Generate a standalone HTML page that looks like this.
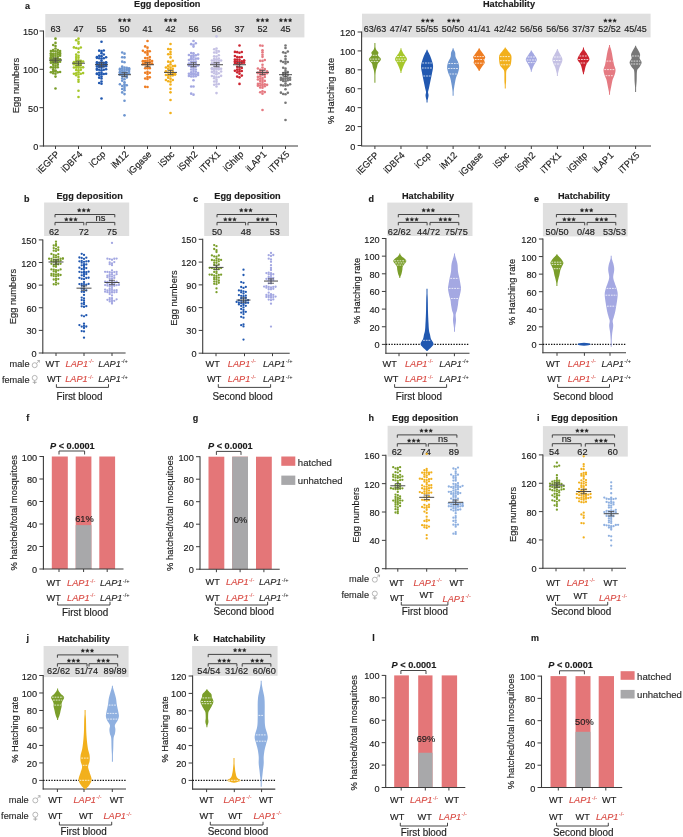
<!DOCTYPE html><html><head><meta charset="utf-8"><style>html,body{margin:0;padding:0;background:#fff;width:683px;height:837px;overflow:hidden}svg{display:block;font-family:"Liberation Sans", sans-serif;filter:blur(0.35px)}</style></head><body><svg width="683" height="837" viewBox="0 0 683 837"><rect x="0" y="0" width="683" height="837" fill="#ffffff"/>
<text x="0" y="0" font-size="9" text-anchor="start" fill="#1c1c1c" font-weight="bold" stroke="#1c1c1c" stroke-width="0.15" transform="translate(25.00 8.80) scale(1 1.03)">a</text>
<text x="0" y="0" font-size="9.2" text-anchor="middle" fill="#1c1c1c" font-weight="bold" stroke="#1c1c1c" stroke-width="0.15" transform="translate(167.30 7.30) scale(1 1.03)">Egg deposition</text>
<rect x="45.30" y="14.00" width="259.10" height="23.40" fill="#DFDFDF"/>
<line x1="43.50" y1="30.50" x2="43.50" y2="146.50" stroke="#3c3c3c" stroke-width="1.1" stroke-linecap="butt"/>
<line x1="39.50" y1="146.00" x2="43.50" y2="146.00" stroke="#3c3c3c" stroke-width="1.0" stroke-linecap="butt"/>
<text x="0" y="0" font-size="9.2" text-anchor="end" fill="#1c1c1c" stroke="#1c1c1c" stroke-width="0.15" transform="translate(38.30 150.00) scale(1 1.08)">0</text>
<line x1="39.50" y1="107.67" x2="43.50" y2="107.67" stroke="#3c3c3c" stroke-width="1.0" stroke-linecap="butt"/>
<text x="0" y="0" font-size="9.2" text-anchor="end" fill="#1c1c1c" stroke="#1c1c1c" stroke-width="0.15" transform="translate(38.30 111.67) scale(1 1.08)">50</text>
<line x1="39.50" y1="69.33" x2="43.50" y2="69.33" stroke="#3c3c3c" stroke-width="1.0" stroke-linecap="butt"/>
<text x="0" y="0" font-size="9.2" text-anchor="end" fill="#1c1c1c" stroke="#1c1c1c" stroke-width="0.15" transform="translate(38.30 73.33) scale(1 1.08)">100</text>
<line x1="39.50" y1="31.00" x2="43.50" y2="31.00" stroke="#3c3c3c" stroke-width="1.0" stroke-linecap="butt"/>
<text x="0" y="0" font-size="9.2" text-anchor="end" fill="#1c1c1c" stroke="#1c1c1c" stroke-width="0.15" transform="translate(38.30 35.00) scale(1 1.08)">150</text>
<line x1="43.00" y1="146.00" x2="298.00" y2="146.00" stroke="#3c3c3c" stroke-width="1.1" stroke-linecap="butt"/>
<line x1="55.50" y1="146.00" x2="55.50" y2="149.00" stroke="#3c3c3c" stroke-width="1.0" stroke-linecap="butt"/>
<line x1="78.50" y1="146.00" x2="78.50" y2="149.00" stroke="#3c3c3c" stroke-width="1.0" stroke-linecap="butt"/>
<line x1="101.50" y1="146.00" x2="101.50" y2="149.00" stroke="#3c3c3c" stroke-width="1.0" stroke-linecap="butt"/>
<line x1="124.50" y1="146.00" x2="124.50" y2="149.00" stroke="#3c3c3c" stroke-width="1.0" stroke-linecap="butt"/>
<line x1="147.50" y1="146.00" x2="147.50" y2="149.00" stroke="#3c3c3c" stroke-width="1.0" stroke-linecap="butt"/>
<line x1="170.50" y1="146.00" x2="170.50" y2="149.00" stroke="#3c3c3c" stroke-width="1.0" stroke-linecap="butt"/>
<line x1="193.50" y1="146.00" x2="193.50" y2="149.00" stroke="#3c3c3c" stroke-width="1.0" stroke-linecap="butt"/>
<line x1="216.50" y1="146.00" x2="216.50" y2="149.00" stroke="#3c3c3c" stroke-width="1.0" stroke-linecap="butt"/>
<line x1="239.50" y1="146.00" x2="239.50" y2="149.00" stroke="#3c3c3c" stroke-width="1.0" stroke-linecap="butt"/>
<line x1="262.50" y1="146.00" x2="262.50" y2="149.00" stroke="#3c3c3c" stroke-width="1.0" stroke-linecap="butt"/>
<line x1="285.50" y1="146.00" x2="285.50" y2="149.00" stroke="#3c3c3c" stroke-width="1.0" stroke-linecap="butt"/>
<text x="0" y="0" font-size="9.2" text-anchor="end" fill="#1c1c1c" stroke="#1c1c1c" stroke-width="0.15" transform="translate(60.00 155.00) rotate(-45) scale(1 1.03)">iEGFP</text>
<text x="0" y="0" font-size="9.2" text-anchor="end" fill="#1c1c1c" stroke="#1c1c1c" stroke-width="0.15" transform="translate(83.00 155.00) rotate(-45) scale(1 1.03)">iDBF4</text>
<text x="0" y="0" font-size="9.2" text-anchor="end" fill="#1c1c1c" stroke="#1c1c1c" stroke-width="0.15" transform="translate(106.00 155.00) rotate(-45) scale(1 1.03)">iCcp</text>
<text x="0" y="0" font-size="9.2" text-anchor="end" fill="#1c1c1c" stroke="#1c1c1c" stroke-width="0.15" transform="translate(129.00 155.00) rotate(-45) scale(1 1.03)">iM12</text>
<text x="0" y="0" font-size="9.2" text-anchor="end" fill="#1c1c1c" stroke="#1c1c1c" stroke-width="0.15" transform="translate(152.00 155.00) rotate(-45) scale(1 1.03)">iGgase</text>
<text x="0" y="0" font-size="9.2" text-anchor="end" fill="#1c1c1c" stroke="#1c1c1c" stroke-width="0.15" transform="translate(175.00 155.00) rotate(-45) scale(1 1.03)">iSbc</text>
<text x="0" y="0" font-size="9.2" text-anchor="end" fill="#1c1c1c" stroke="#1c1c1c" stroke-width="0.15" transform="translate(198.00 155.00) rotate(-45) scale(1 1.03)">iSph2</text>
<text x="0" y="0" font-size="9.2" text-anchor="end" fill="#1c1c1c" stroke="#1c1c1c" stroke-width="0.15" transform="translate(221.00 155.00) rotate(-45) scale(1 1.03)">iTPX1</text>
<text x="0" y="0" font-size="9.2" text-anchor="end" fill="#1c1c1c" stroke="#1c1c1c" stroke-width="0.15" transform="translate(244.00 155.00) rotate(-45) scale(1 1.03)">iGhitp</text>
<text x="0" y="0" font-size="9.2" text-anchor="end" fill="#1c1c1c" stroke="#1c1c1c" stroke-width="0.15" transform="translate(267.00 155.00) rotate(-45) scale(1 1.03)">iLAP1</text>
<text x="0" y="0" font-size="9.2" text-anchor="end" fill="#1c1c1c" stroke="#1c1c1c" stroke-width="0.15" transform="translate(290.00 155.00) rotate(-45) scale(1 1.03)">iTPX5</text>
<text x="0" y="0" font-size="9.3" text-anchor="middle" fill="#1c1c1c" stroke="#1c1c1c" stroke-width="0.15" transform="translate(19.20 85.60) rotate(-90) scale(1 1.03)">Egg numbers</text>
<text x="0" y="0" font-size="9.2" text-anchor="middle" fill="#1c1c1c" stroke="#1c1c1c" stroke-width="0.15" transform="translate(55.50 31.60) scale(1 1.03)">63</text>
<text x="0" y="0" font-size="9.2" text-anchor="middle" fill="#1c1c1c" stroke="#1c1c1c" stroke-width="0.15" transform="translate(78.50 31.60) scale(1 1.03)">47</text>
<text x="0" y="0" font-size="9.2" text-anchor="middle" fill="#1c1c1c" stroke="#1c1c1c" stroke-width="0.15" transform="translate(101.50 31.60) scale(1 1.03)">55</text>
<text x="0" y="0" font-size="9.2" text-anchor="middle" fill="#1c1c1c" stroke="#1c1c1c" stroke-width="0.15" transform="translate(124.50 31.60) scale(1 1.03)">50</text>
<polygon points="119.90,18.25 120.46,19.48 121.80,19.63 120.80,20.54 121.08,21.87 119.90,21.20 118.72,21.87 119.00,20.54 118.00,19.63 119.34,19.48" fill="#222" stroke="#222" stroke-width="0.35" stroke-linejoin="round"/>
<polygon points="124.50,18.25 125.06,19.48 126.40,19.63 125.40,20.54 125.68,21.87 124.50,21.20 123.32,21.87 123.60,20.54 122.60,19.63 123.94,19.48" fill="#222" stroke="#222" stroke-width="0.35" stroke-linejoin="round"/>
<polygon points="129.10,18.25 129.66,19.48 131.00,19.63 130.00,20.54 130.28,21.87 129.10,21.20 127.92,21.87 128.20,20.54 127.20,19.63 128.54,19.48" fill="#222" stroke="#222" stroke-width="0.35" stroke-linejoin="round"/>
<text x="0" y="0" font-size="9.2" text-anchor="middle" fill="#1c1c1c" stroke="#1c1c1c" stroke-width="0.15" transform="translate(147.50 31.60) scale(1 1.03)">41</text>
<text x="0" y="0" font-size="9.2" text-anchor="middle" fill="#1c1c1c" stroke="#1c1c1c" stroke-width="0.15" transform="translate(170.50 31.60) scale(1 1.03)">42</text>
<polygon points="165.90,18.25 166.46,19.48 167.80,19.63 166.80,20.54 167.08,21.87 165.90,21.20 164.72,21.87 165.00,20.54 164.00,19.63 165.34,19.48" fill="#222" stroke="#222" stroke-width="0.35" stroke-linejoin="round"/>
<polygon points="170.50,18.25 171.06,19.48 172.40,19.63 171.40,20.54 171.68,21.87 170.50,21.20 169.32,21.87 169.60,20.54 168.60,19.63 169.94,19.48" fill="#222" stroke="#222" stroke-width="0.35" stroke-linejoin="round"/>
<polygon points="175.10,18.25 175.66,19.48 177.00,19.63 176.00,20.54 176.28,21.87 175.10,21.20 173.92,21.87 174.20,20.54 173.20,19.63 174.54,19.48" fill="#222" stroke="#222" stroke-width="0.35" stroke-linejoin="round"/>
<text x="0" y="0" font-size="9.2" text-anchor="middle" fill="#1c1c1c" stroke="#1c1c1c" stroke-width="0.15" transform="translate(193.50 31.60) scale(1 1.03)">56</text>
<text x="0" y="0" font-size="9.2" text-anchor="middle" fill="#1c1c1c" stroke="#1c1c1c" stroke-width="0.15" transform="translate(216.50 31.60) scale(1 1.03)">56</text>
<text x="0" y="0" font-size="9.2" text-anchor="middle" fill="#1c1c1c" stroke="#1c1c1c" stroke-width="0.15" transform="translate(239.50 31.60) scale(1 1.03)">37</text>
<text x="0" y="0" font-size="9.2" text-anchor="middle" fill="#1c1c1c" stroke="#1c1c1c" stroke-width="0.15" transform="translate(262.50 31.60) scale(1 1.03)">52</text>
<polygon points="257.90,18.25 258.46,19.48 259.80,19.63 258.80,20.54 259.08,21.87 257.90,21.20 256.72,21.87 257.00,20.54 256.00,19.63 257.34,19.48" fill="#222" stroke="#222" stroke-width="0.35" stroke-linejoin="round"/>
<polygon points="262.50,18.25 263.06,19.48 264.40,19.63 263.40,20.54 263.68,21.87 262.50,21.20 261.32,21.87 261.60,20.54 260.60,19.63 261.94,19.48" fill="#222" stroke="#222" stroke-width="0.35" stroke-linejoin="round"/>
<polygon points="267.10,18.25 267.66,19.48 269.00,19.63 268.00,20.54 268.28,21.87 267.10,21.20 265.92,21.87 266.20,20.54 265.20,19.63 266.54,19.48" fill="#222" stroke="#222" stroke-width="0.35" stroke-linejoin="round"/>
<text x="0" y="0" font-size="9.2" text-anchor="middle" fill="#1c1c1c" stroke="#1c1c1c" stroke-width="0.15" transform="translate(285.50 31.60) scale(1 1.03)">45</text>
<polygon points="280.90,18.25 281.46,19.48 282.80,19.63 281.80,20.54 282.08,21.87 280.90,21.20 279.72,21.87 280.00,20.54 279.00,19.63 280.34,19.48" fill="#222" stroke="#222" stroke-width="0.35" stroke-linejoin="round"/>
<polygon points="285.50,18.25 286.06,19.48 287.40,19.63 286.40,20.54 286.68,21.87 285.50,21.20 284.32,21.87 284.60,20.54 283.60,19.63 284.94,19.48" fill="#222" stroke="#222" stroke-width="0.35" stroke-linejoin="round"/>
<polygon points="290.10,18.25 290.66,19.48 292.00,19.63 291.00,20.54 291.28,21.87 290.10,21.20 288.92,21.87 289.20,20.54 288.20,19.63 289.54,19.48" fill="#222" stroke="#222" stroke-width="0.35" stroke-linejoin="round"/>
<circle cx="55.50" cy="88.50" r="1.3" fill="#7A9E2A"/>
<circle cx="55.50" cy="76.60" r="1.3" fill="#7A9E2A"/>
<circle cx="55.50" cy="73.69" r="1.3" fill="#7A9E2A"/>
<circle cx="53.20" cy="73.19" r="1.3" fill="#7A9E2A"/>
<circle cx="57.80" cy="72.36" r="1.3" fill="#7A9E2A"/>
<circle cx="50.90" cy="72.31" r="1.3" fill="#7A9E2A"/>
<circle cx="60.10" cy="72.03" r="1.3" fill="#7A9E2A"/>
<circle cx="55.50" cy="71.39" r="1.3" fill="#7A9E2A"/>
<circle cx="53.20" cy="71.32" r="1.3" fill="#7A9E2A"/>
<circle cx="55.50" cy="70.61" r="1.3" fill="#7A9E2A"/>
<circle cx="53.20" cy="69.39" r="1.3" fill="#7A9E2A"/>
<circle cx="55.50" cy="67.60" r="1.3" fill="#7A9E2A"/>
<circle cx="53.20" cy="67.35" r="1.3" fill="#7A9E2A"/>
<circle cx="57.80" cy="67.31" r="1.3" fill="#7A9E2A"/>
<circle cx="50.90" cy="67.30" r="1.3" fill="#7A9E2A"/>
<circle cx="55.50" cy="65.67" r="1.3" fill="#7A9E2A"/>
<circle cx="53.20" cy="64.85" r="1.3" fill="#7A9E2A"/>
<circle cx="57.80" cy="64.78" r="1.3" fill="#7A9E2A"/>
<circle cx="55.50" cy="63.31" r="1.3" fill="#7A9E2A"/>
<circle cx="53.20" cy="62.79" r="1.3" fill="#7A9E2A"/>
<circle cx="57.80" cy="62.78" r="1.3" fill="#7A9E2A"/>
<circle cx="50.90" cy="62.66" r="1.3" fill="#7A9E2A"/>
<circle cx="60.10" cy="61.71" r="1.3" fill="#7A9E2A"/>
<circle cx="55.50" cy="61.27" r="1.3" fill="#7A9E2A"/>
<circle cx="53.20" cy="61.07" r="1.3" fill="#7A9E2A"/>
<circle cx="53.20" cy="60.99" r="1.3" fill="#7A9E2A"/>
<circle cx="57.80" cy="60.74" r="1.3" fill="#7A9E2A"/>
<circle cx="50.90" cy="60.71" r="1.3" fill="#7A9E2A"/>
<circle cx="55.50" cy="60.58" r="1.3" fill="#7A9E2A"/>
<circle cx="55.50" cy="60.11" r="1.3" fill="#7A9E2A"/>
<circle cx="55.50" cy="60.11" r="1.3" fill="#7A9E2A"/>
<circle cx="60.10" cy="59.26" r="1.3" fill="#7A9E2A"/>
<circle cx="53.20" cy="59.18" r="1.3" fill="#7A9E2A"/>
<circle cx="57.80" cy="58.83" r="1.3" fill="#7A9E2A"/>
<circle cx="50.90" cy="58.80" r="1.3" fill="#7A9E2A"/>
<circle cx="55.50" cy="58.20" r="1.3" fill="#7A9E2A"/>
<circle cx="50.90" cy="58.17" r="1.3" fill="#7A9E2A"/>
<circle cx="50.90" cy="57.62" r="1.3" fill="#7A9E2A"/>
<circle cx="53.20" cy="56.73" r="1.3" fill="#7A9E2A"/>
<circle cx="57.80" cy="56.66" r="1.3" fill="#7A9E2A"/>
<circle cx="55.50" cy="55.83" r="1.3" fill="#7A9E2A"/>
<circle cx="50.90" cy="55.77" r="1.3" fill="#7A9E2A"/>
<circle cx="60.10" cy="55.74" r="1.3" fill="#7A9E2A"/>
<circle cx="53.20" cy="54.95" r="1.3" fill="#7A9E2A"/>
<circle cx="57.80" cy="54.39" r="1.3" fill="#7A9E2A"/>
<circle cx="60.10" cy="54.04" r="1.3" fill="#7A9E2A"/>
<circle cx="55.50" cy="53.82" r="1.3" fill="#7A9E2A"/>
<circle cx="50.90" cy="53.76" r="1.3" fill="#7A9E2A"/>
<circle cx="53.20" cy="53.68" r="1.3" fill="#7A9E2A"/>
<circle cx="50.90" cy="53.64" r="1.3" fill="#7A9E2A"/>
<circle cx="60.10" cy="53.07" r="1.3" fill="#7A9E2A"/>
<circle cx="57.80" cy="52.38" r="1.3" fill="#7A9E2A"/>
<circle cx="55.50" cy="51.37" r="1.3" fill="#7A9E2A"/>
<circle cx="53.20" cy="51.09" r="1.3" fill="#7A9E2A"/>
<circle cx="50.90" cy="50.98" r="1.3" fill="#7A9E2A"/>
<circle cx="60.10" cy="50.94" r="1.3" fill="#7A9E2A"/>
<circle cx="57.80" cy="50.04" r="1.3" fill="#7A9E2A"/>
<circle cx="53.20" cy="50.03" r="1.3" fill="#7A9E2A"/>
<circle cx="55.50" cy="48.51" r="1.3" fill="#7A9E2A"/>
<circle cx="55.50" cy="46.02" r="1.3" fill="#7A9E2A"/>
<circle cx="53.20" cy="45.03" r="1.3" fill="#7A9E2A"/>
<circle cx="55.50" cy="42.91" r="1.3" fill="#7A9E2A"/>
<circle cx="55.50" cy="38.67" r="1.3" fill="#7A9E2A"/>
<line x1="49.00" y1="60.13" x2="62.00" y2="60.13" stroke="#4a4a4a" stroke-width="1.0" stroke-linecap="butt"/>
<line x1="52.50" y1="58.13" x2="58.50" y2="58.13" stroke="#4a4a4a" stroke-width="0.8" stroke-linecap="butt"/>
<line x1="52.50" y1="62.13" x2="58.50" y2="62.13" stroke="#4a4a4a" stroke-width="0.8" stroke-linecap="butt"/>
<line x1="55.50" y1="58.13" x2="55.50" y2="62.13" stroke="#4a4a4a" stroke-width="0.8" stroke-linecap="butt"/>
<circle cx="78.50" cy="96.93" r="1.3" fill="#A6C72A"/>
<circle cx="78.50" cy="90.77" r="1.3" fill="#A6C72A"/>
<circle cx="78.50" cy="81.75" r="1.3" fill="#A6C72A"/>
<circle cx="78.50" cy="79.86" r="1.3" fill="#A6C72A"/>
<circle cx="78.50" cy="77.04" r="1.3" fill="#A6C72A"/>
<circle cx="76.20" cy="75.29" r="1.3" fill="#A6C72A"/>
<circle cx="78.50" cy="74.53" r="1.3" fill="#A6C72A"/>
<circle cx="80.80" cy="73.79" r="1.3" fill="#A6C72A"/>
<circle cx="73.90" cy="73.72" r="1.3" fill="#A6C72A"/>
<circle cx="76.20" cy="73.27" r="1.3" fill="#A6C72A"/>
<circle cx="83.10" cy="73.09" r="1.3" fill="#A6C72A"/>
<circle cx="78.50" cy="72.22" r="1.3" fill="#A6C72A"/>
<circle cx="78.50" cy="70.31" r="1.3" fill="#A6C72A"/>
<circle cx="76.20" cy="70.12" r="1.3" fill="#A6C72A"/>
<circle cx="80.80" cy="69.87" r="1.3" fill="#A6C72A"/>
<circle cx="78.50" cy="67.82" r="1.3" fill="#A6C72A"/>
<circle cx="76.20" cy="67.60" r="1.3" fill="#A6C72A"/>
<circle cx="80.80" cy="67.54" r="1.3" fill="#A6C72A"/>
<circle cx="73.90" cy="67.52" r="1.3" fill="#A6C72A"/>
<circle cx="83.10" cy="67.37" r="1.3" fill="#A6C72A"/>
<circle cx="78.50" cy="66.61" r="1.3" fill="#A6C72A"/>
<circle cx="76.20" cy="65.63" r="1.3" fill="#A6C72A"/>
<circle cx="80.80" cy="65.02" r="1.3" fill="#A6C72A"/>
<circle cx="78.50" cy="64.69" r="1.3" fill="#A6C72A"/>
<circle cx="73.90" cy="64.24" r="1.3" fill="#A6C72A"/>
<circle cx="76.20" cy="63.23" r="1.3" fill="#A6C72A"/>
<circle cx="80.80" cy="63.13" r="1.3" fill="#A6C72A"/>
<circle cx="78.50" cy="62.63" r="1.3" fill="#A6C72A"/>
<circle cx="73.90" cy="62.13" r="1.3" fill="#A6C72A"/>
<circle cx="83.10" cy="61.51" r="1.3" fill="#A6C72A"/>
<circle cx="76.20" cy="61.06" r="1.3" fill="#A6C72A"/>
<circle cx="80.80" cy="60.91" r="1.3" fill="#A6C72A"/>
<circle cx="78.50" cy="60.24" r="1.3" fill="#A6C72A"/>
<circle cx="76.20" cy="59.00" r="1.3" fill="#A6C72A"/>
<circle cx="78.50" cy="57.70" r="1.3" fill="#A6C72A"/>
<circle cx="76.20" cy="56.96" r="1.3" fill="#A6C72A"/>
<circle cx="78.50" cy="55.73" r="1.3" fill="#A6C72A"/>
<circle cx="76.20" cy="54.64" r="1.3" fill="#A6C72A"/>
<circle cx="78.50" cy="52.22" r="1.3" fill="#A6C72A"/>
<circle cx="78.50" cy="48.59" r="1.3" fill="#A6C72A"/>
<circle cx="76.20" cy="47.98" r="1.3" fill="#A6C72A"/>
<circle cx="80.80" cy="47.55" r="1.3" fill="#A6C72A"/>
<circle cx="73.90" cy="47.38" r="1.3" fill="#A6C72A"/>
<circle cx="78.50" cy="43.58" r="1.3" fill="#A6C72A"/>
<circle cx="78.50" cy="41.77" r="1.3" fill="#A6C72A"/>
<circle cx="76.20" cy="40.21" r="1.3" fill="#A6C72A"/>
<circle cx="78.50" cy="38.67" r="1.3" fill="#A6C72A"/>
<line x1="72.00" y1="63.20" x2="85.00" y2="63.20" stroke="#4a4a4a" stroke-width="1.0" stroke-linecap="butt"/>
<line x1="75.50" y1="61.20" x2="81.50" y2="61.20" stroke="#4a4a4a" stroke-width="0.8" stroke-linecap="butt"/>
<line x1="75.50" y1="65.20" x2="81.50" y2="65.20" stroke="#4a4a4a" stroke-width="0.8" stroke-linecap="butt"/>
<line x1="78.50" y1="61.20" x2="78.50" y2="65.20" stroke="#4a4a4a" stroke-width="0.8" stroke-linecap="butt"/>
<circle cx="101.50" cy="98.47" r="1.3" fill="#2158B0"/>
<circle cx="101.50" cy="83.79" r="1.3" fill="#2158B0"/>
<circle cx="99.20" cy="82.99" r="1.3" fill="#2158B0"/>
<circle cx="101.50" cy="81.55" r="1.3" fill="#2158B0"/>
<circle cx="101.50" cy="78.45" r="1.3" fill="#2158B0"/>
<circle cx="99.20" cy="77.67" r="1.3" fill="#2158B0"/>
<circle cx="101.50" cy="76.59" r="1.3" fill="#2158B0"/>
<circle cx="99.20" cy="75.03" r="1.3" fill="#2158B0"/>
<circle cx="101.50" cy="74.23" r="1.3" fill="#2158B0"/>
<circle cx="103.80" cy="74.07" r="1.3" fill="#2158B0"/>
<circle cx="96.90" cy="74.03" r="1.3" fill="#2158B0"/>
<circle cx="106.10" cy="73.82" r="1.3" fill="#2158B0"/>
<circle cx="96.90" cy="73.65" r="1.3" fill="#2158B0"/>
<circle cx="99.20" cy="72.81" r="1.3" fill="#2158B0"/>
<circle cx="101.50" cy="72.67" r="1.3" fill="#2158B0"/>
<circle cx="101.50" cy="70.20" r="1.3" fill="#2158B0"/>
<circle cx="99.20" cy="69.82" r="1.3" fill="#2158B0"/>
<circle cx="103.80" cy="69.82" r="1.3" fill="#2158B0"/>
<circle cx="96.90" cy="69.74" r="1.3" fill="#2158B0"/>
<circle cx="106.10" cy="69.26" r="1.3" fill="#2158B0"/>
<circle cx="96.90" cy="68.72" r="1.3" fill="#2158B0"/>
<circle cx="101.50" cy="67.72" r="1.3" fill="#2158B0"/>
<circle cx="99.20" cy="67.06" r="1.3" fill="#2158B0"/>
<circle cx="103.80" cy="66.57" r="1.3" fill="#2158B0"/>
<circle cx="96.90" cy="66.53" r="1.3" fill="#2158B0"/>
<circle cx="106.10" cy="66.14" r="1.3" fill="#2158B0"/>
<circle cx="101.50" cy="65.88" r="1.3" fill="#2158B0"/>
<circle cx="101.50" cy="65.48" r="1.3" fill="#2158B0"/>
<circle cx="99.20" cy="65.25" r="1.3" fill="#2158B0"/>
<circle cx="103.80" cy="64.75" r="1.3" fill="#2158B0"/>
<circle cx="96.90" cy="64.29" r="1.3" fill="#2158B0"/>
<circle cx="106.10" cy="64.26" r="1.3" fill="#2158B0"/>
<circle cx="96.90" cy="64.17" r="1.3" fill="#2158B0"/>
<circle cx="101.50" cy="62.90" r="1.3" fill="#2158B0"/>
<circle cx="99.20" cy="62.87" r="1.3" fill="#2158B0"/>
<circle cx="103.80" cy="62.85" r="1.3" fill="#2158B0"/>
<circle cx="106.10" cy="62.74" r="1.3" fill="#2158B0"/>
<circle cx="101.50" cy="62.57" r="1.3" fill="#2158B0"/>
<circle cx="96.90" cy="62.34" r="1.3" fill="#2158B0"/>
<circle cx="106.10" cy="62.26" r="1.3" fill="#2158B0"/>
<circle cx="101.50" cy="60.49" r="1.3" fill="#2158B0"/>
<circle cx="101.50" cy="58.53" r="1.3" fill="#2158B0"/>
<circle cx="99.20" cy="58.31" r="1.3" fill="#2158B0"/>
<circle cx="103.80" cy="58.27" r="1.3" fill="#2158B0"/>
<circle cx="96.90" cy="57.84" r="1.3" fill="#2158B0"/>
<circle cx="106.10" cy="57.24" r="1.3" fill="#2158B0"/>
<circle cx="96.90" cy="57.03" r="1.3" fill="#2158B0"/>
<circle cx="101.50" cy="56.13" r="1.3" fill="#2158B0"/>
<circle cx="99.20" cy="55.85" r="1.3" fill="#2158B0"/>
<circle cx="103.80" cy="54.46" r="1.3" fill="#2158B0"/>
<circle cx="101.50" cy="53.16" r="1.3" fill="#2158B0"/>
<circle cx="101.50" cy="51.12" r="1.3" fill="#2158B0"/>
<circle cx="99.20" cy="50.64" r="1.3" fill="#2158B0"/>
<circle cx="103.80" cy="50.53" r="1.3" fill="#2158B0"/>
<circle cx="101.50" cy="41.73" r="1.3" fill="#2158B0"/>
<line x1="95.00" y1="64.73" x2="108.00" y2="64.73" stroke="#4a4a4a" stroke-width="1.0" stroke-linecap="butt"/>
<line x1="98.50" y1="62.73" x2="104.50" y2="62.73" stroke="#4a4a4a" stroke-width="0.8" stroke-linecap="butt"/>
<line x1="98.50" y1="66.73" x2="104.50" y2="66.73" stroke="#4a4a4a" stroke-width="0.8" stroke-linecap="butt"/>
<line x1="101.50" y1="62.73" x2="101.50" y2="66.73" stroke="#4a4a4a" stroke-width="0.8" stroke-linecap="butt"/>
<circle cx="124.50" cy="115.33" r="1.3" fill="#6E96D0"/>
<circle cx="124.50" cy="100.73" r="1.3" fill="#6E96D0"/>
<circle cx="124.50" cy="94.10" r="1.3" fill="#6E96D0"/>
<circle cx="122.20" cy="92.40" r="1.3" fill="#6E96D0"/>
<circle cx="124.50" cy="90.13" r="1.3" fill="#6E96D0"/>
<circle cx="122.20" cy="89.04" r="1.3" fill="#6E96D0"/>
<circle cx="124.50" cy="87.89" r="1.3" fill="#6E96D0"/>
<circle cx="124.50" cy="86.02" r="1.3" fill="#6E96D0"/>
<circle cx="122.20" cy="85.93" r="1.3" fill="#6E96D0"/>
<circle cx="126.80" cy="85.23" r="1.3" fill="#6E96D0"/>
<circle cx="119.90" cy="84.28" r="1.3" fill="#6E96D0"/>
<circle cx="124.50" cy="84.20" r="1.3" fill="#6E96D0"/>
<circle cx="124.50" cy="82.28" r="1.3" fill="#6E96D0"/>
<circle cx="122.20" cy="80.81" r="1.3" fill="#6E96D0"/>
<circle cx="124.50" cy="79.30" r="1.3" fill="#6E96D0"/>
<circle cx="122.20" cy="78.50" r="1.3" fill="#6E96D0"/>
<circle cx="126.80" cy="77.50" r="1.3" fill="#6E96D0"/>
<circle cx="124.50" cy="76.29" r="1.3" fill="#6E96D0"/>
<circle cx="122.20" cy="76.11" r="1.3" fill="#6E96D0"/>
<circle cx="126.80" cy="75.66" r="1.3" fill="#6E96D0"/>
<circle cx="119.90" cy="74.77" r="1.3" fill="#6E96D0"/>
<circle cx="124.50" cy="74.43" r="1.3" fill="#6E96D0"/>
<circle cx="122.20" cy="74.03" r="1.3" fill="#6E96D0"/>
<circle cx="126.80" cy="73.57" r="1.3" fill="#6E96D0"/>
<circle cx="129.10" cy="73.36" r="1.3" fill="#6E96D0"/>
<circle cx="124.50" cy="73.34" r="1.3" fill="#6E96D0"/>
<circle cx="119.90" cy="73.06" r="1.3" fill="#6E96D0"/>
<circle cx="119.90" cy="72.48" r="1.3" fill="#6E96D0"/>
<circle cx="126.80" cy="72.45" r="1.3" fill="#6E96D0"/>
<circle cx="122.20" cy="72.35" r="1.3" fill="#6E96D0"/>
<circle cx="119.90" cy="72.08" r="1.3" fill="#6E96D0"/>
<circle cx="124.50" cy="71.33" r="1.3" fill="#6E96D0"/>
<circle cx="129.10" cy="71.11" r="1.3" fill="#6E96D0"/>
<circle cx="122.20" cy="70.38" r="1.3" fill="#6E96D0"/>
<circle cx="126.80" cy="69.89" r="1.3" fill="#6E96D0"/>
<circle cx="119.90" cy="69.67" r="1.3" fill="#6E96D0"/>
<circle cx="124.50" cy="69.45" r="1.3" fill="#6E96D0"/>
<circle cx="129.10" cy="69.18" r="1.3" fill="#6E96D0"/>
<circle cx="119.90" cy="68.91" r="1.3" fill="#6E96D0"/>
<circle cx="122.20" cy="68.42" r="1.3" fill="#6E96D0"/>
<circle cx="129.10" cy="68.31" r="1.3" fill="#6E96D0"/>
<circle cx="126.80" cy="67.89" r="1.3" fill="#6E96D0"/>
<circle cx="124.50" cy="67.63" r="1.3" fill="#6E96D0"/>
<circle cx="122.20" cy="66.60" r="1.3" fill="#6E96D0"/>
<circle cx="124.50" cy="62.22" r="1.3" fill="#6E96D0"/>
<circle cx="122.20" cy="61.65" r="1.3" fill="#6E96D0"/>
<circle cx="124.50" cy="57.41" r="1.3" fill="#6E96D0"/>
<circle cx="122.20" cy="57.30" r="1.3" fill="#6E96D0"/>
<circle cx="124.50" cy="53.67" r="1.3" fill="#6E96D0"/>
<circle cx="122.20" cy="52.47" r="1.3" fill="#6E96D0"/>
<line x1="118.00" y1="74.70" x2="131.00" y2="74.70" stroke="#4a4a4a" stroke-width="1.0" stroke-linecap="butt"/>
<line x1="121.50" y1="72.70" x2="127.50" y2="72.70" stroke="#4a4a4a" stroke-width="0.8" stroke-linecap="butt"/>
<line x1="121.50" y1="76.70" x2="127.50" y2="76.70" stroke="#4a4a4a" stroke-width="0.8" stroke-linecap="butt"/>
<line x1="124.50" y1="72.70" x2="124.50" y2="76.70" stroke="#4a4a4a" stroke-width="0.8" stroke-linecap="butt"/>
<circle cx="147.50" cy="86.97" r="1.3" fill="#EE7D22"/>
<circle cx="145.20" cy="86.83" r="1.3" fill="#EE7D22"/>
<circle cx="147.50" cy="79.07" r="1.3" fill="#EE7D22"/>
<circle cx="145.20" cy="78.55" r="1.3" fill="#EE7D22"/>
<circle cx="149.80" cy="77.33" r="1.3" fill="#EE7D22"/>
<circle cx="147.50" cy="76.98" r="1.3" fill="#EE7D22"/>
<circle cx="147.50" cy="74.12" r="1.3" fill="#EE7D22"/>
<circle cx="145.20" cy="72.78" r="1.3" fill="#EE7D22"/>
<circle cx="149.80" cy="72.74" r="1.3" fill="#EE7D22"/>
<circle cx="147.50" cy="71.88" r="1.3" fill="#EE7D22"/>
<circle cx="147.50" cy="68.34" r="1.3" fill="#EE7D22"/>
<circle cx="145.20" cy="68.20" r="1.3" fill="#EE7D22"/>
<circle cx="149.80" cy="68.13" r="1.3" fill="#EE7D22"/>
<circle cx="147.50" cy="66.48" r="1.3" fill="#EE7D22"/>
<circle cx="147.50" cy="64.43" r="1.3" fill="#EE7D22"/>
<circle cx="145.20" cy="64.33" r="1.3" fill="#EE7D22"/>
<circle cx="149.80" cy="64.27" r="1.3" fill="#EE7D22"/>
<circle cx="142.90" cy="64.15" r="1.3" fill="#EE7D22"/>
<circle cx="152.10" cy="63.67" r="1.3" fill="#EE7D22"/>
<circle cx="145.20" cy="63.51" r="1.3" fill="#EE7D22"/>
<circle cx="147.50" cy="62.20" r="1.3" fill="#EE7D22"/>
<circle cx="149.80" cy="62.05" r="1.3" fill="#EE7D22"/>
<circle cx="145.20" cy="61.57" r="1.3" fill="#EE7D22"/>
<circle cx="142.90" cy="61.46" r="1.3" fill="#EE7D22"/>
<circle cx="152.10" cy="61.06" r="1.3" fill="#EE7D22"/>
<circle cx="142.90" cy="61.01" r="1.3" fill="#EE7D22"/>
<circle cx="145.20" cy="60.97" r="1.3" fill="#EE7D22"/>
<circle cx="147.50" cy="60.45" r="1.3" fill="#EE7D22"/>
<circle cx="149.80" cy="59.68" r="1.3" fill="#EE7D22"/>
<circle cx="147.50" cy="58.11" r="1.3" fill="#EE7D22"/>
<circle cx="145.20" cy="58.07" r="1.3" fill="#EE7D22"/>
<circle cx="149.80" cy="57.09" r="1.3" fill="#EE7D22"/>
<circle cx="147.50" cy="54.81" r="1.3" fill="#EE7D22"/>
<circle cx="147.50" cy="53.01" r="1.3" fill="#EE7D22"/>
<circle cx="145.20" cy="52.33" r="1.3" fill="#EE7D22"/>
<circle cx="149.80" cy="51.23" r="1.3" fill="#EE7D22"/>
<circle cx="147.50" cy="50.88" r="1.3" fill="#EE7D22"/>
<circle cx="142.90" cy="50.77" r="1.3" fill="#EE7D22"/>
<circle cx="147.50" cy="47.63" r="1.3" fill="#EE7D22"/>
<circle cx="145.20" cy="46.41" r="1.3" fill="#EE7D22"/>
<circle cx="147.50" cy="40.97" r="1.3" fill="#EE7D22"/>
<line x1="141.00" y1="64.73" x2="154.00" y2="64.73" stroke="#4a4a4a" stroke-width="1.0" stroke-linecap="butt"/>
<line x1="144.50" y1="62.73" x2="150.50" y2="62.73" stroke="#4a4a4a" stroke-width="0.8" stroke-linecap="butt"/>
<line x1="144.50" y1="66.73" x2="150.50" y2="66.73" stroke="#4a4a4a" stroke-width="0.8" stroke-linecap="butt"/>
<line x1="147.50" y1="62.73" x2="147.50" y2="66.73" stroke="#4a4a4a" stroke-width="0.8" stroke-linecap="butt"/>
<circle cx="170.50" cy="113.03" r="1.3" fill="#F2B01C"/>
<circle cx="170.50" cy="100.00" r="1.3" fill="#F2B01C"/>
<circle cx="170.50" cy="92.34" r="1.3" fill="#F2B01C"/>
<circle cx="170.50" cy="88.84" r="1.3" fill="#F2B01C"/>
<circle cx="170.50" cy="84.48" r="1.3" fill="#F2B01C"/>
<circle cx="170.50" cy="81.67" r="1.3" fill="#F2B01C"/>
<circle cx="168.20" cy="81.30" r="1.3" fill="#F2B01C"/>
<circle cx="172.80" cy="80.07" r="1.3" fill="#F2B01C"/>
<circle cx="165.90" cy="80.04" r="1.3" fill="#F2B01C"/>
<circle cx="170.50" cy="78.64" r="1.3" fill="#F2B01C"/>
<circle cx="168.20" cy="77.66" r="1.3" fill="#F2B01C"/>
<circle cx="170.50" cy="75.67" r="1.3" fill="#F2B01C"/>
<circle cx="168.20" cy="75.44" r="1.3" fill="#F2B01C"/>
<circle cx="172.80" cy="75.36" r="1.3" fill="#F2B01C"/>
<circle cx="165.90" cy="74.93" r="1.3" fill="#F2B01C"/>
<circle cx="175.10" cy="74.62" r="1.3" fill="#F2B01C"/>
<circle cx="175.10" cy="74.03" r="1.3" fill="#F2B01C"/>
<circle cx="172.80" cy="74.00" r="1.3" fill="#F2B01C"/>
<circle cx="170.50" cy="72.72" r="1.3" fill="#F2B01C"/>
<circle cx="168.20" cy="72.48" r="1.3" fill="#F2B01C"/>
<circle cx="172.80" cy="71.91" r="1.3" fill="#F2B01C"/>
<circle cx="165.90" cy="71.34" r="1.3" fill="#F2B01C"/>
<circle cx="170.50" cy="69.89" r="1.3" fill="#F2B01C"/>
<circle cx="168.20" cy="68.84" r="1.3" fill="#F2B01C"/>
<circle cx="172.80" cy="68.74" r="1.3" fill="#F2B01C"/>
<circle cx="170.50" cy="67.60" r="1.3" fill="#F2B01C"/>
<circle cx="165.90" cy="67.51" r="1.3" fill="#F2B01C"/>
<circle cx="168.20" cy="66.15" r="1.3" fill="#F2B01C"/>
<circle cx="172.80" cy="66.10" r="1.3" fill="#F2B01C"/>
<circle cx="175.10" cy="65.88" r="1.3" fill="#F2B01C"/>
<circle cx="168.20" cy="65.87" r="1.3" fill="#F2B01C"/>
<circle cx="170.50" cy="64.34" r="1.3" fill="#F2B01C"/>
<circle cx="170.50" cy="62.04" r="1.3" fill="#F2B01C"/>
<circle cx="168.20" cy="61.65" r="1.3" fill="#F2B01C"/>
<circle cx="172.80" cy="60.78" r="1.3" fill="#F2B01C"/>
<circle cx="170.50" cy="57.40" r="1.3" fill="#F2B01C"/>
<circle cx="170.50" cy="54.27" r="1.3" fill="#F2B01C"/>
<circle cx="168.20" cy="54.24" r="1.3" fill="#F2B01C"/>
<circle cx="170.50" cy="51.99" r="1.3" fill="#F2B01C"/>
<circle cx="170.50" cy="49.22" r="1.3" fill="#F2B01C"/>
<circle cx="168.20" cy="48.93" r="1.3" fill="#F2B01C"/>
<circle cx="170.50" cy="44.03" r="1.3" fill="#F2B01C"/>
<line x1="164.00" y1="72.40" x2="177.00" y2="72.40" stroke="#4a4a4a" stroke-width="1.0" stroke-linecap="butt"/>
<line x1="167.50" y1="70.40" x2="173.50" y2="70.40" stroke="#4a4a4a" stroke-width="0.8" stroke-linecap="butt"/>
<line x1="167.50" y1="74.40" x2="173.50" y2="74.40" stroke="#4a4a4a" stroke-width="0.8" stroke-linecap="butt"/>
<line x1="170.50" y1="70.40" x2="170.50" y2="74.40" stroke="#4a4a4a" stroke-width="0.8" stroke-linecap="butt"/>
<circle cx="193.50" cy="94.63" r="1.3" fill="#A4A8E2"/>
<circle cx="191.20" cy="93.65" r="1.3" fill="#A4A8E2"/>
<circle cx="193.50" cy="86.56" r="1.3" fill="#A4A8E2"/>
<circle cx="191.20" cy="86.43" r="1.3" fill="#A4A8E2"/>
<circle cx="193.50" cy="80.30" r="1.3" fill="#A4A8E2"/>
<circle cx="193.50" cy="76.57" r="1.3" fill="#A4A8E2"/>
<circle cx="191.20" cy="76.50" r="1.3" fill="#A4A8E2"/>
<circle cx="195.80" cy="76.18" r="1.3" fill="#A4A8E2"/>
<circle cx="188.90" cy="75.90" r="1.3" fill="#A4A8E2"/>
<circle cx="198.10" cy="74.99" r="1.3" fill="#A4A8E2"/>
<circle cx="193.50" cy="74.69" r="1.3" fill="#A4A8E2"/>
<circle cx="191.20" cy="74.39" r="1.3" fill="#A4A8E2"/>
<circle cx="195.80" cy="74.37" r="1.3" fill="#A4A8E2"/>
<circle cx="188.90" cy="73.71" r="1.3" fill="#A4A8E2"/>
<circle cx="193.50" cy="73.61" r="1.3" fill="#A4A8E2"/>
<circle cx="193.50" cy="73.54" r="1.3" fill="#A4A8E2"/>
<circle cx="198.10" cy="72.94" r="1.3" fill="#A4A8E2"/>
<circle cx="191.20" cy="72.38" r="1.3" fill="#A4A8E2"/>
<circle cx="195.80" cy="71.78" r="1.3" fill="#A4A8E2"/>
<circle cx="193.50" cy="71.00" r="1.3" fill="#A4A8E2"/>
<circle cx="191.20" cy="69.45" r="1.3" fill="#A4A8E2"/>
<circle cx="195.80" cy="69.43" r="1.3" fill="#A4A8E2"/>
<circle cx="193.50" cy="68.96" r="1.3" fill="#A4A8E2"/>
<circle cx="193.50" cy="66.94" r="1.3" fill="#A4A8E2"/>
<circle cx="191.20" cy="66.86" r="1.3" fill="#A4A8E2"/>
<circle cx="195.80" cy="66.58" r="1.3" fill="#A4A8E2"/>
<circle cx="188.90" cy="65.73" r="1.3" fill="#A4A8E2"/>
<circle cx="198.10" cy="65.48" r="1.3" fill="#A4A8E2"/>
<circle cx="193.50" cy="64.58" r="1.3" fill="#A4A8E2"/>
<circle cx="191.20" cy="64.46" r="1.3" fill="#A4A8E2"/>
<circle cx="195.80" cy="64.08" r="1.3" fill="#A4A8E2"/>
<circle cx="191.20" cy="63.99" r="1.3" fill="#A4A8E2"/>
<circle cx="188.90" cy="63.55" r="1.3" fill="#A4A8E2"/>
<circle cx="193.50" cy="61.68" r="1.3" fill="#A4A8E2"/>
<circle cx="191.20" cy="61.58" r="1.3" fill="#A4A8E2"/>
<circle cx="195.80" cy="61.56" r="1.3" fill="#A4A8E2"/>
<circle cx="188.90" cy="60.00" r="1.3" fill="#A4A8E2"/>
<circle cx="193.50" cy="59.55" r="1.3" fill="#A4A8E2"/>
<circle cx="191.20" cy="59.01" r="1.3" fill="#A4A8E2"/>
<circle cx="195.80" cy="58.66" r="1.3" fill="#A4A8E2"/>
<circle cx="198.10" cy="58.59" r="1.3" fill="#A4A8E2"/>
<circle cx="191.20" cy="58.49" r="1.3" fill="#A4A8E2"/>
<circle cx="191.20" cy="58.33" r="1.3" fill="#A4A8E2"/>
<circle cx="193.50" cy="57.11" r="1.3" fill="#A4A8E2"/>
<circle cx="191.20" cy="56.08" r="1.3" fill="#A4A8E2"/>
<circle cx="195.80" cy="55.37" r="1.3" fill="#A4A8E2"/>
<circle cx="193.50" cy="55.18" r="1.3" fill="#A4A8E2"/>
<circle cx="188.90" cy="54.96" r="1.3" fill="#A4A8E2"/>
<circle cx="198.10" cy="54.45" r="1.3" fill="#A4A8E2"/>
<circle cx="193.50" cy="53.23" r="1.3" fill="#A4A8E2"/>
<circle cx="191.20" cy="53.12" r="1.3" fill="#A4A8E2"/>
<circle cx="193.50" cy="46.62" r="1.3" fill="#A4A8E2"/>
<circle cx="193.50" cy="44.78" r="1.3" fill="#A4A8E2"/>
<circle cx="191.20" cy="44.14" r="1.3" fill="#A4A8E2"/>
<circle cx="195.80" cy="43.32" r="1.3" fill="#A4A8E2"/>
<circle cx="193.50" cy="40.97" r="1.3" fill="#A4A8E2"/>
<line x1="187.00" y1="64.73" x2="200.00" y2="64.73" stroke="#4a4a4a" stroke-width="1.0" stroke-linecap="butt"/>
<line x1="190.50" y1="62.73" x2="196.50" y2="62.73" stroke="#4a4a4a" stroke-width="0.8" stroke-linecap="butt"/>
<line x1="190.50" y1="66.73" x2="196.50" y2="66.73" stroke="#4a4a4a" stroke-width="0.8" stroke-linecap="butt"/>
<line x1="193.50" y1="62.73" x2="193.50" y2="66.73" stroke="#4a4a4a" stroke-width="0.8" stroke-linecap="butt"/>
<circle cx="216.50" cy="93.10" r="1.3" fill="#C5C1E4"/>
<circle cx="216.50" cy="86.50" r="1.3" fill="#C5C1E4"/>
<circle cx="214.20" cy="84.74" r="1.3" fill="#C5C1E4"/>
<circle cx="216.50" cy="84.26" r="1.3" fill="#C5C1E4"/>
<circle cx="218.80" cy="84.07" r="1.3" fill="#C5C1E4"/>
<circle cx="216.50" cy="81.67" r="1.3" fill="#C5C1E4"/>
<circle cx="214.20" cy="81.45" r="1.3" fill="#C5C1E4"/>
<circle cx="216.50" cy="79.73" r="1.3" fill="#C5C1E4"/>
<circle cx="214.20" cy="78.31" r="1.3" fill="#C5C1E4"/>
<circle cx="216.50" cy="77.39" r="1.3" fill="#C5C1E4"/>
<circle cx="218.80" cy="77.01" r="1.3" fill="#C5C1E4"/>
<circle cx="214.20" cy="76.46" r="1.3" fill="#C5C1E4"/>
<circle cx="211.90" cy="76.05" r="1.3" fill="#C5C1E4"/>
<circle cx="221.10" cy="75.84" r="1.3" fill="#C5C1E4"/>
<circle cx="216.50" cy="74.36" r="1.3" fill="#C5C1E4"/>
<circle cx="214.20" cy="73.25" r="1.3" fill="#C5C1E4"/>
<circle cx="218.80" cy="73.22" r="1.3" fill="#C5C1E4"/>
<circle cx="216.50" cy="72.09" r="1.3" fill="#C5C1E4"/>
<circle cx="211.90" cy="71.88" r="1.3" fill="#C5C1E4"/>
<circle cx="221.10" cy="71.57" r="1.3" fill="#C5C1E4"/>
<circle cx="214.20" cy="70.89" r="1.3" fill="#C5C1E4"/>
<circle cx="216.50" cy="69.46" r="1.3" fill="#C5C1E4"/>
<circle cx="218.80" cy="69.35" r="1.3" fill="#C5C1E4"/>
<circle cx="214.20" cy="69.00" r="1.3" fill="#C5C1E4"/>
<circle cx="211.90" cy="68.92" r="1.3" fill="#C5C1E4"/>
<circle cx="221.10" cy="68.72" r="1.3" fill="#C5C1E4"/>
<circle cx="214.20" cy="68.70" r="1.3" fill="#C5C1E4"/>
<circle cx="216.50" cy="68.36" r="1.3" fill="#C5C1E4"/>
<circle cx="211.90" cy="68.15" r="1.3" fill="#C5C1E4"/>
<circle cx="218.80" cy="67.53" r="1.3" fill="#C5C1E4"/>
<circle cx="216.50" cy="66.22" r="1.3" fill="#C5C1E4"/>
<circle cx="214.20" cy="65.97" r="1.3" fill="#C5C1E4"/>
<circle cx="218.80" cy="64.65" r="1.3" fill="#C5C1E4"/>
<circle cx="216.50" cy="64.13" r="1.3" fill="#C5C1E4"/>
<circle cx="214.20" cy="63.38" r="1.3" fill="#C5C1E4"/>
<circle cx="211.90" cy="63.20" r="1.3" fill="#C5C1E4"/>
<circle cx="218.80" cy="62.68" r="1.3" fill="#C5C1E4"/>
<circle cx="216.50" cy="62.10" r="1.3" fill="#C5C1E4"/>
<circle cx="214.20" cy="60.66" r="1.3" fill="#C5C1E4"/>
<circle cx="218.80" cy="60.66" r="1.3" fill="#C5C1E4"/>
<circle cx="211.90" cy="60.50" r="1.3" fill="#C5C1E4"/>
<circle cx="221.10" cy="60.46" r="1.3" fill="#C5C1E4"/>
<circle cx="216.50" cy="59.58" r="1.3" fill="#C5C1E4"/>
<circle cx="216.50" cy="59.54" r="1.3" fill="#C5C1E4"/>
<circle cx="214.20" cy="58.84" r="1.3" fill="#C5C1E4"/>
<circle cx="218.80" cy="58.46" r="1.3" fill="#C5C1E4"/>
<circle cx="216.50" cy="56.61" r="1.3" fill="#C5C1E4"/>
<circle cx="214.20" cy="56.33" r="1.3" fill="#C5C1E4"/>
<circle cx="218.80" cy="55.28" r="1.3" fill="#C5C1E4"/>
<circle cx="216.50" cy="52.68" r="1.3" fill="#C5C1E4"/>
<circle cx="214.20" cy="52.54" r="1.3" fill="#C5C1E4"/>
<circle cx="218.80" cy="51.39" r="1.3" fill="#C5C1E4"/>
<circle cx="216.50" cy="50.77" r="1.3" fill="#C5C1E4"/>
<circle cx="214.20" cy="49.25" r="1.3" fill="#C5C1E4"/>
<circle cx="216.50" cy="48.47" r="1.3" fill="#C5C1E4"/>
<circle cx="216.50" cy="36.37" r="1.3" fill="#C5C1E4"/>
<line x1="210.00" y1="64.73" x2="223.00" y2="64.73" stroke="#4a4a4a" stroke-width="1.0" stroke-linecap="butt"/>
<line x1="213.50" y1="62.73" x2="219.50" y2="62.73" stroke="#4a4a4a" stroke-width="0.8" stroke-linecap="butt"/>
<line x1="213.50" y1="66.73" x2="219.50" y2="66.73" stroke="#4a4a4a" stroke-width="0.8" stroke-linecap="butt"/>
<line x1="216.50" y1="62.73" x2="216.50" y2="66.73" stroke="#4a4a4a" stroke-width="0.8" stroke-linecap="butt"/>
<circle cx="239.50" cy="83.90" r="1.3" fill="#CC2430"/>
<circle cx="239.50" cy="77.33" r="1.3" fill="#CC2430"/>
<circle cx="237.20" cy="76.60" r="1.3" fill="#CC2430"/>
<circle cx="241.80" cy="75.61" r="1.3" fill="#CC2430"/>
<circle cx="239.50" cy="73.67" r="1.3" fill="#CC2430"/>
<circle cx="237.20" cy="72.33" r="1.3" fill="#CC2430"/>
<circle cx="239.50" cy="71.28" r="1.3" fill="#CC2430"/>
<circle cx="241.80" cy="70.99" r="1.3" fill="#CC2430"/>
<circle cx="234.90" cy="70.79" r="1.3" fill="#CC2430"/>
<circle cx="237.20" cy="69.67" r="1.3" fill="#CC2430"/>
<circle cx="239.50" cy="69.43" r="1.3" fill="#CC2430"/>
<circle cx="241.80" cy="67.95" r="1.3" fill="#CC2430"/>
<circle cx="239.50" cy="67.44" r="1.3" fill="#CC2430"/>
<circle cx="237.20" cy="66.83" r="1.3" fill="#CC2430"/>
<circle cx="239.50" cy="64.15" r="1.3" fill="#CC2430"/>
<circle cx="237.20" cy="63.43" r="1.3" fill="#CC2430"/>
<circle cx="241.80" cy="63.11" r="1.3" fill="#CC2430"/>
<circle cx="234.90" cy="62.95" r="1.3" fill="#CC2430"/>
<circle cx="244.10" cy="62.76" r="1.3" fill="#CC2430"/>
<circle cx="239.50" cy="61.68" r="1.3" fill="#CC2430"/>
<circle cx="237.20" cy="61.61" r="1.3" fill="#CC2430"/>
<circle cx="234.90" cy="61.32" r="1.3" fill="#CC2430"/>
<circle cx="241.80" cy="61.19" r="1.3" fill="#CC2430"/>
<circle cx="244.10" cy="60.78" r="1.3" fill="#CC2430"/>
<circle cx="244.10" cy="60.56" r="1.3" fill="#CC2430"/>
<circle cx="239.50" cy="59.78" r="1.3" fill="#CC2430"/>
<circle cx="237.20" cy="59.62" r="1.3" fill="#CC2430"/>
<circle cx="234.90" cy="59.49" r="1.3" fill="#CC2430"/>
<circle cx="239.50" cy="57.25" r="1.3" fill="#CC2430"/>
<circle cx="237.20" cy="57.04" r="1.3" fill="#CC2430"/>
<circle cx="241.80" cy="56.96" r="1.3" fill="#CC2430"/>
<circle cx="234.90" cy="56.07" r="1.3" fill="#CC2430"/>
<circle cx="239.50" cy="52.82" r="1.3" fill="#CC2430"/>
<circle cx="237.20" cy="52.13" r="1.3" fill="#CC2430"/>
<circle cx="241.80" cy="52.05" r="1.3" fill="#CC2430"/>
<circle cx="234.90" cy="51.89" r="1.3" fill="#CC2430"/>
<circle cx="239.50" cy="45.57" r="1.3" fill="#CC2430"/>
<line x1="233.00" y1="64.73" x2="246.00" y2="64.73" stroke="#4a4a4a" stroke-width="1.0" stroke-linecap="butt"/>
<line x1="236.50" y1="62.73" x2="242.50" y2="62.73" stroke="#4a4a4a" stroke-width="0.8" stroke-linecap="butt"/>
<line x1="236.50" y1="66.73" x2="242.50" y2="66.73" stroke="#4a4a4a" stroke-width="0.8" stroke-linecap="butt"/>
<line x1="239.50" y1="62.73" x2="239.50" y2="66.73" stroke="#4a4a4a" stroke-width="0.8" stroke-linecap="butt"/>
<circle cx="262.50" cy="109.97" r="1.3" fill="#E57A82"/>
<circle cx="262.50" cy="93.67" r="1.3" fill="#E57A82"/>
<circle cx="260.20" cy="92.21" r="1.3" fill="#E57A82"/>
<circle cx="264.80" cy="92.10" r="1.3" fill="#E57A82"/>
<circle cx="262.50" cy="91.30" r="1.3" fill="#E57A82"/>
<circle cx="262.50" cy="87.68" r="1.3" fill="#E57A82"/>
<circle cx="260.20" cy="87.44" r="1.3" fill="#E57A82"/>
<circle cx="264.80" cy="86.29" r="1.3" fill="#E57A82"/>
<circle cx="262.50" cy="85.84" r="1.3" fill="#E57A82"/>
<circle cx="257.90" cy="85.73" r="1.3" fill="#E57A82"/>
<circle cx="260.20" cy="85.53" r="1.3" fill="#E57A82"/>
<circle cx="267.10" cy="84.86" r="1.3" fill="#E57A82"/>
<circle cx="264.80" cy="84.33" r="1.3" fill="#E57A82"/>
<circle cx="262.50" cy="84.18" r="1.3" fill="#E57A82"/>
<circle cx="257.90" cy="83.89" r="1.3" fill="#E57A82"/>
<circle cx="260.20" cy="83.44" r="1.3" fill="#E57A82"/>
<circle cx="262.50" cy="82.03" r="1.3" fill="#E57A82"/>
<circle cx="260.20" cy="80.95" r="1.3" fill="#E57A82"/>
<circle cx="264.80" cy="80.91" r="1.3" fill="#E57A82"/>
<circle cx="262.50" cy="79.92" r="1.3" fill="#E57A82"/>
<circle cx="257.90" cy="79.52" r="1.3" fill="#E57A82"/>
<circle cx="260.20" cy="78.66" r="1.3" fill="#E57A82"/>
<circle cx="262.50" cy="78.00" r="1.3" fill="#E57A82"/>
<circle cx="264.80" cy="77.02" r="1.3" fill="#E57A82"/>
<circle cx="257.90" cy="76.92" r="1.3" fill="#E57A82"/>
<circle cx="260.20" cy="76.37" r="1.3" fill="#E57A82"/>
<circle cx="262.50" cy="74.92" r="1.3" fill="#E57A82"/>
<circle cx="264.80" cy="74.81" r="1.3" fill="#E57A82"/>
<circle cx="260.20" cy="73.80" r="1.3" fill="#E57A82"/>
<circle cx="257.90" cy="73.20" r="1.3" fill="#E57A82"/>
<circle cx="267.10" cy="73.14" r="1.3" fill="#E57A82"/>
<circle cx="262.50" cy="72.92" r="1.3" fill="#E57A82"/>
<circle cx="264.80" cy="72.73" r="1.3" fill="#E57A82"/>
<circle cx="257.90" cy="72.55" r="1.3" fill="#E57A82"/>
<circle cx="262.50" cy="72.41" r="1.3" fill="#E57A82"/>
<circle cx="260.20" cy="71.63" r="1.3" fill="#E57A82"/>
<circle cx="267.10" cy="71.20" r="1.3" fill="#E57A82"/>
<circle cx="262.50" cy="69.88" r="1.3" fill="#E57A82"/>
<circle cx="260.20" cy="69.78" r="1.3" fill="#E57A82"/>
<circle cx="264.80" cy="69.09" r="1.3" fill="#E57A82"/>
<circle cx="257.90" cy="68.47" r="1.3" fill="#E57A82"/>
<circle cx="262.50" cy="67.46" r="1.3" fill="#E57A82"/>
<circle cx="262.50" cy="64.71" r="1.3" fill="#E57A82"/>
<circle cx="262.50" cy="60.92" r="1.3" fill="#E57A82"/>
<circle cx="260.20" cy="60.83" r="1.3" fill="#E57A82"/>
<circle cx="264.80" cy="59.98" r="1.3" fill="#E57A82"/>
<circle cx="262.50" cy="56.85" r="1.3" fill="#E57A82"/>
<circle cx="262.50" cy="54.81" r="1.3" fill="#E57A82"/>
<circle cx="262.50" cy="52.30" r="1.3" fill="#E57A82"/>
<circle cx="262.50" cy="50.36" r="1.3" fill="#E57A82"/>
<circle cx="262.50" cy="45.75" r="1.3" fill="#E57A82"/>
<circle cx="260.20" cy="45.57" r="1.3" fill="#E57A82"/>
<line x1="256.00" y1="72.40" x2="269.00" y2="72.40" stroke="#4a4a4a" stroke-width="1.0" stroke-linecap="butt"/>
<line x1="259.50" y1="70.40" x2="265.50" y2="70.40" stroke="#4a4a4a" stroke-width="0.8" stroke-linecap="butt"/>
<line x1="259.50" y1="74.40" x2="265.50" y2="74.40" stroke="#4a4a4a" stroke-width="0.8" stroke-linecap="butt"/>
<line x1="262.50" y1="70.40" x2="262.50" y2="74.40" stroke="#4a4a4a" stroke-width="0.8" stroke-linecap="butt"/>
<circle cx="285.50" cy="119.93" r="1.3" fill="#777777"/>
<circle cx="285.50" cy="102.81" r="1.3" fill="#777777"/>
<circle cx="285.50" cy="94.22" r="1.3" fill="#777777"/>
<circle cx="283.20" cy="93.96" r="1.3" fill="#777777"/>
<circle cx="287.80" cy="92.84" r="1.3" fill="#777777"/>
<circle cx="280.90" cy="92.65" r="1.3" fill="#777777"/>
<circle cx="285.50" cy="89.27" r="1.3" fill="#777777"/>
<circle cx="285.50" cy="85.58" r="1.3" fill="#777777"/>
<circle cx="283.20" cy="85.57" r="1.3" fill="#777777"/>
<circle cx="287.80" cy="85.19" r="1.3" fill="#777777"/>
<circle cx="280.90" cy="85.10" r="1.3" fill="#777777"/>
<circle cx="290.10" cy="84.19" r="1.3" fill="#777777"/>
<circle cx="285.50" cy="83.43" r="1.3" fill="#777777"/>
<circle cx="285.50" cy="81.18" r="1.3" fill="#777777"/>
<circle cx="283.20" cy="80.96" r="1.3" fill="#777777"/>
<circle cx="287.80" cy="80.23" r="1.3" fill="#777777"/>
<circle cx="280.90" cy="79.83" r="1.3" fill="#777777"/>
<circle cx="290.10" cy="79.78" r="1.3" fill="#777777"/>
<circle cx="283.20" cy="79.54" r="1.3" fill="#777777"/>
<circle cx="285.50" cy="78.86" r="1.3" fill="#777777"/>
<circle cx="283.20" cy="78.48" r="1.3" fill="#777777"/>
<circle cx="287.80" cy="78.37" r="1.3" fill="#777777"/>
<circle cx="280.90" cy="77.92" r="1.3" fill="#777777"/>
<circle cx="290.10" cy="77.69" r="1.3" fill="#777777"/>
<circle cx="285.50" cy="76.52" r="1.3" fill="#777777"/>
<circle cx="283.20" cy="74.83" r="1.3" fill="#777777"/>
<circle cx="287.80" cy="74.75" r="1.3" fill="#777777"/>
<circle cx="285.50" cy="73.55" r="1.3" fill="#777777"/>
<circle cx="283.20" cy="72.93" r="1.3" fill="#777777"/>
<circle cx="287.80" cy="72.12" r="1.3" fill="#777777"/>
<circle cx="285.50" cy="71.08" r="1.3" fill="#777777"/>
<circle cx="285.50" cy="68.67" r="1.3" fill="#777777"/>
<circle cx="283.20" cy="67.80" r="1.3" fill="#777777"/>
<circle cx="285.50" cy="63.54" r="1.3" fill="#777777"/>
<circle cx="283.20" cy="62.07" r="1.3" fill="#777777"/>
<circle cx="287.80" cy="61.95" r="1.3" fill="#777777"/>
<circle cx="285.50" cy="61.59" r="1.3" fill="#777777"/>
<circle cx="280.90" cy="61.11" r="1.3" fill="#777777"/>
<circle cx="285.50" cy="59.02" r="1.3" fill="#777777"/>
<circle cx="285.50" cy="56.30" r="1.3" fill="#777777"/>
<circle cx="285.50" cy="53.01" r="1.3" fill="#777777"/>
<circle cx="283.20" cy="52.33" r="1.3" fill="#777777"/>
<circle cx="287.80" cy="51.54" r="1.3" fill="#777777"/>
<circle cx="285.50" cy="48.03" r="1.3" fill="#777777"/>
<circle cx="285.50" cy="45.57" r="1.3" fill="#777777"/>
<line x1="279.00" y1="74.70" x2="292.00" y2="74.70" stroke="#4a4a4a" stroke-width="1.0" stroke-linecap="butt"/>
<line x1="282.50" y1="72.70" x2="288.50" y2="72.70" stroke="#4a4a4a" stroke-width="0.8" stroke-linecap="butt"/>
<line x1="282.50" y1="76.70" x2="288.50" y2="76.70" stroke="#4a4a4a" stroke-width="0.8" stroke-linecap="butt"/>
<line x1="285.50" y1="72.70" x2="285.50" y2="76.70" stroke="#4a4a4a" stroke-width="0.8" stroke-linecap="butt"/>
<text x="0" y="0" font-size="9.2" text-anchor="middle" fill="#1c1c1c" font-weight="bold" stroke="#1c1c1c" stroke-width="0.15" transform="translate(509.00 7.30) scale(1 1.03)">Hatchability</text>
<rect x="362.00" y="13.70" width="288.60" height="23.70" fill="#DFDFDF"/>
<line x1="361.60" y1="31.50" x2="361.60" y2="146.00" stroke="#3c3c3c" stroke-width="1.1" stroke-linecap="butt"/>
<line x1="357.60" y1="145.50" x2="361.60" y2="145.50" stroke="#3c3c3c" stroke-width="1.0" stroke-linecap="butt"/>
<text x="0" y="0" font-size="9.2" text-anchor="end" fill="#1c1c1c" stroke="#1c1c1c" stroke-width="0.15" transform="translate(355.40 149.50) scale(1 1.08)">0</text>
<line x1="357.60" y1="126.58" x2="361.60" y2="126.58" stroke="#3c3c3c" stroke-width="1.0" stroke-linecap="butt"/>
<text x="0" y="0" font-size="9.2" text-anchor="end" fill="#1c1c1c" stroke="#1c1c1c" stroke-width="0.15" transform="translate(355.40 130.58) scale(1 1.08)">20</text>
<line x1="357.60" y1="107.67" x2="361.60" y2="107.67" stroke="#3c3c3c" stroke-width="1.0" stroke-linecap="butt"/>
<text x="0" y="0" font-size="9.2" text-anchor="end" fill="#1c1c1c" stroke="#1c1c1c" stroke-width="0.15" transform="translate(355.40 111.67) scale(1 1.08)">40</text>
<line x1="357.60" y1="88.75" x2="361.60" y2="88.75" stroke="#3c3c3c" stroke-width="1.0" stroke-linecap="butt"/>
<text x="0" y="0" font-size="9.2" text-anchor="end" fill="#1c1c1c" stroke="#1c1c1c" stroke-width="0.15" transform="translate(355.40 92.75) scale(1 1.08)">60</text>
<line x1="357.60" y1="69.84" x2="361.60" y2="69.84" stroke="#3c3c3c" stroke-width="1.0" stroke-linecap="butt"/>
<text x="0" y="0" font-size="9.2" text-anchor="end" fill="#1c1c1c" stroke="#1c1c1c" stroke-width="0.15" transform="translate(355.40 73.84) scale(1 1.08)">80</text>
<line x1="357.60" y1="50.92" x2="361.60" y2="50.92" stroke="#3c3c3c" stroke-width="1.0" stroke-linecap="butt"/>
<text x="0" y="0" font-size="9.2" text-anchor="end" fill="#1c1c1c" stroke="#1c1c1c" stroke-width="0.15" transform="translate(355.40 54.92) scale(1 1.08)">100</text>
<line x1="357.60" y1="32.00" x2="361.60" y2="32.00" stroke="#3c3c3c" stroke-width="1.0" stroke-linecap="butt"/>
<text x="0" y="0" font-size="9.2" text-anchor="end" fill="#1c1c1c" stroke="#1c1c1c" stroke-width="0.15" transform="translate(355.40 36.00) scale(1 1.08)">120</text>
<line x1="361.10" y1="146.00" x2="651.00" y2="146.00" stroke="#3c3c3c" stroke-width="1.1" stroke-linecap="butt"/>
<line x1="374.90" y1="146.00" x2="374.90" y2="149.00" stroke="#3c3c3c" stroke-width="1.0" stroke-linecap="butt"/>
<line x1="400.97" y1="146.00" x2="400.97" y2="149.00" stroke="#3c3c3c" stroke-width="1.0" stroke-linecap="butt"/>
<line x1="427.04" y1="146.00" x2="427.04" y2="149.00" stroke="#3c3c3c" stroke-width="1.0" stroke-linecap="butt"/>
<line x1="453.11" y1="146.00" x2="453.11" y2="149.00" stroke="#3c3c3c" stroke-width="1.0" stroke-linecap="butt"/>
<line x1="479.18" y1="146.00" x2="479.18" y2="149.00" stroke="#3c3c3c" stroke-width="1.0" stroke-linecap="butt"/>
<line x1="505.25" y1="146.00" x2="505.25" y2="149.00" stroke="#3c3c3c" stroke-width="1.0" stroke-linecap="butt"/>
<line x1="531.32" y1="146.00" x2="531.32" y2="149.00" stroke="#3c3c3c" stroke-width="1.0" stroke-linecap="butt"/>
<line x1="557.39" y1="146.00" x2="557.39" y2="149.00" stroke="#3c3c3c" stroke-width="1.0" stroke-linecap="butt"/>
<line x1="583.46" y1="146.00" x2="583.46" y2="149.00" stroke="#3c3c3c" stroke-width="1.0" stroke-linecap="butt"/>
<line x1="609.53" y1="146.00" x2="609.53" y2="149.00" stroke="#3c3c3c" stroke-width="1.0" stroke-linecap="butt"/>
<line x1="635.60" y1="146.00" x2="635.60" y2="149.00" stroke="#3c3c3c" stroke-width="1.0" stroke-linecap="butt"/>
<text x="0" y="0" font-size="9.2" text-anchor="end" fill="#1c1c1c" stroke="#1c1c1c" stroke-width="0.15" transform="translate(379.40 156.00) rotate(-45) scale(1 1.03)">iEGFP</text>
<text x="0" y="0" font-size="9.2" text-anchor="end" fill="#1c1c1c" stroke="#1c1c1c" stroke-width="0.15" transform="translate(405.47 156.00) rotate(-45) scale(1 1.03)">iDBF4</text>
<text x="0" y="0" font-size="9.2" text-anchor="end" fill="#1c1c1c" stroke="#1c1c1c" stroke-width="0.15" transform="translate(431.54 156.00) rotate(-45) scale(1 1.03)">iCcp</text>
<text x="0" y="0" font-size="9.2" text-anchor="end" fill="#1c1c1c" stroke="#1c1c1c" stroke-width="0.15" transform="translate(457.61 156.00) rotate(-45) scale(1 1.03)">iM12</text>
<text x="0" y="0" font-size="9.2" text-anchor="end" fill="#1c1c1c" stroke="#1c1c1c" stroke-width="0.15" transform="translate(483.68 156.00) rotate(-45) scale(1 1.03)">iGgase</text>
<text x="0" y="0" font-size="9.2" text-anchor="end" fill="#1c1c1c" stroke="#1c1c1c" stroke-width="0.15" transform="translate(509.75 156.00) rotate(-45) scale(1 1.03)">iSbc</text>
<text x="0" y="0" font-size="9.2" text-anchor="end" fill="#1c1c1c" stroke="#1c1c1c" stroke-width="0.15" transform="translate(535.82 156.00) rotate(-45) scale(1 1.03)">iSph2</text>
<text x="0" y="0" font-size="9.2" text-anchor="end" fill="#1c1c1c" stroke="#1c1c1c" stroke-width="0.15" transform="translate(561.89 156.00) rotate(-45) scale(1 1.03)">iTPX1</text>
<text x="0" y="0" font-size="9.2" text-anchor="end" fill="#1c1c1c" stroke="#1c1c1c" stroke-width="0.15" transform="translate(587.96 156.00) rotate(-45) scale(1 1.03)">iGhitp</text>
<text x="0" y="0" font-size="9.2" text-anchor="end" fill="#1c1c1c" stroke="#1c1c1c" stroke-width="0.15" transform="translate(614.03 156.00) rotate(-45) scale(1 1.03)">iLAP1</text>
<text x="0" y="0" font-size="9.2" text-anchor="end" fill="#1c1c1c" stroke="#1c1c1c" stroke-width="0.15" transform="translate(640.10 156.00) rotate(-45) scale(1 1.03)">iTPX5</text>
<text x="0" y="0" font-size="9.3" text-anchor="middle" fill="#1c1c1c" stroke="#1c1c1c" stroke-width="0.15" transform="translate(334.30 91.00) rotate(-90) scale(1 1.03)">% Hatching rate</text>
<text x="0" y="0" font-size="9.0" text-anchor="middle" fill="#1c1c1c" stroke="#1c1c1c" stroke-width="0.15" transform="translate(374.90 31.60) scale(1 1.03)">63/63</text>
<text x="0" y="0" font-size="9.0" text-anchor="middle" fill="#1c1c1c" stroke="#1c1c1c" stroke-width="0.15" transform="translate(400.97 31.60) scale(1 1.03)">47/47</text>
<text x="0" y="0" font-size="9.0" text-anchor="middle" fill="#1c1c1c" stroke="#1c1c1c" stroke-width="0.15" transform="translate(427.04 31.60) scale(1 1.03)">55/55</text>
<polygon points="422.94,18.65 423.50,19.88 424.84,20.03 423.84,20.94 424.12,22.27 422.94,21.60 421.76,22.27 422.04,20.94 421.04,20.03 422.38,19.88" fill="#222" stroke="#222" stroke-width="0.35" stroke-linejoin="round"/>
<polygon points="427.54,18.65 428.10,19.88 429.44,20.03 428.44,20.94 428.72,22.27 427.54,21.60 426.36,22.27 426.64,20.94 425.64,20.03 426.98,19.88" fill="#222" stroke="#222" stroke-width="0.35" stroke-linejoin="round"/>
<polygon points="432.14,18.65 432.70,19.88 434.04,20.03 433.04,20.94 433.32,22.27 432.14,21.60 430.96,22.27 431.24,20.94 430.24,20.03 431.58,19.88" fill="#222" stroke="#222" stroke-width="0.35" stroke-linejoin="round"/>
<text x="0" y="0" font-size="9.0" text-anchor="middle" fill="#1c1c1c" stroke="#1c1c1c" stroke-width="0.15" transform="translate(453.11 31.60) scale(1 1.03)">50/50</text>
<polygon points="449.01,18.65 449.57,19.88 450.91,20.03 449.91,20.94 450.19,22.27 449.01,21.60 447.83,22.27 448.11,20.94 447.11,20.03 448.45,19.88" fill="#222" stroke="#222" stroke-width="0.35" stroke-linejoin="round"/>
<polygon points="453.61,18.65 454.17,19.88 455.51,20.03 454.51,20.94 454.79,22.27 453.61,21.60 452.43,22.27 452.71,20.94 451.71,20.03 453.05,19.88" fill="#222" stroke="#222" stroke-width="0.35" stroke-linejoin="round"/>
<polygon points="458.21,18.65 458.77,19.88 460.11,20.03 459.11,20.94 459.39,22.27 458.21,21.60 457.03,22.27 457.31,20.94 456.31,20.03 457.65,19.88" fill="#222" stroke="#222" stroke-width="0.35" stroke-linejoin="round"/>
<text x="0" y="0" font-size="9.0" text-anchor="middle" fill="#1c1c1c" stroke="#1c1c1c" stroke-width="0.15" transform="translate(479.18 31.60) scale(1 1.03)">41/41</text>
<text x="0" y="0" font-size="9.0" text-anchor="middle" fill="#1c1c1c" stroke="#1c1c1c" stroke-width="0.15" transform="translate(505.25 31.60) scale(1 1.03)">42/42</text>
<text x="0" y="0" font-size="9.0" text-anchor="middle" fill="#1c1c1c" stroke="#1c1c1c" stroke-width="0.15" transform="translate(531.32 31.60) scale(1 1.03)">56/56</text>
<text x="0" y="0" font-size="9.0" text-anchor="middle" fill="#1c1c1c" stroke="#1c1c1c" stroke-width="0.15" transform="translate(557.39 31.60) scale(1 1.03)">56/56</text>
<text x="0" y="0" font-size="9.0" text-anchor="middle" fill="#1c1c1c" stroke="#1c1c1c" stroke-width="0.15" transform="translate(583.46 31.60) scale(1 1.03)">37/37</text>
<text x="0" y="0" font-size="9.0" text-anchor="middle" fill="#1c1c1c" stroke="#1c1c1c" stroke-width="0.15" transform="translate(609.53 31.60) scale(1 1.03)">52/52</text>
<polygon points="605.43,18.65 605.99,19.88 607.33,20.03 606.33,20.94 606.61,22.27 605.43,21.60 604.25,22.27 604.53,20.94 603.53,20.03 604.87,19.88" fill="#222" stroke="#222" stroke-width="0.35" stroke-linejoin="round"/>
<polygon points="610.03,18.65 610.59,19.88 611.93,20.03 610.93,20.94 611.21,22.27 610.03,21.60 608.85,22.27 609.13,20.94 608.13,20.03 609.47,19.88" fill="#222" stroke="#222" stroke-width="0.35" stroke-linejoin="round"/>
<polygon points="614.63,18.65 615.19,19.88 616.53,20.03 615.53,20.94 615.81,22.27 614.63,21.60 613.45,22.27 613.73,20.94 612.73,20.03 614.07,19.88" fill="#222" stroke="#222" stroke-width="0.35" stroke-linejoin="round"/>
<text x="0" y="0" font-size="9.0" text-anchor="middle" fill="#1c1c1c" stroke="#1c1c1c" stroke-width="0.15" transform="translate(635.60 31.60) scale(1 1.03)">45/45</text>
<polygon points="374.40,43.10 374.40,43.77 374.40,44.71 374.40,45.83 374.38,46.99 374.17,48.08 373.90,49.00 373.54,49.74 373.07,50.40 372.56,51.00 372.07,51.55 371.66,52.08 371.40,52.60 371.35,53.09 371.47,53.52 371.68,53.93 371.88,54.34 371.98,54.79 371.90,55.30 371.53,55.87 370.94,56.49 370.24,57.14 369.59,57.82 369.09,58.51 368.90,59.20 369.08,59.91 369.53,60.66 370.15,61.41 370.83,62.17 371.45,62.90 371.90,63.60 372.18,64.25 372.37,64.86 372.51,65.45 372.63,66.04 372.74,66.65 372.90,67.30 373.09,67.92 373.30,68.47 373.51,69.04 373.72,69.72 373.92,70.58 374.10,71.70 374.27,73.28 374.40,75.29 374.40,77.48 374.40,79.60 374.40,81.43 374.40,82.70 375.40,82.70 375.40,81.43 375.40,79.60 375.40,77.48 375.40,75.29 375.53,73.28 375.70,71.70 375.88,70.58 376.08,69.72 376.29,69.04 376.50,68.47 376.71,67.92 376.90,67.30 377.06,66.65 377.17,66.04 377.29,65.45 377.43,64.86 377.62,64.25 377.90,63.60 378.35,62.90 378.97,62.17 379.65,61.41 380.27,60.66 380.72,59.91 380.90,59.20 380.71,58.51 380.21,57.82 379.56,57.14 378.86,56.49 378.27,55.87 377.90,55.30 377.82,54.79 377.92,54.34 378.12,53.93 378.33,53.52 378.45,53.09 378.40,52.60 378.14,52.08 377.73,51.55 377.24,51.00 376.73,50.40 376.26,49.74 375.90,49.00 375.63,48.08 375.42,46.99 375.40,45.83 375.40,44.71 375.40,43.77 375.40,43.10" fill="#7A9E2A"/>
<line x1="372.70" y1="55.30" x2="377.10" y2="55.30" stroke="#ffffff" stroke-width="0.75" stroke-linecap="butt" stroke-dasharray="1.8,0.9"/>
<line x1="369.73" y1="59.10" x2="380.07" y2="59.10" stroke="#ffffff" stroke-width="0.75" stroke-linecap="butt" stroke-dasharray="1.8,0.9"/>
<line x1="370.94" y1="61.40" x2="378.86" y2="61.40" stroke="#ffffff" stroke-width="0.75" stroke-linecap="butt" stroke-dasharray="1.8,0.9"/>
<polygon points="400.47,48.20 400.47,48.69 400.45,49.39 400.09,50.21 399.71,51.07 399.33,51.90 398.97,52.60 398.64,53.17 398.30,53.68 397.97,54.15 397.64,54.61 397.30,55.08 396.97,55.60 396.59,56.16 396.16,56.75 395.72,57.36 395.34,57.97 395.07,58.59 394.97,59.20 395.07,59.80 395.34,60.40 395.72,61.00 396.16,61.61 396.59,62.24 396.97,62.90 397.30,63.58 397.64,64.26 397.97,64.97 398.30,65.70 398.64,66.48 398.97,67.30 399.33,68.25 399.71,69.34 400.09,70.47 400.45,71.54 400.47,72.45 400.47,73.10 401.47,73.10 401.47,72.45 401.49,71.54 401.84,70.47 402.23,69.34 402.61,68.25 402.97,67.30 403.30,66.48 403.64,65.70 403.97,64.97 404.30,64.26 404.64,63.58 404.97,62.90 405.35,62.24 405.78,61.61 406.22,61.00 406.60,60.40 406.87,59.80 406.97,59.20 406.87,58.59 406.60,57.97 406.22,57.36 405.78,56.75 405.35,56.16 404.97,55.60 404.64,55.08 404.30,54.61 403.97,54.15 403.64,53.68 403.30,53.17 402.97,52.60 402.61,51.90 402.23,51.07 401.84,50.21 401.49,49.39 401.47,48.69 401.47,48.20" fill="#A6C72A"/>
<line x1="397.14" y1="56.50" x2="404.80" y2="56.50" stroke="#ffffff" stroke-width="0.75" stroke-linecap="butt" stroke-dasharray="1.8,0.9"/>
<line x1="395.79" y1="59.10" x2="406.15" y2="59.10" stroke="#ffffff" stroke-width="0.75" stroke-linecap="butt" stroke-dasharray="1.8,0.9"/>
<line x1="396.73" y1="61.30" x2="405.21" y2="61.30" stroke="#ffffff" stroke-width="0.75" stroke-linecap="butt" stroke-dasharray="1.8,0.9"/>
<polygon points="426.54,49.70 426.54,50.33 426.24,51.18 425.70,52.19 425.11,53.31 424.55,54.47 424.04,55.60 423.57,56.77 423.10,58.04 422.63,59.34 422.21,60.63 421.84,61.83 421.54,62.90 421.32,63.78 421.17,64.53 421.07,65.19 421.02,65.84 421.01,66.52 421.04,67.30 421.11,68.17 421.24,69.07 421.41,70.01 421.61,71.00 421.83,72.02 422.04,73.10 422.26,74.24 422.50,75.45 422.76,76.71 423.02,77.98 423.28,79.25 423.54,80.50 423.80,81.76 424.06,83.05 424.32,84.34 424.58,85.59 424.82,86.75 425.04,87.80 425.25,88.71 425.47,89.51 425.66,90.23 425.84,90.90 425.97,91.55 426.04,92.20 426.02,92.81 425.91,93.35 425.76,93.86 425.61,94.41 425.52,95.04 425.54,95.80 425.69,96.80 425.95,98.02 426.26,99.32 426.54,100.58 426.54,101.65 426.54,102.40 427.54,102.40 427.54,101.65 427.54,100.58 427.82,99.32 428.13,98.02 428.39,96.80 428.54,95.80 428.56,95.04 428.47,94.41 428.32,93.86 428.17,93.35 428.06,92.81 428.04,92.20 428.11,91.55 428.24,90.90 428.41,90.23 428.61,89.51 428.83,88.71 429.04,87.80 429.26,86.75 429.50,85.59 429.76,84.34 430.02,83.05 430.28,81.76 430.54,80.50 430.80,79.25 431.06,77.98 431.32,76.71 431.58,75.45 431.82,74.24 432.04,73.10 432.25,72.02 432.47,71.00 432.66,70.01 432.84,69.07 432.97,68.17 433.04,67.30 433.07,66.52 433.06,65.84 433.01,65.19 432.91,64.53 432.76,63.78 432.54,62.90 432.24,61.83 431.87,60.63 431.45,59.34 430.98,58.04 430.51,56.77 430.04,55.60 429.53,54.47 428.97,53.31 428.38,52.19 427.84,51.18 427.54,50.33 427.54,49.70" fill="#2158B0"/>
<line x1="422.32" y1="63.00" x2="431.76" y2="63.00" stroke="#ffffff" stroke-width="0.75" stroke-linecap="butt" stroke-dasharray="1.8,0.9"/>
<line x1="421.90" y1="68.00" x2="432.18" y2="68.00" stroke="#ffffff" stroke-width="0.75" stroke-linecap="butt" stroke-dasharray="1.8,0.9"/>
<line x1="423.41" y1="76.00" x2="430.67" y2="76.00" stroke="#ffffff" stroke-width="0.75" stroke-linecap="butt" stroke-dasharray="1.8,0.9"/>
<polygon points="452.61,48.20 452.61,48.68 452.54,49.34 452.14,50.13 451.74,50.97 451.38,51.82 451.11,52.60 450.96,53.32 450.91,54.04 450.89,54.75 450.87,55.47 450.79,56.22 450.61,57.00 450.29,57.82 449.87,58.68 449.39,59.56 448.91,60.44 448.46,61.33 448.11,62.20 447.83,63.06 447.59,63.91 447.39,64.76 447.24,65.60 447.14,66.45 447.11,67.30 447.15,68.15 447.26,69.00 447.42,69.85 447.63,70.70 447.86,71.55 448.11,72.40 448.40,73.26 448.74,74.13 449.11,74.99 449.48,75.85 449.82,76.69 450.11,77.50 450.33,78.26 450.52,78.96 450.67,79.65 450.81,80.35 450.95,81.09 451.11,81.90 451.28,82.77 451.44,83.68 451.61,84.63 451.78,85.62 451.94,86.68 452.11,87.80 452.29,89.10 452.48,90.61 452.61,92.17 452.61,93.65 452.61,94.91 452.61,95.80 453.61,95.80 453.61,94.91 453.61,93.65 453.61,92.17 453.74,90.61 453.93,89.10 454.11,87.80 454.28,86.68 454.44,85.62 454.61,84.63 454.78,83.68 454.94,82.77 455.11,81.90 455.27,81.09 455.41,80.35 455.55,79.65 455.70,78.96 455.89,78.26 456.11,77.50 456.40,76.69 456.74,75.85 457.11,74.99 457.48,74.13 457.82,73.26 458.11,72.40 458.36,71.55 458.59,70.70 458.80,69.85 458.96,69.00 459.07,68.15 459.11,67.30 459.08,66.45 458.98,65.60 458.83,64.76 458.63,63.91 458.39,63.06 458.11,62.20 457.76,61.33 457.31,60.44 456.83,59.56 456.35,58.68 455.93,57.82 455.61,57.00 455.43,56.22 455.35,55.47 455.33,54.75 455.31,54.04 455.26,53.32 455.11,52.60 454.84,51.82 454.48,50.97 454.08,50.13 453.68,49.34 453.61,48.68 453.61,48.20" fill="#6E96D0"/>
<line x1="448.51" y1="63.50" x2="457.71" y2="63.50" stroke="#ffffff" stroke-width="0.75" stroke-linecap="butt" stroke-dasharray="1.8,0.9"/>
<line x1="447.99" y1="68.50" x2="458.23" y2="68.50" stroke="#ffffff" stroke-width="0.75" stroke-linecap="butt" stroke-dasharray="1.8,0.9"/>
<line x1="449.49" y1="74.00" x2="456.73" y2="74.00" stroke="#ffffff" stroke-width="0.75" stroke-linecap="butt" stroke-dasharray="1.8,0.9"/>
<polygon points="478.68,48.20 478.68,48.68 478.40,49.34 477.87,50.13 477.29,50.97 476.71,51.82 476.18,52.60 475.63,53.35 475.03,54.12 474.43,54.89 473.88,55.64 473.45,56.35 473.18,57.00 473.13,57.58 473.27,58.11 473.52,58.59 473.81,59.06 474.05,59.52 474.18,60.00 474.15,60.48 474.01,60.95 473.84,61.41 473.68,61.89 473.61,62.38 473.68,62.90 473.92,63.45 474.27,64.01 474.71,64.60 475.20,65.21 475.70,65.84 476.18,66.50 476.69,67.25 477.25,68.10 477.84,68.97 478.38,69.80 478.68,70.50 478.68,71.00 479.68,71.00 479.68,70.50 479.98,69.80 480.52,68.97 481.11,68.10 481.67,67.25 482.18,66.50 482.66,65.84 483.16,65.21 483.65,64.60 484.09,64.01 484.44,63.45 484.68,62.90 484.75,62.38 484.68,61.89 484.52,61.41 484.35,60.95 484.21,60.48 484.18,60.00 484.31,59.52 484.55,59.06 484.84,58.59 485.09,58.11 485.23,57.58 485.18,57.00 484.91,56.35 484.48,55.64 483.93,54.89 483.33,54.12 482.73,53.35 482.18,52.60 481.65,51.82 481.07,50.97 480.49,50.13 479.96,49.34 479.68,48.68 479.68,48.20" fill="#EE7D22"/>
<line x1="474.14" y1="56.60" x2="484.22" y2="56.60" stroke="#ffffff" stroke-width="0.75" stroke-linecap="butt" stroke-dasharray="1.8,0.9"/>
<line x1="474.84" y1="59.50" x2="483.52" y2="59.50" stroke="#ffffff" stroke-width="0.75" stroke-linecap="butt" stroke-dasharray="1.8,0.9"/>
<line x1="474.61" y1="63.20" x2="483.75" y2="63.20" stroke="#ffffff" stroke-width="0.75" stroke-linecap="butt" stroke-dasharray="1.8,0.9"/>
<polygon points="504.75,47.50 504.75,47.89 504.47,48.43 503.94,49.07 503.36,49.78 502.78,50.50 502.25,51.20 501.72,51.88 501.14,52.56 500.56,53.27 500.03,54.00 499.58,54.78 499.25,55.60 499.06,56.50 498.99,57.48 499.00,58.50 499.06,59.52 499.16,60.50 499.25,61.40 499.34,62.23 499.45,63.03 499.59,63.78 499.77,64.50 499.98,65.17 500.25,65.80 500.59,66.37 501.01,66.87 501.47,67.34 501.94,67.78 502.37,68.23 502.75,68.70 503.07,69.11 503.37,69.43 503.64,69.74 503.88,70.16 504.09,70.78 504.25,71.70 504.35,73.02 504.39,74.70 504.39,76.58 504.39,78.50 504.40,80.33 504.45,81.90 504.56,83.28 504.70,84.61 504.75,85.84 504.75,86.92 504.75,87.82 504.75,88.50 505.75,88.50 505.75,87.82 505.75,86.92 505.75,85.84 505.80,84.61 505.94,83.28 506.05,81.90 506.10,80.33 506.11,78.50 506.11,76.58 506.11,74.70 506.15,73.02 506.25,71.70 506.41,70.78 506.62,70.16 506.86,69.74 507.13,69.43 507.43,69.11 507.75,68.70 508.13,68.23 508.56,67.78 509.03,67.34 509.49,66.87 509.91,66.37 510.25,65.80 510.52,65.17 510.73,64.50 510.91,63.78 511.05,63.03 511.16,62.23 511.25,61.40 511.34,60.50 511.44,59.52 511.50,58.50 511.51,57.48 511.44,56.50 511.25,55.60 510.92,54.78 510.47,54.00 509.94,53.27 509.36,52.56 508.78,51.88 508.25,51.20 507.72,50.50 507.14,49.78 506.56,49.07 506.03,48.43 505.75,47.89 505.75,47.50" fill="#F2B01C"/>
<line x1="499.86" y1="56.60" x2="510.64" y2="56.60" stroke="#ffffff" stroke-width="0.75" stroke-linecap="butt" stroke-dasharray="1.8,0.9"/>
<line x1="499.98" y1="60.70" x2="510.52" y2="60.70" stroke="#ffffff" stroke-width="0.75" stroke-linecap="butt" stroke-dasharray="1.8,0.9"/>
<line x1="500.67" y1="64.80" x2="509.83" y2="64.80" stroke="#ffffff" stroke-width="0.75" stroke-linecap="butt" stroke-dasharray="1.8,0.9"/>
<polygon points="530.82,50.40 530.82,50.79 530.69,51.31 530.26,51.93 529.78,52.63 529.29,53.36 528.82,54.10 528.30,54.89 527.69,55.75 527.07,56.65 526.51,57.55 526.07,58.41 525.82,59.20 525.80,59.90 525.97,60.54 526.26,61.14 526.62,61.73 526.99,62.31 527.32,62.90 527.62,63.49 527.95,64.05 528.29,64.61 528.63,65.19 528.98,65.81 529.32,66.50 529.68,67.33 530.06,68.31 530.44,69.33 530.80,70.29 530.82,71.12 530.82,71.70 531.82,71.70 531.82,71.12 531.84,70.29 532.19,69.33 532.58,68.31 532.96,67.33 533.32,66.50 533.66,65.81 534.01,65.19 534.35,64.61 534.69,64.05 535.02,63.49 535.32,62.90 535.65,62.31 536.02,61.73 536.38,61.14 536.67,60.54 536.84,59.90 536.82,59.20 536.57,58.41 536.13,57.55 535.57,56.65 534.95,55.75 534.34,54.89 533.82,54.10 533.35,53.36 532.86,52.63 532.38,51.93 531.95,51.31 531.82,50.79 531.82,50.40" fill="#A4A8E2"/>
<line x1="527.65" y1="57.00" x2="534.99" y2="57.00" stroke="#ffffff" stroke-width="0.75" stroke-linecap="butt" stroke-dasharray="1.8,0.9"/>
<line x1="526.63" y1="60.00" x2="536.01" y2="60.00" stroke="#ffffff" stroke-width="0.75" stroke-linecap="butt" stroke-dasharray="1.8,0.9"/>
<line x1="527.95" y1="62.60" x2="534.69" y2="62.60" stroke="#ffffff" stroke-width="0.75" stroke-linecap="butt" stroke-dasharray="1.8,0.9"/>
<polygon points="556.89,49.00 556.89,49.65 556.58,50.56 556.01,51.63 555.43,52.76 554.87,53.85 554.39,54.80 553.96,55.61 553.54,56.37 553.14,57.09 552.80,57.79 552.54,58.48 552.39,59.20 552.37,59.93 552.46,60.67 552.64,61.40 552.87,62.13 553.13,62.87 553.39,63.60 553.67,64.29 553.98,64.93 554.33,65.57 554.69,66.27 555.05,67.06 555.39,68.00 555.75,69.22 556.13,70.70 556.51,72.28 556.87,73.79 556.89,75.09 556.89,76.00 557.89,76.00 557.89,75.09 557.91,73.79 558.26,72.28 558.65,70.70 559.03,69.22 559.39,68.00 559.73,67.06 560.09,66.27 560.45,65.57 560.80,64.93 561.11,64.29 561.39,63.60 561.65,62.87 561.91,62.13 562.14,61.40 562.32,60.67 562.41,59.93 562.39,59.20 562.24,58.48 561.98,57.79 561.64,57.09 561.24,56.37 560.82,55.61 560.39,54.80 559.91,53.85 559.35,52.76 558.76,51.63 558.20,50.56 557.89,49.65 557.89,49.00" fill="#C5C1E4"/>
<line x1="553.99" y1="57.00" x2="560.79" y2="57.00" stroke="#ffffff" stroke-width="0.75" stroke-linecap="butt" stroke-dasharray="1.8,0.9"/>
<line x1="553.24" y1="60.50" x2="561.54" y2="60.50" stroke="#ffffff" stroke-width="0.75" stroke-linecap="butt" stroke-dasharray="1.8,0.9"/>
<line x1="554.35" y1="64.00" x2="560.43" y2="64.00" stroke="#ffffff" stroke-width="0.75" stroke-linecap="butt" stroke-dasharray="1.8,0.9"/>
<polygon points="582.96,47.60 582.96,47.86 582.96,48.20 582.96,48.62 582.94,49.09 582.73,49.58 582.46,50.10 582.13,50.63 581.74,51.18 581.30,51.76 580.85,52.39 580.39,53.07 579.96,53.80 579.49,54.63 578.94,55.56 578.40,56.53 577.92,57.51 577.59,58.45 577.46,59.30 577.60,60.06 577.96,60.76 578.46,61.41 579.02,62.04 579.54,62.67 579.96,63.30 580.27,63.93 580.55,64.53 580.80,65.12 581.03,65.73 581.25,66.35 581.46,67.00 581.66,67.71 581.83,68.47 581.99,69.25 582.15,70.02 582.30,70.75 582.46,71.40 582.64,72.00 582.83,72.59 582.96,73.13 582.96,73.60 582.96,74.00 582.96,74.30 583.96,74.30 583.96,74.00 583.96,73.60 583.96,73.13 584.09,72.59 584.28,72.00 584.46,71.40 584.62,70.75 584.77,70.02 584.93,69.25 585.09,68.47 585.26,67.71 585.46,67.00 585.67,66.35 585.89,65.73 586.12,65.12 586.37,64.53 586.65,63.93 586.96,63.30 587.38,62.67 587.90,62.04 588.46,61.41 588.96,60.76 589.32,60.06 589.46,59.30 589.33,58.45 589.00,57.51 588.52,56.53 587.98,55.56 587.43,54.63 586.96,53.80 586.53,53.07 586.07,52.39 585.62,51.76 585.18,51.18 584.79,50.63 584.46,50.10 584.19,49.58 583.98,49.09 583.96,48.62 583.96,48.20 583.96,47.86 583.96,47.60" fill="#CC2430"/>
<line x1="579.49" y1="56.00" x2="587.43" y2="56.00" stroke="#ffffff" stroke-width="0.75" stroke-linecap="butt" stroke-dasharray="1.8,0.9"/>
<line x1="578.30" y1="59.50" x2="588.62" y2="59.50" stroke="#ffffff" stroke-width="0.75" stroke-linecap="butt" stroke-dasharray="1.8,0.9"/>
<line x1="580.56" y1="63.00" x2="586.36" y2="63.00" stroke="#ffffff" stroke-width="0.75" stroke-linecap="butt" stroke-dasharray="1.8,0.9"/>
<polygon points="609.03,45.00 609.03,45.48 609.03,46.14 608.84,46.93 608.55,47.77 608.27,48.62 608.03,49.40 607.83,50.12 607.66,50.81 607.50,51.51 607.34,52.23 607.19,52.99 607.03,53.80 606.86,54.69 606.70,55.65 606.53,56.65 606.36,57.66 606.20,58.65 606.03,59.60 605.87,60.50 605.72,61.38 605.56,62.24 605.40,63.10 605.23,63.95 605.03,64.80 604.78,65.66 604.47,66.51 604.15,67.36 603.86,68.20 603.64,69.05 603.53,69.90 603.54,70.75 603.64,71.60 603.81,72.45 604.03,73.30 604.28,74.15 604.53,75.00 604.81,75.82 605.14,76.61 605.50,77.41 605.86,78.23 606.21,79.12 606.53,80.10 606.81,81.20 607.07,82.40 607.31,83.66 607.55,84.96 607.79,86.25 608.03,87.50 608.30,88.81 608.59,90.21 608.87,91.61 609.03,92.91 609.03,94.01 609.03,94.80 610.03,94.80 610.03,94.01 610.03,92.91 610.19,91.61 610.47,90.21 610.76,88.81 611.03,87.50 611.27,86.25 611.51,84.96 611.75,83.66 611.99,82.40 612.25,81.20 612.53,80.10 612.85,79.12 613.20,78.23 613.56,77.41 613.92,76.61 614.25,75.82 614.53,75.00 614.78,74.15 615.03,73.30 615.25,72.45 615.42,71.60 615.52,70.75 615.53,69.90 615.42,69.05 615.20,68.20 614.90,67.36 614.59,66.51 614.28,65.66 614.03,64.80 613.83,63.95 613.66,63.10 613.50,62.24 613.34,61.38 613.19,60.50 613.03,59.60 612.86,58.65 612.70,57.66 612.53,56.65 612.36,55.65 612.20,54.69 612.03,53.80 611.87,52.99 611.72,52.23 611.56,51.51 611.40,50.81 611.23,50.12 611.03,49.40 610.79,48.62 610.51,47.77 610.22,46.93 610.03,46.14 610.03,45.48 610.03,45.00" fill="#E57A82"/>
<line x1="606.56" y1="61.10" x2="612.50" y2="61.10" stroke="#ffffff" stroke-width="0.75" stroke-linecap="butt" stroke-dasharray="1.8,0.9"/>
<line x1="604.37" y1="69.60" x2="614.69" y2="69.60" stroke="#ffffff" stroke-width="0.75" stroke-linecap="butt" stroke-dasharray="1.8,0.9"/>
<line x1="605.57" y1="75.70" x2="613.49" y2="75.70" stroke="#ffffff" stroke-width="0.75" stroke-linecap="butt" stroke-dasharray="1.8,0.9"/>
<polygon points="635.10,45.70 635.10,46.18 634.93,46.84 634.47,47.63 633.99,48.47 633.52,49.32 633.10,50.10 632.71,50.84 632.30,51.59 631.91,52.34 631.56,53.09 631.28,53.81 631.10,54.50 631.07,55.15 631.17,55.76 631.35,56.35 631.53,56.94 631.63,57.55 631.60,58.20 631.37,58.89 630.97,59.61 630.51,60.36 630.06,61.11 629.73,61.86 629.60,62.60 629.70,63.34 629.95,64.10 630.32,64.85 630.75,65.59 631.19,66.31 631.60,67.00 632.01,67.56 632.47,67.99 632.94,68.39 633.40,68.88 633.79,69.58 634.10,70.60 634.29,72.01 634.40,73.74 634.44,75.68 634.47,77.71 634.51,79.72 634.60,81.60 634.75,83.48 634.93,85.47 635.10,87.44 635.10,89.26 635.10,90.79 635.10,91.90 636.10,91.90 636.10,90.79 636.10,89.26 636.10,87.44 636.27,85.47 636.45,83.48 636.60,81.60 636.69,79.72 636.73,77.71 636.76,75.68 636.80,73.74 636.91,72.01 637.10,70.60 637.41,69.58 637.80,68.88 638.26,68.39 638.73,67.99 639.19,67.56 639.60,67.00 640.01,66.31 640.45,65.59 640.88,64.85 641.25,64.10 641.50,63.34 641.60,62.60 641.47,61.86 641.14,61.11 640.69,60.36 640.23,59.61 639.83,58.89 639.60,58.20 639.57,57.55 639.67,56.94 639.85,56.35 640.03,55.76 640.13,55.15 640.10,54.50 639.92,53.81 639.64,53.09 639.29,52.34 638.90,51.59 638.49,50.84 638.10,50.10 637.68,49.32 637.21,48.47 636.72,47.63 636.27,46.84 636.10,46.18 636.10,45.70" fill="#777777"/>
<line x1="632.05" y1="56.00" x2="639.15" y2="56.00" stroke="#ffffff" stroke-width="0.75" stroke-linecap="butt" stroke-dasharray="1.8,0.9"/>
<line x1="630.87" y1="61.10" x2="640.33" y2="61.10" stroke="#ffffff" stroke-width="0.75" stroke-linecap="butt" stroke-dasharray="1.8,0.9"/>
<line x1="630.72" y1="64.00" x2="640.48" y2="64.00" stroke="#ffffff" stroke-width="0.75" stroke-linecap="butt" stroke-dasharray="1.8,0.9"/>
<text x="0" y="0" font-size="9" text-anchor="start" fill="#1c1c1c" font-weight="bold" stroke="#1c1c1c" stroke-width="0.15" transform="translate(24.10 202.00) scale(1 1.03)">b</text>
<text x="0" y="0" font-size="9.2" text-anchor="middle" fill="#1c1c1c" font-weight="bold" stroke="#1c1c1c" stroke-width="0.15" transform="translate(89.60 198.70) scale(1 1.03)">Egg deposition</text>
<rect x="44.10" y="202.50" width="85.10" height="33.50" fill="#DFDFDF"/>
<path d="M55.00 217.30 V214.50 H114.80 V217.30" fill="none" stroke="#3c3c3c" stroke-width="0.95"/>
<polygon points="79.20,208.35 79.76,209.58 81.10,209.73 80.10,210.64 80.38,211.97 79.20,211.30 78.02,211.97 78.30,210.64 77.30,209.73 78.64,209.58" fill="#222" stroke="#222" stroke-width="0.35" stroke-linejoin="round"/>
<polygon points="83.80,208.35 84.36,209.58 85.70,209.73 84.70,210.64 84.98,211.97 83.80,211.30 82.62,211.97 82.90,210.64 81.90,209.73 83.24,209.58" fill="#222" stroke="#222" stroke-width="0.35" stroke-linejoin="round"/>
<polygon points="88.40,208.35 88.96,209.58 90.30,209.73 89.30,210.64 89.58,211.97 88.40,211.30 87.22,211.97 87.50,210.64 86.50,209.73 87.84,209.58" fill="#222" stroke="#222" stroke-width="0.35" stroke-linejoin="round"/>
<path d="M55.00 225.30 V222.40 H83.80 V225.30" fill="none" stroke="#3c3c3c" stroke-width="0.95"/>
<path d="M86.20 225.30 V222.40 H114.80 V225.30" fill="none" stroke="#3c3c3c" stroke-width="0.95"/>
<polygon points="66.30,217.45 66.86,218.68 68.20,218.83 67.20,219.74 67.48,221.07 66.30,220.40 65.12,221.07 65.40,219.74 64.40,218.83 65.74,218.68" fill="#222" stroke="#222" stroke-width="0.35" stroke-linejoin="round"/>
<polygon points="70.90,217.45 71.46,218.68 72.80,218.83 71.80,219.74 72.08,221.07 70.90,220.40 69.72,221.07 70.00,219.74 69.00,218.83 70.34,218.68" fill="#222" stroke="#222" stroke-width="0.35" stroke-linejoin="round"/>
<polygon points="75.50,217.45 76.06,218.68 77.40,218.83 76.40,219.74 76.68,221.07 75.50,220.40 74.32,221.07 74.60,219.74 73.60,218.83 74.94,218.68" fill="#222" stroke="#222" stroke-width="0.35" stroke-linejoin="round"/>
<text x="0" y="0" font-size="9.4" text-anchor="middle" fill="#1c1c1c" stroke="#1c1c1c" stroke-width="0.15" transform="translate(100.50 220.70) scale(1 1.03)">ns</text>
<text x="0" y="0" font-size="9.2" text-anchor="middle" fill="#1c1c1c" stroke="#1c1c1c" stroke-width="0.15" transform="translate(54.00 234.70) scale(1 1.03)">62</text>
<text x="0" y="0" font-size="9.2" text-anchor="middle" fill="#1c1c1c" stroke="#1c1c1c" stroke-width="0.15" transform="translate(83.80 234.70) scale(1 1.03)">72</text>
<text x="0" y="0" font-size="9.2" text-anchor="middle" fill="#1c1c1c" stroke="#1c1c1c" stroke-width="0.15" transform="translate(111.90 234.70) scale(1 1.03)">75</text>
<line x1="42.80" y1="239.40" x2="42.80" y2="353.50" stroke="#3c3c3c" stroke-width="1.1" stroke-linecap="butt"/>
<line x1="38.80" y1="353.00" x2="42.80" y2="353.00" stroke="#3c3c3c" stroke-width="1.0" stroke-linecap="butt"/>
<text x="0" y="0" font-size="9.2" text-anchor="end" fill="#1c1c1c" stroke="#1c1c1c" stroke-width="0.15" transform="translate(36.60 357.00) scale(1 1.08)">0</text>
<line x1="38.80" y1="330.38" x2="42.80" y2="330.38" stroke="#3c3c3c" stroke-width="1.0" stroke-linecap="butt"/>
<text x="0" y="0" font-size="9.2" text-anchor="end" fill="#1c1c1c" stroke="#1c1c1c" stroke-width="0.15" transform="translate(36.60 334.38) scale(1 1.08)">30</text>
<line x1="38.80" y1="307.76" x2="42.80" y2="307.76" stroke="#3c3c3c" stroke-width="1.0" stroke-linecap="butt"/>
<text x="0" y="0" font-size="9.2" text-anchor="end" fill="#1c1c1c" stroke="#1c1c1c" stroke-width="0.15" transform="translate(36.60 311.76) scale(1 1.08)">60</text>
<line x1="38.80" y1="285.14" x2="42.80" y2="285.14" stroke="#3c3c3c" stroke-width="1.0" stroke-linecap="butt"/>
<text x="0" y="0" font-size="9.2" text-anchor="end" fill="#1c1c1c" stroke="#1c1c1c" stroke-width="0.15" transform="translate(36.60 289.14) scale(1 1.08)">90</text>
<line x1="38.80" y1="262.52" x2="42.80" y2="262.52" stroke="#3c3c3c" stroke-width="1.0" stroke-linecap="butt"/>
<text x="0" y="0" font-size="9.2" text-anchor="end" fill="#1c1c1c" stroke="#1c1c1c" stroke-width="0.15" transform="translate(36.60 266.52) scale(1 1.08)">120</text>
<line x1="38.80" y1="239.90" x2="42.80" y2="239.90" stroke="#3c3c3c" stroke-width="1.0" stroke-linecap="butt"/>
<text x="0" y="0" font-size="9.2" text-anchor="end" fill="#1c1c1c" stroke="#1c1c1c" stroke-width="0.15" transform="translate(36.60 243.90) scale(1 1.08)">150</text>
<line x1="42.30" y1="353.00" x2="125.60" y2="353.00" stroke="#3c3c3c" stroke-width="1.1" stroke-linecap="butt"/>
<line x1="56.00" y1="353.00" x2="56.00" y2="356.00" stroke="#3c3c3c" stroke-width="1.0" stroke-linecap="butt"/>
<line x1="84.00" y1="353.00" x2="84.00" y2="356.00" stroke="#3c3c3c" stroke-width="1.0" stroke-linecap="butt"/>
<line x1="112.00" y1="353.00" x2="112.00" y2="356.00" stroke="#3c3c3c" stroke-width="1.0" stroke-linecap="butt"/>
<text x="0" y="0" font-size="9.3" text-anchor="middle" fill="#1c1c1c" stroke="#1c1c1c" stroke-width="0.15" transform="translate(15.50 296.60) rotate(-90) scale(1 1.03)">Egg numbers</text>
<circle cx="56.00" cy="284.58" r="1.15" fill="#7A9E2A"/>
<circle cx="53.70" cy="284.24" r="1.15" fill="#7A9E2A"/>
<circle cx="58.30" cy="283.55" r="1.15" fill="#7A9E2A"/>
<circle cx="56.00" cy="282.55" r="1.15" fill="#7A9E2A"/>
<circle cx="56.00" cy="280.44" r="1.15" fill="#7A9E2A"/>
<circle cx="53.70" cy="279.52" r="1.15" fill="#7A9E2A"/>
<circle cx="58.30" cy="279.04" r="1.15" fill="#7A9E2A"/>
<circle cx="56.00" cy="278.82" r="1.15" fill="#7A9E2A"/>
<circle cx="56.00" cy="276.41" r="1.15" fill="#7A9E2A"/>
<circle cx="53.70" cy="276.03" r="1.15" fill="#7A9E2A"/>
<circle cx="58.30" cy="275.77" r="1.15" fill="#7A9E2A"/>
<circle cx="51.40" cy="275.41" r="1.15" fill="#7A9E2A"/>
<circle cx="60.60" cy="274.99" r="1.15" fill="#7A9E2A"/>
<circle cx="56.00" cy="274.51" r="1.15" fill="#7A9E2A"/>
<circle cx="53.70" cy="274.17" r="1.15" fill="#7A9E2A"/>
<circle cx="58.30" cy="274.13" r="1.15" fill="#7A9E2A"/>
<circle cx="51.40" cy="273.85" r="1.15" fill="#7A9E2A"/>
<circle cx="56.00" cy="271.88" r="1.15" fill="#7A9E2A"/>
<circle cx="53.70" cy="271.46" r="1.15" fill="#7A9E2A"/>
<circle cx="58.30" cy="270.41" r="1.15" fill="#7A9E2A"/>
<circle cx="56.00" cy="270.09" r="1.15" fill="#7A9E2A"/>
<circle cx="53.70" cy="269.69" r="1.15" fill="#7A9E2A"/>
<circle cx="51.40" cy="269.43" r="1.15" fill="#7A9E2A"/>
<circle cx="60.60" cy="269.41" r="1.15" fill="#7A9E2A"/>
<circle cx="56.00" cy="266.77" r="1.15" fill="#7A9E2A"/>
<circle cx="53.70" cy="266.34" r="1.15" fill="#7A9E2A"/>
<circle cx="56.00" cy="264.95" r="1.15" fill="#7A9E2A"/>
<circle cx="53.70" cy="264.78" r="1.15" fill="#7A9E2A"/>
<circle cx="58.30" cy="264.24" r="1.15" fill="#7A9E2A"/>
<circle cx="51.40" cy="263.86" r="1.15" fill="#7A9E2A"/>
<circle cx="60.60" cy="263.86" r="1.15" fill="#7A9E2A"/>
<circle cx="56.00" cy="263.17" r="1.15" fill="#7A9E2A"/>
<circle cx="53.70" cy="261.67" r="1.15" fill="#7A9E2A"/>
<circle cx="56.00" cy="261.59" r="1.15" fill="#7A9E2A"/>
<circle cx="58.30" cy="261.26" r="1.15" fill="#7A9E2A"/>
<circle cx="51.40" cy="260.99" r="1.15" fill="#7A9E2A"/>
<circle cx="60.60" cy="260.56" r="1.15" fill="#7A9E2A"/>
<circle cx="56.00" cy="260.04" r="1.15" fill="#7A9E2A"/>
<circle cx="53.70" cy="259.76" r="1.15" fill="#7A9E2A"/>
<circle cx="58.30" cy="259.39" r="1.15" fill="#7A9E2A"/>
<circle cx="51.40" cy="258.80" r="1.15" fill="#7A9E2A"/>
<circle cx="60.60" cy="258.77" r="1.15" fill="#7A9E2A"/>
<circle cx="49.10" cy="258.75" r="1.15" fill="#7A9E2A"/>
<circle cx="62.90" cy="258.57" r="1.15" fill="#7A9E2A"/>
<circle cx="62.90" cy="258.51" r="1.15" fill="#7A9E2A"/>
<circle cx="56.00" cy="257.46" r="1.15" fill="#7A9E2A"/>
<circle cx="53.70" cy="257.20" r="1.15" fill="#7A9E2A"/>
<circle cx="58.30" cy="256.94" r="1.15" fill="#7A9E2A"/>
<circle cx="56.00" cy="255.45" r="1.15" fill="#7A9E2A"/>
<circle cx="53.70" cy="254.88" r="1.15" fill="#7A9E2A"/>
<circle cx="58.30" cy="254.14" r="1.15" fill="#7A9E2A"/>
<circle cx="51.40" cy="253.95" r="1.15" fill="#7A9E2A"/>
<circle cx="56.00" cy="251.10" r="1.15" fill="#7A9E2A"/>
<circle cx="53.70" cy="250.68" r="1.15" fill="#7A9E2A"/>
<circle cx="58.30" cy="249.98" r="1.15" fill="#7A9E2A"/>
<circle cx="56.00" cy="248.87" r="1.15" fill="#7A9E2A"/>
<circle cx="53.70" cy="248.05" r="1.15" fill="#7A9E2A"/>
<circle cx="58.30" cy="247.51" r="1.15" fill="#7A9E2A"/>
<circle cx="56.00" cy="245.83" r="1.15" fill="#7A9E2A"/>
<circle cx="53.70" cy="245.49" r="1.15" fill="#7A9E2A"/>
<circle cx="56.00" cy="244.24" r="1.15" fill="#7A9E2A"/>
<circle cx="56.00" cy="241.64" r="1.15" fill="#7A9E2A"/>
<line x1="48.50" y1="261.99" x2="63.50" y2="261.99" stroke="#4a4a4a" stroke-width="1.0" stroke-linecap="butt"/>
<line x1="53.00" y1="259.79" x2="59.00" y2="259.79" stroke="#4a4a4a" stroke-width="0.8" stroke-linecap="butt"/>
<line x1="53.00" y1="264.19" x2="59.00" y2="264.19" stroke="#4a4a4a" stroke-width="0.8" stroke-linecap="butt"/>
<line x1="56.00" y1="259.79" x2="56.00" y2="264.19" stroke="#4a4a4a" stroke-width="0.8" stroke-linecap="butt"/>
<circle cx="84.00" cy="337.71" r="1.15" fill="#2158B0"/>
<circle cx="84.00" cy="331.38" r="1.15" fill="#2158B0"/>
<circle cx="81.70" cy="331.07" r="1.15" fill="#2158B0"/>
<circle cx="84.00" cy="328.00" r="1.15" fill="#2158B0"/>
<circle cx="81.70" cy="326.56" r="1.15" fill="#2158B0"/>
<circle cx="86.30" cy="326.51" r="1.15" fill="#2158B0"/>
<circle cx="84.00" cy="325.89" r="1.15" fill="#2158B0"/>
<circle cx="79.40" cy="325.05" r="1.15" fill="#2158B0"/>
<circle cx="84.00" cy="323.68" r="1.15" fill="#2158B0"/>
<circle cx="84.00" cy="316.37" r="1.15" fill="#2158B0"/>
<circle cx="81.70" cy="315.61" r="1.15" fill="#2158B0"/>
<circle cx="86.30" cy="315.14" r="1.15" fill="#2158B0"/>
<circle cx="84.00" cy="306.95" r="1.15" fill="#2158B0"/>
<circle cx="81.70" cy="306.36" r="1.15" fill="#2158B0"/>
<circle cx="86.30" cy="306.16" r="1.15" fill="#2158B0"/>
<circle cx="84.00" cy="304.23" r="1.15" fill="#2158B0"/>
<circle cx="81.70" cy="303.65" r="1.15" fill="#2158B0"/>
<circle cx="84.00" cy="302.41" r="1.15" fill="#2158B0"/>
<circle cx="84.00" cy="300.41" r="1.15" fill="#2158B0"/>
<circle cx="81.70" cy="300.03" r="1.15" fill="#2158B0"/>
<circle cx="84.00" cy="298.29" r="1.15" fill="#2158B0"/>
<circle cx="81.70" cy="297.62" r="1.15" fill="#2158B0"/>
<circle cx="84.00" cy="294.90" r="1.15" fill="#2158B0"/>
<circle cx="84.00" cy="291.90" r="1.15" fill="#2158B0"/>
<circle cx="81.70" cy="291.77" r="1.15" fill="#2158B0"/>
<circle cx="86.30" cy="290.39" r="1.15" fill="#2158B0"/>
<circle cx="84.00" cy="288.82" r="1.15" fill="#2158B0"/>
<circle cx="81.70" cy="288.70" r="1.15" fill="#2158B0"/>
<circle cx="84.00" cy="286.08" r="1.15" fill="#2158B0"/>
<circle cx="81.70" cy="285.55" r="1.15" fill="#2158B0"/>
<circle cx="86.30" cy="284.68" r="1.15" fill="#2158B0"/>
<circle cx="84.00" cy="284.12" r="1.15" fill="#2158B0"/>
<circle cx="79.40" cy="284.05" r="1.15" fill="#2158B0"/>
<circle cx="81.70" cy="283.92" r="1.15" fill="#2158B0"/>
<circle cx="88.60" cy="283.88" r="1.15" fill="#2158B0"/>
<circle cx="84.00" cy="282.05" r="1.15" fill="#2158B0"/>
<circle cx="84.00" cy="279.17" r="1.15" fill="#2158B0"/>
<circle cx="81.70" cy="278.76" r="1.15" fill="#2158B0"/>
<circle cx="86.30" cy="277.98" r="1.15" fill="#2158B0"/>
<circle cx="79.40" cy="277.81" r="1.15" fill="#2158B0"/>
<circle cx="88.60" cy="277.74" r="1.15" fill="#2158B0"/>
<circle cx="84.00" cy="276.33" r="1.15" fill="#2158B0"/>
<circle cx="81.70" cy="275.36" r="1.15" fill="#2158B0"/>
<circle cx="84.00" cy="274.73" r="1.15" fill="#2158B0"/>
<circle cx="86.30" cy="274.12" r="1.15" fill="#2158B0"/>
<circle cx="84.00" cy="273.02" r="1.15" fill="#2158B0"/>
<circle cx="81.70" cy="272.45" r="1.15" fill="#2158B0"/>
<circle cx="86.30" cy="272.26" r="1.15" fill="#2158B0"/>
<circle cx="79.40" cy="271.80" r="1.15" fill="#2158B0"/>
<circle cx="88.60" cy="271.72" r="1.15" fill="#2158B0"/>
<circle cx="84.00" cy="271.40" r="1.15" fill="#2158B0"/>
<circle cx="84.00" cy="269.13" r="1.15" fill="#2158B0"/>
<circle cx="81.70" cy="268.98" r="1.15" fill="#2158B0"/>
<circle cx="86.30" cy="268.08" r="1.15" fill="#2158B0"/>
<circle cx="79.40" cy="267.63" r="1.15" fill="#2158B0"/>
<circle cx="84.00" cy="267.27" r="1.15" fill="#2158B0"/>
<circle cx="84.00" cy="265.70" r="1.15" fill="#2158B0"/>
<circle cx="81.70" cy="265.29" r="1.15" fill="#2158B0"/>
<circle cx="86.30" cy="264.38" r="1.15" fill="#2158B0"/>
<circle cx="84.00" cy="264.14" r="1.15" fill="#2158B0"/>
<circle cx="81.70" cy="262.70" r="1.15" fill="#2158B0"/>
<circle cx="84.00" cy="261.83" r="1.15" fill="#2158B0"/>
<circle cx="86.30" cy="261.46" r="1.15" fill="#2158B0"/>
<circle cx="79.40" cy="261.34" r="1.15" fill="#2158B0"/>
<circle cx="88.60" cy="261.23" r="1.15" fill="#2158B0"/>
<circle cx="81.70" cy="260.88" r="1.15" fill="#2158B0"/>
<circle cx="84.00" cy="258.82" r="1.15" fill="#2158B0"/>
<circle cx="81.70" cy="257.89" r="1.15" fill="#2158B0"/>
<circle cx="86.30" cy="257.71" r="1.15" fill="#2158B0"/>
<circle cx="79.40" cy="257.51" r="1.15" fill="#2158B0"/>
<circle cx="84.00" cy="254.93" r="1.15" fill="#2158B0"/>
<circle cx="81.70" cy="253.82" r="1.15" fill="#2158B0"/>
<line x1="76.50" y1="288.16" x2="91.50" y2="288.16" stroke="#4a4a4a" stroke-width="1.0" stroke-linecap="butt"/>
<line x1="81.00" y1="285.96" x2="87.00" y2="285.96" stroke="#4a4a4a" stroke-width="0.8" stroke-linecap="butt"/>
<line x1="81.00" y1="290.36" x2="87.00" y2="290.36" stroke="#4a4a4a" stroke-width="0.8" stroke-linecap="butt"/>
<line x1="84.00" y1="285.96" x2="84.00" y2="290.36" stroke="#4a4a4a" stroke-width="0.8" stroke-linecap="butt"/>
<circle cx="112.00" cy="303.57" r="1.15" fill="#A4A8E2"/>
<circle cx="112.00" cy="302.01" r="1.15" fill="#A4A8E2"/>
<circle cx="109.70" cy="301.38" r="1.15" fill="#A4A8E2"/>
<circle cx="114.30" cy="300.79" r="1.15" fill="#A4A8E2"/>
<circle cx="112.00" cy="300.25" r="1.15" fill="#A4A8E2"/>
<circle cx="107.40" cy="299.85" r="1.15" fill="#A4A8E2"/>
<circle cx="109.70" cy="299.72" r="1.15" fill="#A4A8E2"/>
<circle cx="116.60" cy="299.35" r="1.15" fill="#A4A8E2"/>
<circle cx="112.00" cy="298.27" r="1.15" fill="#A4A8E2"/>
<circle cx="109.70" cy="298.11" r="1.15" fill="#A4A8E2"/>
<circle cx="112.00" cy="295.39" r="1.15" fill="#A4A8E2"/>
<circle cx="109.70" cy="294.11" r="1.15" fill="#A4A8E2"/>
<circle cx="112.00" cy="292.59" r="1.15" fill="#A4A8E2"/>
<circle cx="109.70" cy="292.45" r="1.15" fill="#A4A8E2"/>
<circle cx="114.30" cy="292.29" r="1.15" fill="#A4A8E2"/>
<circle cx="107.40" cy="292.13" r="1.15" fill="#A4A8E2"/>
<circle cx="116.60" cy="292.09" r="1.15" fill="#A4A8E2"/>
<circle cx="105.10" cy="291.63" r="1.15" fill="#A4A8E2"/>
<circle cx="112.00" cy="291.04" r="1.15" fill="#A4A8E2"/>
<circle cx="109.70" cy="290.66" r="1.15" fill="#A4A8E2"/>
<circle cx="114.30" cy="290.48" r="1.15" fill="#A4A8E2"/>
<circle cx="107.40" cy="290.30" r="1.15" fill="#A4A8E2"/>
<circle cx="116.60" cy="290.19" r="1.15" fill="#A4A8E2"/>
<circle cx="105.10" cy="289.59" r="1.15" fill="#A4A8E2"/>
<circle cx="112.00" cy="289.16" r="1.15" fill="#A4A8E2"/>
<circle cx="109.70" cy="289.01" r="1.15" fill="#A4A8E2"/>
<circle cx="112.00" cy="287.12" r="1.15" fill="#A4A8E2"/>
<circle cx="109.70" cy="286.48" r="1.15" fill="#A4A8E2"/>
<circle cx="114.30" cy="285.81" r="1.15" fill="#A4A8E2"/>
<circle cx="107.40" cy="285.58" r="1.15" fill="#A4A8E2"/>
<circle cx="112.00" cy="285.42" r="1.15" fill="#A4A8E2"/>
<circle cx="116.60" cy="285.15" r="1.15" fill="#A4A8E2"/>
<circle cx="105.10" cy="285.03" r="1.15" fill="#A4A8E2"/>
<circle cx="109.70" cy="284.78" r="1.15" fill="#A4A8E2"/>
<circle cx="118.90" cy="284.75" r="1.15" fill="#A4A8E2"/>
<circle cx="118.90" cy="284.49" r="1.15" fill="#A4A8E2"/>
<circle cx="114.30" cy="284.13" r="1.15" fill="#A4A8E2"/>
<circle cx="107.40" cy="283.87" r="1.15" fill="#A4A8E2"/>
<circle cx="112.00" cy="283.13" r="1.15" fill="#A4A8E2"/>
<circle cx="109.70" cy="282.30" r="1.15" fill="#A4A8E2"/>
<circle cx="114.30" cy="282.17" r="1.15" fill="#A4A8E2"/>
<circle cx="107.40" cy="282.02" r="1.15" fill="#A4A8E2"/>
<circle cx="116.60" cy="281.64" r="1.15" fill="#A4A8E2"/>
<circle cx="105.10" cy="281.62" r="1.15" fill="#A4A8E2"/>
<circle cx="112.00" cy="280.71" r="1.15" fill="#A4A8E2"/>
<circle cx="109.70" cy="280.43" r="1.15" fill="#A4A8E2"/>
<circle cx="112.00" cy="278.70" r="1.15" fill="#A4A8E2"/>
<circle cx="109.70" cy="278.31" r="1.15" fill="#A4A8E2"/>
<circle cx="114.30" cy="277.90" r="1.15" fill="#A4A8E2"/>
<circle cx="107.40" cy="277.21" r="1.15" fill="#A4A8E2"/>
<circle cx="112.00" cy="276.57" r="1.15" fill="#A4A8E2"/>
<circle cx="109.70" cy="276.15" r="1.15" fill="#A4A8E2"/>
<circle cx="114.30" cy="275.64" r="1.15" fill="#A4A8E2"/>
<circle cx="107.40" cy="275.56" r="1.15" fill="#A4A8E2"/>
<circle cx="112.00" cy="274.48" r="1.15" fill="#A4A8E2"/>
<circle cx="109.70" cy="274.42" r="1.15" fill="#A4A8E2"/>
<circle cx="116.60" cy="274.22" r="1.15" fill="#A4A8E2"/>
<circle cx="112.00" cy="272.64" r="1.15" fill="#A4A8E2"/>
<circle cx="109.70" cy="272.15" r="1.15" fill="#A4A8E2"/>
<circle cx="114.30" cy="272.05" r="1.15" fill="#A4A8E2"/>
<circle cx="107.40" cy="271.97" r="1.15" fill="#A4A8E2"/>
<circle cx="116.60" cy="271.88" r="1.15" fill="#A4A8E2"/>
<circle cx="105.10" cy="271.79" r="1.15" fill="#A4A8E2"/>
<circle cx="112.00" cy="270.38" r="1.15" fill="#A4A8E2"/>
<circle cx="112.00" cy="265.20" r="1.15" fill="#A4A8E2"/>
<circle cx="109.70" cy="264.21" r="1.15" fill="#A4A8E2"/>
<circle cx="112.00" cy="263.42" r="1.15" fill="#A4A8E2"/>
<circle cx="109.70" cy="262.50" r="1.15" fill="#A4A8E2"/>
<circle cx="114.30" cy="262.09" r="1.15" fill="#A4A8E2"/>
<circle cx="112.00" cy="259.76" r="1.15" fill="#A4A8E2"/>
<circle cx="109.70" cy="259.07" r="1.15" fill="#A4A8E2"/>
<circle cx="114.30" cy="258.75" r="1.15" fill="#A4A8E2"/>
<circle cx="107.40" cy="258.70" r="1.15" fill="#A4A8E2"/>
<circle cx="116.60" cy="258.53" r="1.15" fill="#A4A8E2"/>
<circle cx="112.00" cy="242.92" r="1.15" fill="#A4A8E2"/>
<line x1="104.50" y1="282.50" x2="119.50" y2="282.50" stroke="#4a4a4a" stroke-width="1.0" stroke-linecap="butt"/>
<line x1="109.00" y1="280.30" x2="115.00" y2="280.30" stroke="#4a4a4a" stroke-width="0.8" stroke-linecap="butt"/>
<line x1="109.00" y1="284.70" x2="115.00" y2="284.70" stroke="#4a4a4a" stroke-width="0.8" stroke-linecap="butt"/>
<line x1="112.00" y1="280.30" x2="112.00" y2="284.70" stroke="#4a4a4a" stroke-width="0.8" stroke-linecap="butt"/>
<text x="0" y="0" font-size="9.2" text-anchor="end" fill="#2a2a2a" stroke="#2a2a2a" stroke-width="0.15" transform="translate(29.50 366.70) scale(1 1.03)">male</text>
<text x="0" y="0" font-size="9.2" text-anchor="end" fill="#2a2a2a" stroke="#2a2a2a" stroke-width="0.15" transform="translate(29.50 382.50) scale(1 1.03)">female</text>
<circle cx="34.70" cy="365.20" r="2.5" fill="none" stroke="#9a9a9a" stroke-width="0.7"/>
<path d="M36.50 363.40 L39.45 360.45 M37.25 360.55 L39.45 360.45 L39.35 362.65" fill="none" stroke="#9a9a9a" stroke-width="0.7"/>
<circle cx="34.70" cy="377.90" r="2.5" fill="none" stroke="#9a9a9a" stroke-width="0.7"/>
<path d="M34.70 380.40 V384.00 M32.70 382.30 H36.70" fill="none" stroke="#9a9a9a" stroke-width="0.8"/>
<text x="0" y="0" font-size="9.2" text-anchor="start" fill="#1c1c1c" stroke="#1c1c1c" stroke-width="0.15" transform="translate(45.60 366.70) scale(1 1.03)">WT</text>
<text x="0" y="0" transform="translate(65.60 366.70) scale(1 1.03)" font-size="9.2" text-anchor="start" fill="#D8463F" stroke="#D8463F" stroke-width="0.105" font-style="italic">LAP1<tspan font-size="5.6" dx="0.4" dy="-3.3" font-style="normal" stroke-width="0.05">-/-</tspan></text>
<text x="0" y="0" transform="translate(98.30 366.70) scale(1 1.03)" font-size="9.2" text-anchor="start" fill="#1c1c1c" stroke="#1c1c1c" stroke-width="0.105" font-style="italic">LAP1<tspan font-size="5.6" dx="0.4" dy="-3.3" font-style="normal" stroke-width="0.05">-/+</tspan></text>
<text x="0" y="0" font-size="9.2" text-anchor="start" fill="#1c1c1c" stroke="#1c1c1c" stroke-width="0.15" transform="translate(47.00 382.20) scale(1 1.03)">WT</text>
<text x="0" y="0" transform="translate(65.20 382.20) scale(1 1.03)" font-size="9.2" text-anchor="start" fill="#D8463F" stroke="#D8463F" stroke-width="0.105" font-style="italic">LAP1<tspan font-size="5.6" dx="0.4" dy="-3.3" font-style="normal" stroke-width="0.05">-/-</tspan></text>
<text x="0" y="0" transform="translate(98.30 382.20) scale(1 1.03)" font-size="9.2" text-anchor="start" fill="#1c1c1c" stroke="#1c1c1c" stroke-width="0.105" font-style="italic">LAP1<tspan font-size="5.6" dx="0.4" dy="-3.3" font-style="normal" stroke-width="0.05">-/+</tspan></text>
<path d="M56.40 384.20 V387.40 H108.50 V384.20" fill="none" stroke="#3c3c3c" stroke-width="0.95"/>
<text x="0" y="0" font-size="9.9" text-anchor="start" fill="#1c1c1c" stroke="#1c1c1c" stroke-width="0.15" transform="translate(56.40 399.80) scale(1 1.03)">First blood</text>
<text x="0" y="0" font-size="9" text-anchor="start" fill="#1c1c1c" font-weight="bold" stroke="#1c1c1c" stroke-width="0.15" transform="translate(193.30 202.00) scale(1 1.03)">c</text>
<text x="0" y="0" font-size="9.2" text-anchor="middle" fill="#1c1c1c" font-weight="bold" stroke="#1c1c1c" stroke-width="0.15" transform="translate(247.50 198.70) scale(1 1.03)">Egg deposition</text>
<rect x="204.20" y="203.00" width="84.80" height="33.00" fill="#DFDFDF"/>
<path d="M217.00 217.30 V214.50 H276.50 V217.30" fill="none" stroke="#3c3c3c" stroke-width="0.95"/>
<polygon points="241.30,208.35 241.86,209.58 243.20,209.73 242.20,210.64 242.48,211.97 241.30,211.30 240.12,211.97 240.40,210.64 239.40,209.73 240.74,209.58" fill="#222" stroke="#222" stroke-width="0.35" stroke-linejoin="round"/>
<polygon points="245.90,208.35 246.46,209.58 247.80,209.73 246.80,210.64 247.08,211.97 245.90,211.30 244.72,211.97 245.00,210.64 244.00,209.73 245.34,209.58" fill="#222" stroke="#222" stroke-width="0.35" stroke-linejoin="round"/>
<polygon points="250.50,208.35 251.06,209.58 252.40,209.73 251.40,210.64 251.68,211.97 250.50,211.30 249.32,211.97 249.60,210.64 248.60,209.73 249.94,209.58" fill="#222" stroke="#222" stroke-width="0.35" stroke-linejoin="round"/>
<path d="M217.00 225.30 V222.40 H245.60 V225.30" fill="none" stroke="#3c3c3c" stroke-width="0.95"/>
<path d="M248.00 225.30 V222.40 H276.50 V225.30" fill="none" stroke="#3c3c3c" stroke-width="0.95"/>
<polygon points="225.30,217.45 225.86,218.68 227.20,218.83 226.20,219.74 226.48,221.07 225.30,220.40 224.12,221.07 224.40,219.74 223.40,218.83 224.74,218.68" fill="#222" stroke="#222" stroke-width="0.35" stroke-linejoin="round"/>
<polygon points="229.90,217.45 230.46,218.68 231.80,218.83 230.80,219.74 231.08,221.07 229.90,220.40 228.72,221.07 229.00,219.74 228.00,218.83 229.34,218.68" fill="#222" stroke="#222" stroke-width="0.35" stroke-linejoin="round"/>
<polygon points="234.50,217.45 235.06,218.68 236.40,218.83 235.40,219.74 235.68,221.07 234.50,220.40 233.32,221.07 233.60,219.74 232.60,218.83 233.94,218.68" fill="#222" stroke="#222" stroke-width="0.35" stroke-linejoin="round"/>
<polygon points="258.00,217.45 258.56,218.68 259.90,218.83 258.90,219.74 259.18,221.07 258.00,220.40 256.82,221.07 257.10,219.74 256.10,218.83 257.44,218.68" fill="#222" stroke="#222" stroke-width="0.35" stroke-linejoin="round"/>
<polygon points="262.60,217.45 263.16,218.68 264.50,218.83 263.50,219.74 263.78,221.07 262.60,220.40 261.42,221.07 261.70,219.74 260.70,218.83 262.04,218.68" fill="#222" stroke="#222" stroke-width="0.35" stroke-linejoin="round"/>
<polygon points="267.20,217.45 267.76,218.68 269.10,218.83 268.10,219.74 268.38,221.07 267.20,220.40 266.02,221.07 266.30,219.74 265.30,218.83 266.64,218.68" fill="#222" stroke="#222" stroke-width="0.35" stroke-linejoin="round"/>
<text x="0" y="0" font-size="9.2" text-anchor="middle" fill="#1c1c1c" stroke="#1c1c1c" stroke-width="0.15" transform="translate(217.00 234.70) scale(1 1.03)">50</text>
<text x="0" y="0" font-size="9.2" text-anchor="middle" fill="#1c1c1c" stroke="#1c1c1c" stroke-width="0.15" transform="translate(245.90 234.70) scale(1 1.03)">48</text>
<text x="0" y="0" font-size="9.2" text-anchor="middle" fill="#1c1c1c" stroke="#1c1c1c" stroke-width="0.15" transform="translate(274.80 234.70) scale(1 1.03)">53</text>
<line x1="202.70" y1="238.80" x2="202.70" y2="353.70" stroke="#3c3c3c" stroke-width="1.1" stroke-linecap="butt"/>
<line x1="198.70" y1="353.20" x2="202.70" y2="353.20" stroke="#3c3c3c" stroke-width="1.0" stroke-linecap="butt"/>
<text x="0" y="0" font-size="9.2" text-anchor="end" fill="#1c1c1c" stroke="#1c1c1c" stroke-width="0.15" transform="translate(196.50 357.20) scale(1 1.08)">0</text>
<line x1="198.70" y1="330.42" x2="202.70" y2="330.42" stroke="#3c3c3c" stroke-width="1.0" stroke-linecap="butt"/>
<text x="0" y="0" font-size="9.2" text-anchor="end" fill="#1c1c1c" stroke="#1c1c1c" stroke-width="0.15" transform="translate(196.50 334.42) scale(1 1.08)">30</text>
<line x1="198.70" y1="307.64" x2="202.70" y2="307.64" stroke="#3c3c3c" stroke-width="1.0" stroke-linecap="butt"/>
<text x="0" y="0" font-size="9.2" text-anchor="end" fill="#1c1c1c" stroke="#1c1c1c" stroke-width="0.15" transform="translate(196.50 311.64) scale(1 1.08)">60</text>
<line x1="198.70" y1="284.86" x2="202.70" y2="284.86" stroke="#3c3c3c" stroke-width="1.0" stroke-linecap="butt"/>
<text x="0" y="0" font-size="9.2" text-anchor="end" fill="#1c1c1c" stroke="#1c1c1c" stroke-width="0.15" transform="translate(196.50 288.86) scale(1 1.08)">90</text>
<line x1="198.70" y1="262.08" x2="202.70" y2="262.08" stroke="#3c3c3c" stroke-width="1.0" stroke-linecap="butt"/>
<text x="0" y="0" font-size="9.2" text-anchor="end" fill="#1c1c1c" stroke="#1c1c1c" stroke-width="0.15" transform="translate(196.50 266.08) scale(1 1.08)">120</text>
<line x1="198.70" y1="239.30" x2="202.70" y2="239.30" stroke="#3c3c3c" stroke-width="1.0" stroke-linecap="butt"/>
<text x="0" y="0" font-size="9.2" text-anchor="end" fill="#1c1c1c" stroke="#1c1c1c" stroke-width="0.15" transform="translate(196.50 243.30) scale(1 1.08)">150</text>
<line x1="202.20" y1="353.20" x2="289.70" y2="353.20" stroke="#3c3c3c" stroke-width="1.1" stroke-linecap="butt"/>
<line x1="216.00" y1="353.20" x2="216.00" y2="356.20" stroke="#3c3c3c" stroke-width="1.0" stroke-linecap="butt"/>
<line x1="244.50" y1="353.20" x2="244.50" y2="356.20" stroke="#3c3c3c" stroke-width="1.0" stroke-linecap="butt"/>
<line x1="272.50" y1="353.20" x2="272.50" y2="356.20" stroke="#3c3c3c" stroke-width="1.0" stroke-linecap="butt"/>
<text x="0" y="0" font-size="9.3" text-anchor="middle" fill="#1c1c1c" stroke="#1c1c1c" stroke-width="0.15" transform="translate(177.30 298.00) rotate(-90) scale(1 1.03)">Egg numbers</text>
<circle cx="216.50" cy="292.18" r="1.15" fill="#7A9E2A"/>
<circle cx="216.50" cy="288.46" r="1.15" fill="#7A9E2A"/>
<circle cx="216.50" cy="284.22" r="1.15" fill="#7A9E2A"/>
<circle cx="214.20" cy="283.80" r="1.15" fill="#7A9E2A"/>
<circle cx="218.80" cy="282.77" r="1.15" fill="#7A9E2A"/>
<circle cx="216.50" cy="281.79" r="1.15" fill="#7A9E2A"/>
<circle cx="214.20" cy="281.53" r="1.15" fill="#7A9E2A"/>
<circle cx="218.80" cy="280.50" r="1.15" fill="#7A9E2A"/>
<circle cx="216.50" cy="279.63" r="1.15" fill="#7A9E2A"/>
<circle cx="214.20" cy="279.24" r="1.15" fill="#7A9E2A"/>
<circle cx="216.50" cy="277.82" r="1.15" fill="#7A9E2A"/>
<circle cx="214.20" cy="277.65" r="1.15" fill="#7A9E2A"/>
<circle cx="218.80" cy="277.64" r="1.15" fill="#7A9E2A"/>
<circle cx="216.50" cy="275.95" r="1.15" fill="#7A9E2A"/>
<circle cx="214.20" cy="275.51" r="1.15" fill="#7A9E2A"/>
<circle cx="218.80" cy="274.93" r="1.15" fill="#7A9E2A"/>
<circle cx="211.90" cy="274.74" r="1.15" fill="#7A9E2A"/>
<circle cx="221.10" cy="274.65" r="1.15" fill="#7A9E2A"/>
<circle cx="209.60" cy="274.53" r="1.15" fill="#7A9E2A"/>
<circle cx="216.50" cy="273.27" r="1.15" fill="#7A9E2A"/>
<circle cx="214.20" cy="271.95" r="1.15" fill="#7A9E2A"/>
<circle cx="216.50" cy="271.59" r="1.15" fill="#7A9E2A"/>
<circle cx="216.50" cy="269.26" r="1.15" fill="#7A9E2A"/>
<circle cx="214.20" cy="269.06" r="1.15" fill="#7A9E2A"/>
<circle cx="218.80" cy="269.00" r="1.15" fill="#7A9E2A"/>
<circle cx="211.90" cy="268.11" r="1.15" fill="#7A9E2A"/>
<circle cx="221.10" cy="268.11" r="1.15" fill="#7A9E2A"/>
<circle cx="209.60" cy="267.80" r="1.15" fill="#7A9E2A"/>
<circle cx="216.50" cy="267.62" r="1.15" fill="#7A9E2A"/>
<circle cx="216.50" cy="265.72" r="1.15" fill="#7A9E2A"/>
<circle cx="214.20" cy="264.89" r="1.15" fill="#7A9E2A"/>
<circle cx="218.80" cy="264.35" r="1.15" fill="#7A9E2A"/>
<circle cx="216.50" cy="262.87" r="1.15" fill="#7A9E2A"/>
<circle cx="214.20" cy="262.78" r="1.15" fill="#7A9E2A"/>
<circle cx="218.80" cy="261.35" r="1.15" fill="#7A9E2A"/>
<circle cx="216.50" cy="260.65" r="1.15" fill="#7A9E2A"/>
<circle cx="214.20" cy="260.52" r="1.15" fill="#7A9E2A"/>
<circle cx="211.90" cy="259.99" r="1.15" fill="#7A9E2A"/>
<circle cx="221.10" cy="259.97" r="1.15" fill="#7A9E2A"/>
<circle cx="218.80" cy="259.33" r="1.15" fill="#7A9E2A"/>
<circle cx="216.50" cy="258.72" r="1.15" fill="#7A9E2A"/>
<circle cx="216.50" cy="256.64" r="1.15" fill="#7A9E2A"/>
<circle cx="214.20" cy="256.39" r="1.15" fill="#7A9E2A"/>
<circle cx="218.80" cy="255.51" r="1.15" fill="#7A9E2A"/>
<circle cx="211.90" cy="255.43" r="1.15" fill="#7A9E2A"/>
<circle cx="216.50" cy="252.02" r="1.15" fill="#7A9E2A"/>
<circle cx="216.50" cy="250.26" r="1.15" fill="#7A9E2A"/>
<circle cx="214.20" cy="249.01" r="1.15" fill="#7A9E2A"/>
<circle cx="216.50" cy="246.13" r="1.15" fill="#7A9E2A"/>
<circle cx="214.20" cy="245.09" r="1.15" fill="#7A9E2A"/>
<line x1="209.50" y1="267.40" x2="223.50" y2="267.40" stroke="#4a4a4a" stroke-width="1.0" stroke-linecap="butt"/>
<line x1="213.50" y1="265.20" x2="219.50" y2="265.20" stroke="#4a4a4a" stroke-width="0.8" stroke-linecap="butt"/>
<line x1="213.50" y1="269.60" x2="219.50" y2="269.60" stroke="#4a4a4a" stroke-width="0.8" stroke-linecap="butt"/>
<line x1="216.50" y1="265.20" x2="216.50" y2="269.60" stroke="#4a4a4a" stroke-width="0.8" stroke-linecap="butt"/>
<circle cx="243.50" cy="339.53" r="1.15" fill="#2158B0"/>
<circle cx="243.50" cy="326.38" r="1.15" fill="#2158B0"/>
<circle cx="241.20" cy="325.15" r="1.15" fill="#2158B0"/>
<circle cx="243.50" cy="324.29" r="1.15" fill="#2158B0"/>
<circle cx="243.50" cy="317.66" r="1.15" fill="#2158B0"/>
<circle cx="241.20" cy="316.78" r="1.15" fill="#2158B0"/>
<circle cx="243.50" cy="314.03" r="1.15" fill="#2158B0"/>
<circle cx="241.20" cy="312.57" r="1.15" fill="#2158B0"/>
<circle cx="243.50" cy="311.88" r="1.15" fill="#2158B0"/>
<circle cx="245.80" cy="311.82" r="1.15" fill="#2158B0"/>
<circle cx="243.50" cy="309.89" r="1.15" fill="#2158B0"/>
<circle cx="241.20" cy="308.98" r="1.15" fill="#2158B0"/>
<circle cx="243.50" cy="307.41" r="1.15" fill="#2158B0"/>
<circle cx="241.20" cy="305.92" r="1.15" fill="#2158B0"/>
<circle cx="245.80" cy="305.87" r="1.15" fill="#2158B0"/>
<circle cx="243.50" cy="304.98" r="1.15" fill="#2158B0"/>
<circle cx="238.90" cy="304.41" r="1.15" fill="#2158B0"/>
<circle cx="243.50" cy="303.38" r="1.15" fill="#2158B0"/>
<circle cx="241.20" cy="303.14" r="1.15" fill="#2158B0"/>
<circle cx="245.80" cy="302.91" r="1.15" fill="#2158B0"/>
<circle cx="238.90" cy="302.76" r="1.15" fill="#2158B0"/>
<circle cx="248.10" cy="302.74" r="1.15" fill="#2158B0"/>
<circle cx="236.60" cy="301.95" r="1.15" fill="#2158B0"/>
<circle cx="243.50" cy="301.27" r="1.15" fill="#2158B0"/>
<circle cx="241.20" cy="300.78" r="1.15" fill="#2158B0"/>
<circle cx="245.80" cy="300.74" r="1.15" fill="#2158B0"/>
<circle cx="238.90" cy="300.28" r="1.15" fill="#2158B0"/>
<circle cx="248.10" cy="300.22" r="1.15" fill="#2158B0"/>
<circle cx="243.50" cy="298.28" r="1.15" fill="#2158B0"/>
<circle cx="241.20" cy="298.17" r="1.15" fill="#2158B0"/>
<circle cx="245.80" cy="298.00" r="1.15" fill="#2158B0"/>
<circle cx="243.50" cy="296.23" r="1.15" fill="#2158B0"/>
<circle cx="241.20" cy="295.80" r="1.15" fill="#2158B0"/>
<circle cx="245.80" cy="295.69" r="1.15" fill="#2158B0"/>
<circle cx="238.90" cy="295.06" r="1.15" fill="#2158B0"/>
<circle cx="243.50" cy="293.48" r="1.15" fill="#2158B0"/>
<circle cx="241.20" cy="292.33" r="1.15" fill="#2158B0"/>
<circle cx="245.80" cy="291.95" r="1.15" fill="#2158B0"/>
<circle cx="243.50" cy="291.33" r="1.15" fill="#2158B0"/>
<circle cx="241.20" cy="290.63" r="1.15" fill="#2158B0"/>
<circle cx="238.90" cy="290.47" r="1.15" fill="#2158B0"/>
<circle cx="243.50" cy="287.91" r="1.15" fill="#2158B0"/>
<circle cx="241.20" cy="286.99" r="1.15" fill="#2158B0"/>
<circle cx="245.80" cy="286.93" r="1.15" fill="#2158B0"/>
<circle cx="243.50" cy="282.83" r="1.15" fill="#2158B0"/>
<circle cx="241.20" cy="282.08" r="1.15" fill="#2158B0"/>
<circle cx="243.50" cy="275.02" r="1.15" fill="#2158B0"/>
<circle cx="243.50" cy="269.67" r="1.15" fill="#2158B0"/>
<line x1="236.50" y1="300.05" x2="250.50" y2="300.05" stroke="#4a4a4a" stroke-width="1.0" stroke-linecap="butt"/>
<line x1="240.50" y1="297.85" x2="246.50" y2="297.85" stroke="#4a4a4a" stroke-width="0.8" stroke-linecap="butt"/>
<line x1="240.50" y1="302.25" x2="246.50" y2="302.25" stroke="#4a4a4a" stroke-width="0.8" stroke-linecap="butt"/>
<line x1="243.50" y1="297.85" x2="243.50" y2="302.25" stroke="#4a4a4a" stroke-width="0.8" stroke-linecap="butt"/>
<circle cx="271.00" cy="326.62" r="1.15" fill="#A4A8E2"/>
<circle cx="271.00" cy="303.72" r="1.15" fill="#A4A8E2"/>
<circle cx="271.00" cy="300.15" r="1.15" fill="#A4A8E2"/>
<circle cx="268.70" cy="299.54" r="1.15" fill="#A4A8E2"/>
<circle cx="273.30" cy="299.44" r="1.15" fill="#A4A8E2"/>
<circle cx="271.00" cy="297.67" r="1.15" fill="#A4A8E2"/>
<circle cx="268.70" cy="297.10" r="1.15" fill="#A4A8E2"/>
<circle cx="273.30" cy="297.03" r="1.15" fill="#A4A8E2"/>
<circle cx="266.40" cy="296.96" r="1.15" fill="#A4A8E2"/>
<circle cx="275.60" cy="296.58" r="1.15" fill="#A4A8E2"/>
<circle cx="271.00" cy="295.99" r="1.15" fill="#A4A8E2"/>
<circle cx="268.70" cy="295.45" r="1.15" fill="#A4A8E2"/>
<circle cx="273.30" cy="294.92" r="1.15" fill="#A4A8E2"/>
<circle cx="266.40" cy="294.88" r="1.15" fill="#A4A8E2"/>
<circle cx="271.00" cy="294.17" r="1.15" fill="#A4A8E2"/>
<circle cx="268.70" cy="292.65" r="1.15" fill="#A4A8E2"/>
<circle cx="271.00" cy="289.24" r="1.15" fill="#A4A8E2"/>
<circle cx="268.70" cy="289.23" r="1.15" fill="#A4A8E2"/>
<circle cx="273.30" cy="288.87" r="1.15" fill="#A4A8E2"/>
<circle cx="266.40" cy="287.72" r="1.15" fill="#A4A8E2"/>
<circle cx="271.00" cy="287.45" r="1.15" fill="#A4A8E2"/>
<circle cx="268.70" cy="286.96" r="1.15" fill="#A4A8E2"/>
<circle cx="273.30" cy="286.91" r="1.15" fill="#A4A8E2"/>
<circle cx="275.60" cy="286.76" r="1.15" fill="#A4A8E2"/>
<circle cx="264.10" cy="286.59" r="1.15" fill="#A4A8E2"/>
<circle cx="266.40" cy="286.10" r="1.15" fill="#A4A8E2"/>
<circle cx="271.00" cy="283.42" r="1.15" fill="#A4A8E2"/>
<circle cx="268.70" cy="283.34" r="1.15" fill="#A4A8E2"/>
<circle cx="271.00" cy="280.69" r="1.15" fill="#A4A8E2"/>
<circle cx="268.70" cy="280.17" r="1.15" fill="#A4A8E2"/>
<circle cx="273.30" cy="280.08" r="1.15" fill="#A4A8E2"/>
<circle cx="271.00" cy="278.91" r="1.15" fill="#A4A8E2"/>
<circle cx="266.40" cy="278.80" r="1.15" fill="#A4A8E2"/>
<circle cx="268.70" cy="278.49" r="1.15" fill="#A4A8E2"/>
<circle cx="273.30" cy="277.92" r="1.15" fill="#A4A8E2"/>
<circle cx="271.00" cy="277.19" r="1.15" fill="#A4A8E2"/>
<circle cx="268.70" cy="276.92" r="1.15" fill="#A4A8E2"/>
<circle cx="271.00" cy="275.01" r="1.15" fill="#A4A8E2"/>
<circle cx="268.70" cy="274.30" r="1.15" fill="#A4A8E2"/>
<circle cx="273.30" cy="274.26" r="1.15" fill="#A4A8E2"/>
<circle cx="271.00" cy="273.24" r="1.15" fill="#A4A8E2"/>
<circle cx="266.40" cy="273.10" r="1.15" fill="#A4A8E2"/>
<circle cx="268.70" cy="272.72" r="1.15" fill="#A4A8E2"/>
<circle cx="271.00" cy="269.99" r="1.15" fill="#A4A8E2"/>
<circle cx="271.00" cy="267.98" r="1.15" fill="#A4A8E2"/>
<circle cx="271.00" cy="265.13" r="1.15" fill="#A4A8E2"/>
<circle cx="271.00" cy="261.77" r="1.15" fill="#A4A8E2"/>
<circle cx="271.00" cy="259.42" r="1.15" fill="#A4A8E2"/>
<circle cx="268.70" cy="258.65" r="1.15" fill="#A4A8E2"/>
<circle cx="271.00" cy="256.02" r="1.15" fill="#A4A8E2"/>
<circle cx="268.70" cy="255.17" r="1.15" fill="#A4A8E2"/>
<circle cx="273.30" cy="255.02" r="1.15" fill="#A4A8E2"/>
<circle cx="271.00" cy="253.00" r="1.15" fill="#A4A8E2"/>
<line x1="264.00" y1="281.06" x2="278.00" y2="281.06" stroke="#4a4a4a" stroke-width="1.0" stroke-linecap="butt"/>
<line x1="268.00" y1="278.86" x2="274.00" y2="278.86" stroke="#4a4a4a" stroke-width="0.8" stroke-linecap="butt"/>
<line x1="268.00" y1="283.26" x2="274.00" y2="283.26" stroke="#4a4a4a" stroke-width="0.8" stroke-linecap="butt"/>
<line x1="271.00" y1="278.86" x2="271.00" y2="283.26" stroke="#4a4a4a" stroke-width="0.8" stroke-linecap="butt"/>
<text x="0" y="0" font-size="9.2" text-anchor="start" fill="#1c1c1c" stroke="#1c1c1c" stroke-width="0.15" transform="translate(205.60 366.70) scale(1 1.03)">WT</text>
<text x="0" y="0" transform="translate(227.80 366.70) scale(1 1.03)" font-size="9.2" text-anchor="start" fill="#D8463F" stroke="#D8463F" stroke-width="0.105" font-style="italic">LAP1<tspan font-size="5.6" dx="0.4" dy="-3.3" font-style="normal" stroke-width="0.05">-/-</tspan></text>
<text x="0" y="0" transform="translate(263.00 366.70) scale(1 1.03)" font-size="9.2" text-anchor="start" fill="#1c1c1c" stroke="#1c1c1c" stroke-width="0.105" font-style="italic">LAP1<tspan font-size="5.6" dx="0.4" dy="-3.3" font-style="normal" stroke-width="0.05">-/+</tspan></text>
<text x="0" y="0" font-size="9.2" text-anchor="start" fill="#1c1c1c" stroke="#1c1c1c" stroke-width="0.15" transform="translate(207.00 382.20) scale(1 1.03)">WT</text>
<text x="0" y="0" transform="translate(227.80 382.20) scale(1 1.03)" font-size="9.2" text-anchor="start" fill="#D8463F" stroke="#D8463F" stroke-width="0.105" font-style="italic">LAP1<tspan font-size="5.6" dx="0.4" dy="-3.3" font-style="normal" stroke-width="0.05">-/-</tspan></text>
<text x="0" y="0" transform="translate(263.00 382.20) scale(1 1.03)" font-size="9.2" text-anchor="start" fill="#1c1c1c" stroke="#1c1c1c" stroke-width="0.105" font-style="italic">LAP1<tspan font-size="5.6" dx="0.4" dy="-3.3" font-style="normal" stroke-width="0.05">-/+</tspan></text>
<path d="M218.30 384.20 V387.40 H270.60 V384.20" fill="none" stroke="#3c3c3c" stroke-width="0.95"/>
<text x="0" y="0" font-size="9.9" text-anchor="start" fill="#1c1c1c" stroke="#1c1c1c" stroke-width="0.15" transform="translate(212.40 399.80) scale(1 1.03)">Second blood</text>
<text x="0" y="0" font-size="9" text-anchor="start" fill="#1c1c1c" font-weight="bold" stroke="#1c1c1c" stroke-width="0.15" transform="translate(368.60 202.00) scale(1 1.03)">d</text>
<text x="0" y="0" font-size="9.2" text-anchor="middle" fill="#1c1c1c" font-weight="bold" stroke="#1c1c1c" stroke-width="0.15" transform="translate(428.00 198.70) scale(1 1.03)">Hatchability</text>
<rect x="387.30" y="202.60" width="85.20" height="33.40" fill="#DFDFDF"/>
<path d="M398.30 217.30 V214.50 H458.80 V217.30" fill="none" stroke="#3c3c3c" stroke-width="0.95"/>
<polygon points="423.70,208.35 424.26,209.58 425.60,209.73 424.60,210.64 424.88,211.97 423.70,211.30 422.52,211.97 422.80,210.64 421.80,209.73 423.14,209.58" fill="#222" stroke="#222" stroke-width="0.35" stroke-linejoin="round"/>
<polygon points="428.30,208.35 428.86,209.58 430.20,209.73 429.20,210.64 429.48,211.97 428.30,211.30 427.12,211.97 427.40,210.64 426.40,209.73 427.74,209.58" fill="#222" stroke="#222" stroke-width="0.35" stroke-linejoin="round"/>
<polygon points="432.90,208.35 433.46,209.58 434.80,209.73 433.80,210.64 434.08,211.97 432.90,211.30 431.72,211.97 432.00,210.64 431.00,209.73 432.34,209.58" fill="#222" stroke="#222" stroke-width="0.35" stroke-linejoin="round"/>
<path d="M398.30 225.30 V222.40 H427.10 V225.30" fill="none" stroke="#3c3c3c" stroke-width="0.95"/>
<path d="M430.00 225.30 V222.40 H458.80 V225.30" fill="none" stroke="#3c3c3c" stroke-width="0.95"/>
<polygon points="407.30,217.45 407.86,218.68 409.20,218.83 408.20,219.74 408.48,221.07 407.30,220.40 406.12,221.07 406.40,219.74 405.40,218.83 406.74,218.68" fill="#222" stroke="#222" stroke-width="0.35" stroke-linejoin="round"/>
<polygon points="411.90,217.45 412.46,218.68 413.80,218.83 412.80,219.74 413.08,221.07 411.90,220.40 410.72,221.07 411.00,219.74 410.00,218.83 411.34,218.68" fill="#222" stroke="#222" stroke-width="0.35" stroke-linejoin="round"/>
<polygon points="416.50,217.45 417.06,218.68 418.40,218.83 417.40,219.74 417.68,221.07 416.50,220.40 415.32,221.07 415.60,219.74 414.60,218.83 415.94,218.68" fill="#222" stroke="#222" stroke-width="0.35" stroke-linejoin="round"/>
<polygon points="440.60,217.45 441.16,218.68 442.50,218.83 441.50,219.74 441.78,221.07 440.60,220.40 439.42,221.07 439.70,219.74 438.70,218.83 440.04,218.68" fill="#222" stroke="#222" stroke-width="0.35" stroke-linejoin="round"/>
<polygon points="445.20,217.45 445.76,218.68 447.10,218.83 446.10,219.74 446.38,221.07 445.20,220.40 444.02,221.07 444.30,219.74 443.30,218.83 444.64,218.68" fill="#222" stroke="#222" stroke-width="0.35" stroke-linejoin="round"/>
<polygon points="449.80,217.45 450.36,218.68 451.70,218.83 450.70,219.74 450.98,221.07 449.80,220.40 448.62,221.07 448.90,219.74 447.90,218.83 449.24,218.68" fill="#222" stroke="#222" stroke-width="0.35" stroke-linejoin="round"/>
<text x="0" y="0" font-size="9.2" text-anchor="middle" fill="#1c1c1c" stroke="#1c1c1c" stroke-width="0.15" transform="translate(399.30 234.70) scale(1 1.03)">62/62</text>
<text x="0" y="0" font-size="9.2" text-anchor="middle" fill="#1c1c1c" stroke="#1c1c1c" stroke-width="0.15" transform="translate(428.60 234.70) scale(1 1.03)">44/72</text>
<text x="0" y="0" font-size="9.2" text-anchor="middle" fill="#1c1c1c" stroke="#1c1c1c" stroke-width="0.15" transform="translate(456.30 234.70) scale(1 1.03)">75/75</text>
<line x1="385.90" y1="238.00" x2="385.90" y2="353.70" stroke="#3c3c3c" stroke-width="1.1" stroke-linecap="butt"/>
<line x1="381.90" y1="344.40" x2="385.90" y2="344.40" stroke="#3c3c3c" stroke-width="1.0" stroke-linecap="butt"/>
<text x="0" y="0" font-size="9.2" text-anchor="end" fill="#1c1c1c" stroke="#1c1c1c" stroke-width="0.15" transform="translate(379.70 348.40) scale(1 1.08)">0</text>
<line x1="381.90" y1="326.75" x2="385.90" y2="326.75" stroke="#3c3c3c" stroke-width="1.0" stroke-linecap="butt"/>
<text x="0" y="0" font-size="9.2" text-anchor="end" fill="#1c1c1c" stroke="#1c1c1c" stroke-width="0.15" transform="translate(379.70 330.75) scale(1 1.08)">20</text>
<line x1="381.90" y1="309.10" x2="385.90" y2="309.10" stroke="#3c3c3c" stroke-width="1.0" stroke-linecap="butt"/>
<text x="0" y="0" font-size="9.2" text-anchor="end" fill="#1c1c1c" stroke="#1c1c1c" stroke-width="0.15" transform="translate(379.70 313.10) scale(1 1.08)">40</text>
<line x1="381.90" y1="291.45" x2="385.90" y2="291.45" stroke="#3c3c3c" stroke-width="1.0" stroke-linecap="butt"/>
<text x="0" y="0" font-size="9.2" text-anchor="end" fill="#1c1c1c" stroke="#1c1c1c" stroke-width="0.15" transform="translate(379.70 295.45) scale(1 1.08)">60</text>
<line x1="381.90" y1="273.80" x2="385.90" y2="273.80" stroke="#3c3c3c" stroke-width="1.0" stroke-linecap="butt"/>
<text x="0" y="0" font-size="9.2" text-anchor="end" fill="#1c1c1c" stroke="#1c1c1c" stroke-width="0.15" transform="translate(379.70 277.80) scale(1 1.08)">80</text>
<line x1="381.90" y1="256.15" x2="385.90" y2="256.15" stroke="#3c3c3c" stroke-width="1.0" stroke-linecap="butt"/>
<text x="0" y="0" font-size="9.2" text-anchor="end" fill="#1c1c1c" stroke="#1c1c1c" stroke-width="0.15" transform="translate(379.70 260.15) scale(1 1.08)">100</text>
<line x1="381.90" y1="238.50" x2="385.90" y2="238.50" stroke="#3c3c3c" stroke-width="1.0" stroke-linecap="butt"/>
<text x="0" y="0" font-size="9.2" text-anchor="end" fill="#1c1c1c" stroke="#1c1c1c" stroke-width="0.15" transform="translate(379.70 242.50) scale(1 1.08)">120</text>
<line x1="385.40" y1="353.20" x2="469.50" y2="353.20" stroke="#3c3c3c" stroke-width="1.1" stroke-linecap="butt"/>
<line x1="399.00" y1="353.20" x2="399.00" y2="356.20" stroke="#3c3c3c" stroke-width="1.0" stroke-linecap="butt"/>
<line x1="426.70" y1="353.20" x2="426.70" y2="356.20" stroke="#3c3c3c" stroke-width="1.0" stroke-linecap="butt"/>
<line x1="454.40" y1="353.20" x2="454.40" y2="356.20" stroke="#3c3c3c" stroke-width="1.0" stroke-linecap="butt"/>
<line x1="385.90" y1="344.40" x2="469.00" y2="344.40" stroke="#111" stroke-width="1.3" stroke-linecap="butt" stroke-dasharray="1.4,1.3"/>
<text x="0" y="0" font-size="9.3" text-anchor="middle" fill="#1c1c1c" stroke="#1c1c1c" stroke-width="0.15" transform="translate(360.30 290.90) rotate(-90) scale(1 1.03)">% Hatching rate</text>
<polygon points="399.30,253.60 399.30,253.93 399.28,254.41 398.93,254.96 398.54,255.54 398.16,256.07 397.80,256.50 397.47,256.80 397.15,257.02 396.83,257.20 396.50,257.38 396.16,257.60 395.80,257.90 395.37,258.30 394.86,258.76 394.33,259.26 393.86,259.79 393.49,260.31 393.30,260.80 393.31,261.27 393.49,261.74 393.77,262.20 394.11,262.66 394.47,263.13 394.80,263.60 395.12,264.07 395.49,264.53 395.86,265.00 396.23,265.48 396.55,265.98 396.80,266.50 396.96,267.05 397.06,267.62 397.11,268.21 397.15,268.82 397.21,269.45 397.30,270.10 397.43,270.78 397.58,271.51 397.74,272.25 397.91,272.99 398.10,273.72 398.30,274.40 398.54,275.08 398.82,275.79 399.11,276.47 399.30,277.09 399.30,277.62 399.30,278.00 400.30,278.00 400.30,277.62 400.30,277.09 400.49,276.47 400.78,275.79 401.06,275.08 401.30,274.40 401.50,273.72 401.69,272.99 401.86,272.25 402.02,271.51 402.17,270.78 402.30,270.10 402.39,269.45 402.45,268.82 402.49,268.21 402.54,267.62 402.64,267.05 402.80,266.50 403.05,265.98 403.37,265.48 403.74,265.00 404.11,264.53 404.48,264.07 404.80,263.60 405.13,263.13 405.49,262.66 405.83,262.20 406.11,261.74 406.29,261.27 406.30,260.80 406.11,260.31 405.74,259.79 405.27,259.26 404.74,258.76 404.23,258.30 403.80,257.90 403.44,257.60 403.10,257.38 402.77,257.20 402.45,257.02 402.13,256.80 401.80,256.50 401.44,256.07 401.06,255.54 400.68,254.96 400.32,254.41 400.30,253.93 400.30,253.60" fill="#7A9E2A"/>
<line x1="394.10" y1="260.80" x2="405.50" y2="260.80" stroke="#ffffff" stroke-width="0.75" stroke-linecap="butt" stroke-dasharray="1.8,0.9"/>
<line x1="395.10" y1="262.90" x2="404.50" y2="262.90" stroke="#ffffff" stroke-width="0.75" stroke-linecap="butt" stroke-dasharray="1.8,0.9"/>
<line x1="396.74" y1="265.10" x2="402.86" y2="265.10" stroke="#ffffff" stroke-width="0.75" stroke-linecap="butt" stroke-dasharray="1.8,0.9"/>
<polygon points="426.50,288.70 426.50,289.57 426.50,290.71 426.50,292.10 426.50,293.69 426.40,295.43 426.30,297.30 426.23,299.40 426.18,301.78 426.14,304.32 426.10,306.91 426.06,309.41 426.00,311.70 425.93,313.82 425.85,315.88 425.76,317.85 425.67,319.72 425.59,321.48 425.50,323.10 425.42,324.58 425.35,325.92 425.28,327.14 425.20,328.27 425.11,329.32 425.00,330.30 424.86,331.18 424.70,331.95 424.53,332.63 424.35,333.27 424.17,333.92 424.00,334.60 423.85,335.31 423.72,336.01 423.59,336.71 423.44,337.41 423.25,338.14 423.00,338.90 422.61,339.71 422.09,340.57 421.53,341.44 421.02,342.31 420.64,343.14 420.50,343.90 420.61,344.58 420.91,345.20 421.34,345.79 421.87,346.35 422.44,346.92 423.00,347.50 423.63,348.14 424.37,348.83 425.16,349.52 425.91,350.17 426.50,350.71 426.50,351.10 427.50,351.10 427.50,350.71 428.09,350.17 428.84,349.52 429.63,348.83 430.37,348.14 431.00,347.50 431.56,346.92 432.13,346.35 432.66,345.79 433.09,345.20 433.39,344.58 433.50,343.90 433.36,343.14 432.98,342.31 432.47,341.44 431.91,340.57 431.39,339.71 431.00,338.90 430.75,338.14 430.56,337.41 430.41,336.71 430.28,336.01 430.15,335.31 430.00,334.60 429.83,333.92 429.65,333.27 429.47,332.63 429.30,331.95 429.14,331.18 429.00,330.30 428.89,329.32 428.80,328.27 428.72,327.14 428.65,325.92 428.58,324.58 428.50,323.10 428.41,321.48 428.33,319.72 428.24,317.85 428.15,315.88 428.07,313.82 428.00,311.70 427.94,309.41 427.90,306.91 427.86,304.32 427.82,301.78 427.77,299.40 427.70,297.30 427.60,295.43 427.50,293.69 427.50,292.10 427.50,290.71 427.50,289.57 427.50,288.70" fill="#2158B0"/>
<line x1="423.05" y1="340.30" x2="430.95" y2="340.30" stroke="#ffffff" stroke-width="0.75" stroke-linecap="butt" stroke-dasharray="1.8,0.9"/>
<polygon points="454.00,253.60 454.00,254.13 454.00,254.87 453.84,255.74 453.56,256.69 453.27,257.66 453.00,258.60 452.74,259.51 452.46,260.43 452.19,261.37 451.93,262.34 451.69,263.35 451.50,264.40 451.37,265.51 451.30,266.67 451.25,267.86 451.20,269.08 451.13,270.30 451.00,271.50 450.80,272.71 450.56,273.95 450.28,275.19 450.00,276.41 449.73,277.59 449.50,278.70 449.30,279.75 449.11,280.76 448.94,281.73 448.78,282.66 448.63,283.55 448.50,284.40 448.37,285.18 448.24,285.88 448.12,286.54 448.04,287.21 447.99,287.91 448.00,288.70 448.07,289.58 448.20,290.53 448.38,291.51 448.57,292.52 448.79,293.52 449.00,294.50 449.23,295.47 449.50,296.46 449.78,297.44 450.06,298.41 450.30,299.33 450.50,300.20 450.64,300.98 450.72,301.69 450.78,302.35 450.83,303.01 450.90,303.72 451.00,304.50 451.13,305.39 451.29,306.35 451.45,307.35 451.63,308.35 451.81,309.31 452.00,310.20 452.22,310.98 452.47,311.68 452.73,312.34 452.97,313.01 453.17,313.71 453.30,314.50 453.33,315.38 453.28,316.33 453.19,317.31 453.09,318.32 453.01,319.32 453.00,320.30 453.06,321.26 453.16,322.21 453.28,323.16 453.42,324.10 453.57,325.05 453.70,326.00 453.84,327.02 453.99,328.11 454.00,329.21 454.00,330.22 454.00,331.08 454.00,331.70 455.00,331.70 455.00,331.08 455.00,330.22 455.00,329.21 455.01,328.11 455.16,327.02 455.30,326.00 455.43,325.05 455.58,324.10 455.72,323.16 455.84,322.21 455.94,321.26 456.00,320.30 455.99,319.32 455.91,318.32 455.81,317.31 455.72,316.33 455.67,315.38 455.70,314.50 455.83,313.71 456.03,313.01 456.27,312.34 456.53,311.68 456.78,310.98 457.00,310.20 457.19,309.31 457.37,308.35 457.55,307.35 457.71,306.35 457.87,305.39 458.00,304.50 458.10,303.72 458.17,303.01 458.22,302.35 458.28,301.69 458.36,300.98 458.50,300.20 458.70,299.33 458.94,298.41 459.22,297.44 459.50,296.46 459.77,295.47 460.00,294.50 460.21,293.52 460.43,292.52 460.62,291.51 460.80,290.53 460.93,289.58 461.00,288.70 461.01,287.91 460.96,287.21 460.88,286.54 460.76,285.88 460.63,285.18 460.50,284.40 460.37,283.55 460.22,282.66 460.06,281.73 459.89,280.76 459.70,279.75 459.50,278.70 459.27,277.59 459.00,276.41 458.72,275.19 458.44,273.95 458.20,272.71 458.00,271.50 457.87,270.30 457.80,269.08 457.75,267.86 457.70,266.67 457.63,265.51 457.50,264.40 457.31,263.35 457.07,262.34 456.81,261.37 456.54,260.43 456.26,259.51 456.00,258.60 455.73,257.66 455.44,256.69 455.16,255.74 455.00,254.87 455.00,254.13 455.00,253.60" fill="#A4A8E2"/>
<line x1="450.36" y1="278.40" x2="458.64" y2="278.40" stroke="#ffffff" stroke-width="0.75" stroke-linecap="butt" stroke-dasharray="1.8,0.9"/>
<line x1="448.80" y1="288.40" x2="460.20" y2="288.40" stroke="#ffffff" stroke-width="0.75" stroke-linecap="butt" stroke-dasharray="1.8,0.9"/>
<line x1="450.88" y1="298.50" x2="458.12" y2="298.50" stroke="#ffffff" stroke-width="0.75" stroke-linecap="butt" stroke-dasharray="1.8,0.9"/>
<text x="0" y="0" font-size="9.2" text-anchor="start" fill="#1c1c1c" stroke="#1c1c1c" stroke-width="0.15" transform="translate(382.60 366.70) scale(1 1.03)">WT</text>
<text x="0" y="0" transform="translate(404.90 366.70) scale(1 1.03)" font-size="9.2" text-anchor="start" fill="#D8463F" stroke="#D8463F" stroke-width="0.105" font-style="italic">LAP1<tspan font-size="5.6" dx="0.4" dy="-3.3" font-style="normal" stroke-width="0.05">-/-</tspan></text>
<text x="0" y="0" transform="translate(439.30 366.70) scale(1 1.03)" font-size="9.2" text-anchor="start" fill="#1c1c1c" stroke="#1c1c1c" stroke-width="0.105" font-style="italic">LAP1<tspan font-size="5.6" dx="0.4" dy="-3.3" font-style="normal" stroke-width="0.05">-/+</tspan></text>
<text x="0" y="0" font-size="9.2" text-anchor="start" fill="#1c1c1c" stroke="#1c1c1c" stroke-width="0.15" transform="translate(384.10 382.20) scale(1 1.03)">WT</text>
<text x="0" y="0" transform="translate(404.90 382.20) scale(1 1.03)" font-size="9.2" text-anchor="start" fill="#D8463F" stroke="#D8463F" stroke-width="0.105" font-style="italic">LAP1<tspan font-size="5.6" dx="0.4" dy="-3.3" font-style="normal" stroke-width="0.05">-/-</tspan></text>
<text x="0" y="0" transform="translate(439.30 382.20) scale(1 1.03)" font-size="9.2" text-anchor="start" fill="#1c1c1c" stroke="#1c1c1c" stroke-width="0.105" font-style="italic">LAP1<tspan font-size="5.6" dx="0.4" dy="-3.3" font-style="normal" stroke-width="0.05">-/+</tspan></text>
<path d="M394.60 384.20 V387.40 H446.60 V384.20" fill="none" stroke="#3c3c3c" stroke-width="0.95"/>
<text x="0" y="0" font-size="9.9" text-anchor="start" fill="#1c1c1c" stroke="#1c1c1c" stroke-width="0.15" transform="translate(395.80 399.80) scale(1 1.03)">First blood</text>
<text x="0" y="0" font-size="9" text-anchor="start" fill="#1c1c1c" font-weight="bold" stroke="#1c1c1c" stroke-width="0.15" transform="translate(533.90 201.80) scale(1 1.03)">e</text>
<text x="0" y="0" font-size="9.2" text-anchor="middle" fill="#1c1c1c" font-weight="bold" stroke="#1c1c1c" stroke-width="0.15" transform="translate(584.00 198.70) scale(1 1.03)">Hatchability</text>
<rect x="542.90" y="203.00" width="84.70" height="33.40" fill="#DFDFDF"/>
<path d="M556.40 217.30 V214.50 H615.80 V217.30" fill="none" stroke="#3c3c3c" stroke-width="0.95"/>
<polygon points="582.00,208.35 582.56,209.58 583.90,209.73 582.90,210.64 583.18,211.97 582.00,211.30 580.82,211.97 581.10,210.64 580.10,209.73 581.44,209.58" fill="#222" stroke="#222" stroke-width="0.35" stroke-linejoin="round"/>
<polygon points="586.60,208.35 587.16,209.58 588.50,209.73 587.50,210.64 587.78,211.97 586.60,211.30 585.42,211.97 585.70,210.64 584.70,209.73 586.04,209.58" fill="#222" stroke="#222" stroke-width="0.35" stroke-linejoin="round"/>
<polygon points="591.20,208.35 591.76,209.58 593.10,209.73 592.10,210.64 592.38,211.97 591.20,211.30 590.02,211.97 590.30,210.64 589.30,209.73 590.64,209.58" fill="#222" stroke="#222" stroke-width="0.35" stroke-linejoin="round"/>
<path d="M556.40 225.30 V222.40 H584.70 V225.30" fill="none" stroke="#3c3c3c" stroke-width="0.95"/>
<path d="M587.10 225.30 V222.40 H615.80 V225.30" fill="none" stroke="#3c3c3c" stroke-width="0.95"/>
<polygon points="564.40,217.45 564.96,218.68 566.30,218.83 565.30,219.74 565.58,221.07 564.40,220.40 563.22,221.07 563.50,219.74 562.50,218.83 563.84,218.68" fill="#222" stroke="#222" stroke-width="0.35" stroke-linejoin="round"/>
<polygon points="569.00,217.45 569.56,218.68 570.90,218.83 569.90,219.74 570.18,221.07 569.00,220.40 567.82,221.07 568.10,219.74 567.10,218.83 568.44,218.68" fill="#222" stroke="#222" stroke-width="0.35" stroke-linejoin="round"/>
<polygon points="573.60,217.45 574.16,218.68 575.50,218.83 574.50,219.74 574.78,221.07 573.60,220.40 572.42,221.07 572.70,219.74 571.70,218.83 573.04,218.68" fill="#222" stroke="#222" stroke-width="0.35" stroke-linejoin="round"/>
<polygon points="596.90,217.45 597.46,218.68 598.80,218.83 597.80,219.74 598.08,221.07 596.90,220.40 595.72,221.07 596.00,219.74 595.00,218.83 596.34,218.68" fill="#222" stroke="#222" stroke-width="0.35" stroke-linejoin="round"/>
<polygon points="601.50,217.45 602.06,218.68 603.40,218.83 602.40,219.74 602.68,221.07 601.50,220.40 600.32,221.07 600.60,219.74 599.60,218.83 600.94,218.68" fill="#222" stroke="#222" stroke-width="0.35" stroke-linejoin="round"/>
<polygon points="606.10,217.45 606.66,218.68 608.00,218.83 607.00,219.74 607.28,221.07 606.10,220.40 604.92,221.07 605.20,219.74 604.20,218.83 605.54,218.68" fill="#222" stroke="#222" stroke-width="0.35" stroke-linejoin="round"/>
<text x="0" y="0" font-size="9.2" text-anchor="middle" fill="#1c1c1c" stroke="#1c1c1c" stroke-width="0.15" transform="translate(557.10 234.70) scale(1 1.03)">50/50</text>
<text x="0" y="0" font-size="9.2" text-anchor="middle" fill="#1c1c1c" stroke="#1c1c1c" stroke-width="0.15" transform="translate(586.00 234.70) scale(1 1.03)">0/48</text>
<text x="0" y="0" font-size="9.2" text-anchor="middle" fill="#1c1c1c" stroke="#1c1c1c" stroke-width="0.15" transform="translate(614.50 234.70) scale(1 1.03)">53/53</text>
<line x1="542.90" y1="238.50" x2="542.90" y2="353.30" stroke="#3c3c3c" stroke-width="1.1" stroke-linecap="butt"/>
<line x1="538.90" y1="344.40" x2="542.90" y2="344.40" stroke="#3c3c3c" stroke-width="1.0" stroke-linecap="butt"/>
<text x="0" y="0" font-size="9.2" text-anchor="end" fill="#1c1c1c" stroke="#1c1c1c" stroke-width="0.15" transform="translate(536.70 348.40) scale(1 1.08)">0</text>
<line x1="538.90" y1="326.83" x2="542.90" y2="326.83" stroke="#3c3c3c" stroke-width="1.0" stroke-linecap="butt"/>
<text x="0" y="0" font-size="9.2" text-anchor="end" fill="#1c1c1c" stroke="#1c1c1c" stroke-width="0.15" transform="translate(536.70 330.83) scale(1 1.08)">20</text>
<line x1="538.90" y1="309.27" x2="542.90" y2="309.27" stroke="#3c3c3c" stroke-width="1.0" stroke-linecap="butt"/>
<text x="0" y="0" font-size="9.2" text-anchor="end" fill="#1c1c1c" stroke="#1c1c1c" stroke-width="0.15" transform="translate(536.70 313.27) scale(1 1.08)">40</text>
<line x1="538.90" y1="291.70" x2="542.90" y2="291.70" stroke="#3c3c3c" stroke-width="1.0" stroke-linecap="butt"/>
<text x="0" y="0" font-size="9.2" text-anchor="end" fill="#1c1c1c" stroke="#1c1c1c" stroke-width="0.15" transform="translate(536.70 295.70) scale(1 1.08)">60</text>
<line x1="538.90" y1="274.13" x2="542.90" y2="274.13" stroke="#3c3c3c" stroke-width="1.0" stroke-linecap="butt"/>
<text x="0" y="0" font-size="9.2" text-anchor="end" fill="#1c1c1c" stroke="#1c1c1c" stroke-width="0.15" transform="translate(536.70 278.13) scale(1 1.08)">80</text>
<line x1="538.90" y1="256.57" x2="542.90" y2="256.57" stroke="#3c3c3c" stroke-width="1.0" stroke-linecap="butt"/>
<text x="0" y="0" font-size="9.2" text-anchor="end" fill="#1c1c1c" stroke="#1c1c1c" stroke-width="0.15" transform="translate(536.70 260.57) scale(1 1.08)">100</text>
<line x1="538.90" y1="239.00" x2="542.90" y2="239.00" stroke="#3c3c3c" stroke-width="1.0" stroke-linecap="butt"/>
<text x="0" y="0" font-size="9.2" text-anchor="end" fill="#1c1c1c" stroke="#1c1c1c" stroke-width="0.15" transform="translate(536.70 243.00) scale(1 1.08)">120</text>
<line x1="542.40" y1="352.80" x2="626.00" y2="352.80" stroke="#3c3c3c" stroke-width="1.1" stroke-linecap="butt"/>
<line x1="557.00" y1="352.80" x2="557.00" y2="355.80" stroke="#3c3c3c" stroke-width="1.0" stroke-linecap="butt"/>
<line x1="584.40" y1="352.80" x2="584.40" y2="355.80" stroke="#3c3c3c" stroke-width="1.0" stroke-linecap="butt"/>
<line x1="610.00" y1="352.80" x2="610.00" y2="355.80" stroke="#3c3c3c" stroke-width="1.0" stroke-linecap="butt"/>
<line x1="542.90" y1="344.40" x2="626.00" y2="344.40" stroke="#111" stroke-width="1.3" stroke-linecap="butt" stroke-dasharray="1.4,1.3"/>
<text x="0" y="0" font-size="9.3" text-anchor="middle" fill="#1c1c1c" stroke="#1c1c1c" stroke-width="0.15" transform="translate(515.30 292.00) rotate(-90) scale(1 1.03)">% Hatching rate</text>
<polygon points="556.40,254.30 556.40,254.53 556.40,254.85 556.06,255.23 555.68,255.64 555.29,256.07 554.90,256.50 554.51,256.92 554.09,257.36 553.65,257.81 553.21,258.29 552.79,258.78 552.40,259.30 552.00,259.85 551.57,260.44 551.15,261.05 550.79,261.67 550.52,262.29 550.40,262.90 550.45,263.50 550.64,264.10 550.93,264.70 551.27,265.30 551.61,265.90 551.90,266.50 552.16,267.08 552.42,267.65 552.68,268.21 552.94,268.80 553.18,269.42 553.40,270.10 553.60,270.87 553.77,271.71 553.93,272.60 554.09,273.49 554.24,274.33 554.40,275.10 554.56,275.74 554.71,276.27 554.87,276.76 555.03,277.29 555.20,277.91 555.40,278.70 555.64,279.77 555.92,281.10 556.21,282.52 556.40,283.90 556.40,285.07 556.40,285.90 557.40,285.90 557.40,285.07 557.40,283.90 557.59,282.52 557.88,281.10 558.16,279.77 558.40,278.70 558.60,277.91 558.77,277.29 558.93,276.76 559.09,276.27 559.24,275.74 559.40,275.10 559.56,274.33 559.71,273.49 559.87,272.60 560.03,271.71 560.20,270.87 560.40,270.10 560.62,269.42 560.86,268.80 561.12,268.21 561.38,267.65 561.64,267.08 561.90,266.50 562.19,265.90 562.53,265.30 562.87,264.70 563.16,264.10 563.35,263.50 563.40,262.90 563.27,262.29 563.01,261.67 562.65,261.05 562.23,260.44 561.80,259.85 561.40,259.30 561.01,258.78 560.59,258.29 560.15,257.81 559.71,257.36 559.29,256.92 558.90,256.50 558.51,256.07 558.12,255.64 557.74,255.23 557.40,254.85 557.40,254.53 557.40,254.30" fill="#7A9E2A"/>
<line x1="551.36" y1="262.20" x2="562.44" y2="262.20" stroke="#ffffff" stroke-width="0.75" stroke-linecap="butt" stroke-dasharray="1.8,0.9"/>
<line x1="551.59" y1="264.40" x2="562.21" y2="264.40" stroke="#ffffff" stroke-width="0.75" stroke-linecap="butt" stroke-dasharray="1.8,0.9"/>
<line x1="553.69" y1="268.70" x2="560.11" y2="268.70" stroke="#ffffff" stroke-width="0.75" stroke-linecap="butt" stroke-dasharray="1.8,0.9"/>
<ellipse cx="584" cy="344.3" rx="6.5" ry="1.5" fill="#2158B0"/>
<polygon points="610.70,255.80 610.70,256.25 610.70,256.86 610.70,257.58 610.61,258.38 610.41,259.20 610.20,260.00 609.97,260.80 609.70,261.64 609.42,262.50 609.14,263.37 608.90,264.25 608.70,265.10 608.54,265.91 608.40,266.69 608.29,267.47 608.22,268.27 608.18,269.14 608.20,270.10 608.31,271.19 608.51,272.39 608.76,273.66 609.00,274.93 609.16,276.16 609.20,277.30 609.10,278.34 608.90,279.31 608.64,280.24 608.33,281.16 608.01,282.07 607.70,283.00 607.38,283.95 607.03,284.90 606.67,285.84 606.31,286.79 605.98,287.74 605.70,288.70 605.45,289.63 605.22,290.52 605.01,291.42 604.85,292.36 604.74,293.37 604.70,294.50 604.75,295.77 604.87,297.16 605.04,298.62 605.26,300.13 605.48,301.63 605.70,303.10 605.92,304.57 606.16,306.07 606.42,307.58 606.68,309.05 606.94,310.43 607.20,311.70 607.46,312.84 607.72,313.89 607.98,314.86 608.24,315.76 608.48,316.61 608.70,317.40 608.91,318.11 609.13,318.70 609.33,319.24 609.50,319.77 609.63,320.34 609.70,321.00 609.69,321.73 609.59,322.48 609.45,323.27 609.31,324.12 609.21,325.02 609.20,326.00 609.29,327.07 609.44,328.24 609.64,329.47 609.85,330.73 610.04,331.98 610.20,333.20 610.31,334.40 610.40,335.60 610.48,336.79 610.55,337.98 610.62,339.15 610.70,340.30 610.70,341.49 610.70,342.75 610.70,343.99 610.70,345.14 610.70,346.10 610.70,346.80 611.70,346.80 611.70,346.10 611.70,345.14 611.70,343.99 611.70,342.75 611.70,341.49 611.70,340.30 611.78,339.15 611.85,337.98 611.92,336.79 612.00,335.60 612.09,334.40 612.20,333.20 612.36,331.98 612.55,330.73 612.76,329.47 612.96,328.24 613.11,327.07 613.20,326.00 613.19,325.02 613.09,324.12 612.95,323.27 612.81,322.48 612.71,321.73 612.70,321.00 612.77,320.34 612.90,319.77 613.08,319.24 613.27,318.70 613.49,318.11 613.70,317.40 613.92,316.61 614.16,315.76 614.42,314.86 614.68,313.89 614.94,312.84 615.20,311.70 615.46,310.43 615.72,309.05 615.98,307.58 616.24,306.07 616.48,304.57 616.70,303.10 616.92,301.63 617.14,300.13 617.36,298.62 617.53,297.16 617.65,295.77 617.70,294.50 617.66,293.37 617.55,292.36 617.39,291.42 617.18,290.52 616.95,289.63 616.70,288.70 616.42,287.74 616.09,286.79 615.73,285.84 615.37,284.90 615.02,283.95 614.70,283.00 614.39,282.07 614.07,281.16 613.76,280.24 613.50,279.31 613.30,278.34 613.20,277.30 613.24,276.16 613.40,274.93 613.64,273.66 613.89,272.39 614.09,271.19 614.20,270.10 614.22,269.14 614.18,268.27 614.11,267.47 614.00,266.69 613.86,265.91 613.70,265.10 613.50,264.25 613.26,263.37 612.98,262.50 612.70,261.64 612.43,260.80 612.20,260.00 611.99,259.20 611.79,258.38 611.70,257.58 611.70,256.86 611.70,256.25 611.70,255.80" fill="#A4A8E2"/>
<line x1="606.59" y1="288.40" x2="615.81" y2="288.40" stroke="#ffffff" stroke-width="0.75" stroke-linecap="butt" stroke-dasharray="1.8,0.9"/>
<line x1="605.52" y1="295.20" x2="616.88" y2="295.20" stroke="#ffffff" stroke-width="0.75" stroke-linecap="butt" stroke-dasharray="1.8,0.9"/>
<line x1="606.98" y1="306.20" x2="615.42" y2="306.20" stroke="#ffffff" stroke-width="0.75" stroke-linecap="butt" stroke-dasharray="1.8,0.9"/>
<text x="0" y="0" font-size="9.2" text-anchor="start" fill="#1c1c1c" stroke="#1c1c1c" stroke-width="0.15" transform="translate(545.90 366.70) scale(1 1.03)">WT</text>
<text x="0" y="0" transform="translate(567.80 366.70) scale(1 1.03)" font-size="9.2" text-anchor="start" fill="#D8463F" stroke="#D8463F" stroke-width="0.105" font-style="italic">LAP1<tspan font-size="5.6" dx="0.4" dy="-3.3" font-style="normal" stroke-width="0.05">-/-</tspan></text>
<text x="0" y="0" transform="translate(601.50 366.70) scale(1 1.03)" font-size="9.2" text-anchor="start" fill="#1c1c1c" stroke="#1c1c1c" stroke-width="0.105" font-style="italic">LAP1<tspan font-size="5.6" dx="0.4" dy="-3.3" font-style="normal" stroke-width="0.05">-/+</tspan></text>
<text x="0" y="0" font-size="9.2" text-anchor="start" fill="#1c1c1c" stroke="#1c1c1c" stroke-width="0.15" transform="translate(547.30 382.20) scale(1 1.03)">WT</text>
<text x="0" y="0" transform="translate(567.80 382.20) scale(1 1.03)" font-size="9.2" text-anchor="start" fill="#D8463F" stroke="#D8463F" stroke-width="0.105" font-style="italic">LAP1<tspan font-size="5.6" dx="0.4" dy="-3.3" font-style="normal" stroke-width="0.05">-/-</tspan></text>
<text x="0" y="0" transform="translate(601.50 382.20) scale(1 1.03)" font-size="9.2" text-anchor="start" fill="#1c1c1c" stroke="#1c1c1c" stroke-width="0.105" font-style="italic">LAP1<tspan font-size="5.6" dx="0.4" dy="-3.3" font-style="normal" stroke-width="0.05">-/+</tspan></text>
<path d="M557.60 384.20 V387.40 H609.50 V384.20" fill="none" stroke="#3c3c3c" stroke-width="0.95"/>
<text x="0" y="0" font-size="9.9" text-anchor="start" fill="#1c1c1c" stroke="#1c1c1c" stroke-width="0.15" transform="translate(552.90 399.80) scale(1 1.03)">Second blood</text>
<text x="0" y="0" font-size="9" text-anchor="start" fill="#1c1c1c" font-weight="bold" stroke="#1c1c1c" stroke-width="0.15" transform="translate(26.20 420.80) scale(1 1.03)">f</text>
<rect x="51.80" y="456.50" width="16.00" height="112.50" fill="#E47678"/>
<rect x="75.70" y="456.50" width="15.70" height="112.50" fill="#E47678"/>
<rect x="75.70" y="525.12" width="15.70" height="43.88" fill="#A8A8AA"/>
<rect x="99.30" y="456.50" width="15.80" height="112.50" fill="#E47678"/>
<line x1="43.40" y1="456.00" x2="43.40" y2="569.50" stroke="#3c3c3c" stroke-width="1.1" stroke-linecap="butt"/>
<line x1="39.40" y1="569.00" x2="43.40" y2="569.00" stroke="#3c3c3c" stroke-width="1.0" stroke-linecap="butt"/>
<text x="0" y="0" font-size="9.2" text-anchor="end" fill="#1c1c1c" stroke="#1c1c1c" stroke-width="0.15" transform="translate(37.20 573.00) scale(1 1.08)">0</text>
<line x1="39.40" y1="546.50" x2="43.40" y2="546.50" stroke="#3c3c3c" stroke-width="1.0" stroke-linecap="butt"/>
<text x="0" y="0" font-size="9.2" text-anchor="end" fill="#1c1c1c" stroke="#1c1c1c" stroke-width="0.15" transform="translate(37.20 550.50) scale(1 1.08)">20</text>
<line x1="39.40" y1="524.00" x2="43.40" y2="524.00" stroke="#3c3c3c" stroke-width="1.0" stroke-linecap="butt"/>
<text x="0" y="0" font-size="9.2" text-anchor="end" fill="#1c1c1c" stroke="#1c1c1c" stroke-width="0.15" transform="translate(37.20 528.00) scale(1 1.08)">40</text>
<line x1="39.40" y1="501.50" x2="43.40" y2="501.50" stroke="#3c3c3c" stroke-width="1.0" stroke-linecap="butt"/>
<text x="0" y="0" font-size="9.2" text-anchor="end" fill="#1c1c1c" stroke="#1c1c1c" stroke-width="0.15" transform="translate(37.20 505.50) scale(1 1.08)">60</text>
<line x1="39.40" y1="479.00" x2="43.40" y2="479.00" stroke="#3c3c3c" stroke-width="1.0" stroke-linecap="butt"/>
<text x="0" y="0" font-size="9.2" text-anchor="end" fill="#1c1c1c" stroke="#1c1c1c" stroke-width="0.15" transform="translate(37.20 483.00) scale(1 1.08)">80</text>
<line x1="39.40" y1="456.50" x2="43.40" y2="456.50" stroke="#3c3c3c" stroke-width="1.0" stroke-linecap="butt"/>
<text x="0" y="0" font-size="9.2" text-anchor="end" fill="#1c1c1c" stroke="#1c1c1c" stroke-width="0.15" transform="translate(37.20 460.50) scale(1 1.08)">100</text>
<line x1="42.90" y1="569.00" x2="123.50" y2="569.00" stroke="#3c3c3c" stroke-width="1.1" stroke-linecap="butt"/>
<line x1="59.00" y1="569.00" x2="59.00" y2="572.00" stroke="#3c3c3c" stroke-width="1.0" stroke-linecap="butt"/>
<line x1="83.60" y1="569.00" x2="83.60" y2="572.00" stroke="#3c3c3c" stroke-width="1.0" stroke-linecap="butt"/>
<line x1="107.20" y1="569.00" x2="107.20" y2="572.00" stroke="#3c3c3c" stroke-width="1.0" stroke-linecap="butt"/>
<text x="0" y="0" font-size="9.3" text-anchor="middle" fill="#1c1c1c" stroke="#1c1c1c" stroke-width="0.15" transform="translate(84.50 521.50) scale(1 1.03)">61%</text>
<text x="0" y="0" transform="translate(50.00 448.50) scale(1 1.03)" font-size="9.2" font-weight="bold" fill="#1c1c1c" stroke="#1c1c1c" stroke-width="0.15"><tspan font-style="italic">P</tspan> &lt; 0.0001</text>
<path d="M59.00 454.50 V451.00 H84.60 V454.50" fill="none" stroke="#3c3c3c" stroke-width="0.95"/>
<text x="0" y="0" font-size="9.4" text-anchor="middle" fill="#1c1c1c" stroke="#1c1c1c" stroke-width="0.15" transform="translate(16.70 512.80) rotate(-90) scale(1 1.03)">% hatched/total mosquitoes</text>
<text x="0" y="0" font-size="9.2" text-anchor="start" fill="#1c1c1c" stroke="#1c1c1c" stroke-width="0.15" transform="translate(46.60 585.90) scale(1 1.03)">WT</text>
<text x="0" y="0" transform="translate(67.10 585.90) scale(1 1.03)" font-size="9.2" text-anchor="start" fill="#D8463F" stroke="#D8463F" stroke-width="0.105" font-style="italic">LAP1<tspan font-size="5.6" dx="0.4" dy="-3.3" font-style="normal" stroke-width="0.05">-/-</tspan></text>
<text x="0" y="0" transform="translate(100.00 585.90) scale(1 1.03)" font-size="9.2" text-anchor="start" fill="#1c1c1c" stroke="#1c1c1c" stroke-width="0.105" font-style="italic">LAP1<tspan font-size="5.6" dx="0.4" dy="-3.3" font-style="normal" stroke-width="0.05">-/+</tspan></text>
<text x="0" y="0" font-size="9.2" text-anchor="start" fill="#1c1c1c" stroke="#1c1c1c" stroke-width="0.15" transform="translate(46.60 600.80) scale(1 1.03)">WT</text>
<text x="0" y="0" transform="translate(67.10 600.80) scale(1 1.03)" font-size="9.2" text-anchor="start" fill="#D8463F" stroke="#D8463F" stroke-width="0.105" font-style="italic">LAP1<tspan font-size="5.6" dx="0.4" dy="-3.3" font-style="normal" stroke-width="0.05">-/-</tspan></text>
<text x="0" y="0" transform="translate(100.00 600.80) scale(1 1.03)" font-size="9.2" text-anchor="start" fill="#1c1c1c" stroke="#1c1c1c" stroke-width="0.105" font-style="italic">LAP1<tspan font-size="5.6" dx="0.4" dy="-3.3" font-style="normal" stroke-width="0.05">-/+</tspan></text>
<path d="M57.60 601.80 V605.00 H110.00 V601.80" fill="none" stroke="#3c3c3c" stroke-width="0.95"/>
<text x="0" y="0" font-size="9.9" text-anchor="start" fill="#1c1c1c" stroke="#1c1c1c" stroke-width="0.15" transform="translate(62.00 615.60) scale(1 1.03)">First blood</text>
<text x="0" y="0" font-size="9" text-anchor="start" fill="#1c1c1c" font-weight="bold" stroke="#1c1c1c" stroke-width="0.15" transform="translate(192.70 420.80) scale(1 1.03)">g</text>
<rect x="208.50" y="456.70" width="15.80" height="112.50" fill="#E47678"/>
<rect x="232.20" y="456.70" width="15.80" height="112.50" fill="#E47678"/>
<rect x="232.20" y="456.70" width="15.80" height="112.50" fill="#A8A8AA"/>
<rect x="256.00" y="456.70" width="15.80" height="112.50" fill="#E47678"/>
<line x1="200.00" y1="456.20" x2="200.00" y2="569.70" stroke="#3c3c3c" stroke-width="1.1" stroke-linecap="butt"/>
<line x1="196.00" y1="569.20" x2="200.00" y2="569.20" stroke="#3c3c3c" stroke-width="1.0" stroke-linecap="butt"/>
<text x="0" y="0" font-size="9.2" text-anchor="end" fill="#1c1c1c" stroke="#1c1c1c" stroke-width="0.15" transform="translate(193.80 573.20) scale(1 1.08)">0</text>
<line x1="196.00" y1="546.70" x2="200.00" y2="546.70" stroke="#3c3c3c" stroke-width="1.0" stroke-linecap="butt"/>
<text x="0" y="0" font-size="9.2" text-anchor="end" fill="#1c1c1c" stroke="#1c1c1c" stroke-width="0.15" transform="translate(193.80 550.70) scale(1 1.08)">20</text>
<line x1="196.00" y1="524.20" x2="200.00" y2="524.20" stroke="#3c3c3c" stroke-width="1.0" stroke-linecap="butt"/>
<text x="0" y="0" font-size="9.2" text-anchor="end" fill="#1c1c1c" stroke="#1c1c1c" stroke-width="0.15" transform="translate(193.80 528.20) scale(1 1.08)">40</text>
<line x1="196.00" y1="501.70" x2="200.00" y2="501.70" stroke="#3c3c3c" stroke-width="1.0" stroke-linecap="butt"/>
<text x="0" y="0" font-size="9.2" text-anchor="end" fill="#1c1c1c" stroke="#1c1c1c" stroke-width="0.15" transform="translate(193.80 505.70) scale(1 1.08)">60</text>
<line x1="196.00" y1="479.20" x2="200.00" y2="479.20" stroke="#3c3c3c" stroke-width="1.0" stroke-linecap="butt"/>
<text x="0" y="0" font-size="9.2" text-anchor="end" fill="#1c1c1c" stroke="#1c1c1c" stroke-width="0.15" transform="translate(193.80 483.20) scale(1 1.08)">80</text>
<line x1="196.00" y1="456.70" x2="200.00" y2="456.70" stroke="#3c3c3c" stroke-width="1.0" stroke-linecap="butt"/>
<text x="0" y="0" font-size="9.2" text-anchor="end" fill="#1c1c1c" stroke="#1c1c1c" stroke-width="0.15" transform="translate(193.80 460.70) scale(1 1.08)">100</text>
<line x1="199.50" y1="569.20" x2="279.70" y2="569.20" stroke="#3c3c3c" stroke-width="1.1" stroke-linecap="butt"/>
<line x1="216.40" y1="569.20" x2="216.40" y2="572.20" stroke="#3c3c3c" stroke-width="1.0" stroke-linecap="butt"/>
<line x1="240.10" y1="569.20" x2="240.10" y2="572.20" stroke="#3c3c3c" stroke-width="1.0" stroke-linecap="butt"/>
<line x1="263.90" y1="569.20" x2="263.90" y2="572.20" stroke="#3c3c3c" stroke-width="1.0" stroke-linecap="butt"/>
<text x="0" y="0" font-size="9.3" text-anchor="middle" fill="#1c1c1c" stroke="#1c1c1c" stroke-width="0.15" transform="translate(240.50 523.00) scale(1 1.03)">0%</text>
<text x="0" y="0" transform="translate(208.00 448.50) scale(1 1.03)" font-size="9.2" font-weight="bold" fill="#1c1c1c" stroke="#1c1c1c" stroke-width="0.15"><tspan font-style="italic">P</tspan> &lt; 0.0001</text>
<path d="M216.40 454.90 V451.40 H241.00 V454.90" fill="none" stroke="#3c3c3c" stroke-width="0.95"/>
<text x="0" y="0" font-size="9.4" text-anchor="middle" fill="#1c1c1c" stroke="#1c1c1c" stroke-width="0.15" transform="translate(173.40 513.20) rotate(-90) scale(1 1.03)">% hatched/total mosquitoes</text>
<rect x="281.30" y="456.50" width="14.00" height="9.30" fill="#E47678"/>
<rect x="281.30" y="475.60" width="14.00" height="9.30" fill="#A8A8AA"/>
<text x="0" y="0" font-size="9.6" text-anchor="start" fill="#2a2a2a" stroke="#2a2a2a" stroke-width="0.15" transform="translate(297.80 465.50) scale(1 1.03)">hatched</text>
<text x="0" y="0" font-size="9.6" text-anchor="start" fill="#2a2a2a" stroke="#2a2a2a" stroke-width="0.15" transform="translate(297.80 484.40) scale(1 1.03)">unhatched</text>
<text x="0" y="0" font-size="9.2" text-anchor="start" fill="#1c1c1c" stroke="#1c1c1c" stroke-width="0.15" transform="translate(205.60 585.10) scale(1 1.03)">WT</text>
<text x="0" y="0" transform="translate(226.10 585.10) scale(1 1.03)" font-size="9.2" text-anchor="start" fill="#D8463F" stroke="#D8463F" stroke-width="0.105" font-style="italic">LAP1<tspan font-size="5.6" dx="0.4" dy="-3.3" font-style="normal" stroke-width="0.05">-/-</tspan></text>
<text x="0" y="0" transform="translate(258.90 585.10) scale(1 1.03)" font-size="9.2" text-anchor="start" fill="#1c1c1c" stroke="#1c1c1c" stroke-width="0.105" font-style="italic">LAP1<tspan font-size="5.6" dx="0.4" dy="-3.3" font-style="normal" stroke-width="0.05">-/+</tspan></text>
<text x="0" y="0" font-size="9.2" text-anchor="start" fill="#1c1c1c" stroke="#1c1c1c" stroke-width="0.15" transform="translate(205.60 600.50) scale(1 1.03)">WT</text>
<text x="0" y="0" transform="translate(226.10 600.50) scale(1 1.03)" font-size="9.2" text-anchor="start" fill="#D8463F" stroke="#D8463F" stroke-width="0.105" font-style="italic">LAP1<tspan font-size="5.6" dx="0.4" dy="-3.3" font-style="normal" stroke-width="0.05">-/-</tspan></text>
<text x="0" y="0" transform="translate(258.90 600.50) scale(1 1.03)" font-size="9.2" text-anchor="start" fill="#1c1c1c" stroke="#1c1c1c" stroke-width="0.105" font-style="italic">LAP1<tspan font-size="5.6" dx="0.4" dy="-3.3" font-style="normal" stroke-width="0.05">-/+</tspan></text>
<path d="M215.40 601.80 V605.00 H267.60 V601.80" fill="none" stroke="#3c3c3c" stroke-width="0.95"/>
<text x="0" y="0" font-size="9.9" text-anchor="start" fill="#1c1c1c" stroke="#1c1c1c" stroke-width="0.15" transform="translate(213.50 614.80) scale(1 1.03)">Second blood</text>
<text x="0" y="0" font-size="9" text-anchor="start" fill="#1c1c1c" font-weight="bold" stroke="#1c1c1c" stroke-width="0.15" transform="translate(368.60 420.80) scale(1 1.03)">h</text>
<text x="0" y="0" font-size="9.2" text-anchor="middle" fill="#1c1c1c" font-weight="bold" stroke="#1c1c1c" stroke-width="0.15" transform="translate(425.30 421.40) scale(1 1.03)">Egg deposition</text>
<rect x="387.60" y="425.80" width="84.90" height="30.80" fill="#DFDFDF"/>
<path d="M397.30 437.70 V434.90 H456.90 V437.70" fill="none" stroke="#3c3c3c" stroke-width="0.95"/>
<polygon points="421.50,428.75 422.06,429.98 423.40,430.13 422.40,431.04 422.68,432.37 421.50,431.70 420.32,432.37 420.60,431.04 419.60,430.13 420.94,429.98" fill="#222" stroke="#222" stroke-width="0.35" stroke-linejoin="round"/>
<polygon points="426.10,428.75 426.66,429.98 428.00,430.13 427.00,431.04 427.28,432.37 426.10,431.70 424.92,432.37 425.20,431.04 424.20,430.13 425.54,429.98" fill="#222" stroke="#222" stroke-width="0.35" stroke-linejoin="round"/>
<polygon points="430.70,428.75 431.26,429.98 432.60,430.13 431.60,431.04 431.88,432.37 430.70,431.70 429.52,432.37 429.80,431.04 428.80,430.13 430.14,429.98" fill="#222" stroke="#222" stroke-width="0.35" stroke-linejoin="round"/>
<path d="M397.30 446.60 V443.70 H426.10 V446.60" fill="none" stroke="#3c3c3c" stroke-width="0.95"/>
<path d="M428.30 446.60 V443.70 H456.90 V446.60" fill="none" stroke="#3c3c3c" stroke-width="0.95"/>
<polygon points="409.10,438.75 409.66,439.98 411.00,440.13 410.00,441.04 410.28,442.37 409.10,441.70 407.92,442.37 408.20,441.04 407.20,440.13 408.54,439.98" fill="#222" stroke="#222" stroke-width="0.35" stroke-linejoin="round"/>
<polygon points="413.70,438.75 414.26,439.98 415.60,440.13 414.60,441.04 414.88,442.37 413.70,441.70 412.52,442.37 412.80,441.04 411.80,440.13 413.14,439.98" fill="#222" stroke="#222" stroke-width="0.35" stroke-linejoin="round"/>
<polygon points="418.30,438.75 418.86,439.98 420.20,440.13 419.20,441.04 419.48,442.37 418.30,441.70 417.12,442.37 417.40,441.04 416.40,440.13 417.74,439.98" fill="#222" stroke="#222" stroke-width="0.35" stroke-linejoin="round"/>
<text x="0" y="0" font-size="9.4" text-anchor="middle" fill="#1c1c1c" stroke="#1c1c1c" stroke-width="0.15" transform="translate(443.00 442.00) scale(1 1.03)">ns</text>
<text x="0" y="0" font-size="9.2" text-anchor="middle" fill="#1c1c1c" stroke="#1c1c1c" stroke-width="0.15" transform="translate(396.80 454.70) scale(1 1.03)">62</text>
<text x="0" y="0" font-size="9.2" text-anchor="middle" fill="#1c1c1c" stroke="#1c1c1c" stroke-width="0.15" transform="translate(425.70 454.70) scale(1 1.03)">74</text>
<text x="0" y="0" font-size="9.2" text-anchor="middle" fill="#1c1c1c" stroke="#1c1c1c" stroke-width="0.15" transform="translate(453.90 454.70) scale(1 1.03)">89</text>
<line x1="385.90" y1="454.80" x2="385.90" y2="569.20" stroke="#3c3c3c" stroke-width="1.1" stroke-linecap="butt"/>
<line x1="381.90" y1="568.70" x2="385.90" y2="568.70" stroke="#3c3c3c" stroke-width="1.0" stroke-linecap="butt"/>
<text x="0" y="0" font-size="9.2" text-anchor="end" fill="#1c1c1c" stroke="#1c1c1c" stroke-width="0.15" transform="translate(379.70 572.70) scale(1 1.08)">0</text>
<line x1="381.90" y1="540.35" x2="385.90" y2="540.35" stroke="#3c3c3c" stroke-width="1.0" stroke-linecap="butt"/>
<text x="0" y="0" font-size="9.2" text-anchor="end" fill="#1c1c1c" stroke="#1c1c1c" stroke-width="0.15" transform="translate(379.70 544.35) scale(1 1.08)">40</text>
<line x1="381.90" y1="512.00" x2="385.90" y2="512.00" stroke="#3c3c3c" stroke-width="1.0" stroke-linecap="butt"/>
<text x="0" y="0" font-size="9.2" text-anchor="end" fill="#1c1c1c" stroke="#1c1c1c" stroke-width="0.15" transform="translate(379.70 516.00) scale(1 1.08)">80</text>
<line x1="381.90" y1="483.65" x2="385.90" y2="483.65" stroke="#3c3c3c" stroke-width="1.0" stroke-linecap="butt"/>
<text x="0" y="0" font-size="9.2" text-anchor="end" fill="#1c1c1c" stroke="#1c1c1c" stroke-width="0.15" transform="translate(379.70 487.65) scale(1 1.08)">120</text>
<line x1="381.90" y1="455.30" x2="385.90" y2="455.30" stroke="#3c3c3c" stroke-width="1.0" stroke-linecap="butt"/>
<text x="0" y="0" font-size="9.2" text-anchor="end" fill="#1c1c1c" stroke="#1c1c1c" stroke-width="0.15" transform="translate(379.70 459.30) scale(1 1.08)">160</text>
<line x1="385.40" y1="568.70" x2="468.00" y2="568.70" stroke="#3c3c3c" stroke-width="1.1" stroke-linecap="butt"/>
<line x1="397.80" y1="568.70" x2="397.80" y2="571.70" stroke="#3c3c3c" stroke-width="1.0" stroke-linecap="butt"/>
<line x1="426.70" y1="568.70" x2="426.70" y2="571.70" stroke="#3c3c3c" stroke-width="1.0" stroke-linecap="butt"/>
<line x1="455.70" y1="568.70" x2="455.70" y2="571.70" stroke="#3c3c3c" stroke-width="1.0" stroke-linecap="butt"/>
<text x="0" y="0" font-size="9.3" text-anchor="middle" fill="#1c1c1c" stroke="#1c1c1c" stroke-width="0.15" transform="translate(359.10 515.00) rotate(-90) scale(1 1.03)">Egg numbers</text>
<circle cx="397.80" cy="513.18" r="1.15" fill="#7A9E2A"/>
<circle cx="395.50" cy="512.49" r="1.15" fill="#7A9E2A"/>
<circle cx="397.80" cy="511.30" r="1.15" fill="#7A9E2A"/>
<circle cx="397.80" cy="509.32" r="1.15" fill="#7A9E2A"/>
<circle cx="395.50" cy="509.14" r="1.15" fill="#7A9E2A"/>
<circle cx="397.80" cy="507.30" r="1.15" fill="#7A9E2A"/>
<circle cx="395.50" cy="506.51" r="1.15" fill="#7A9E2A"/>
<circle cx="400.10" cy="505.99" r="1.15" fill="#7A9E2A"/>
<circle cx="397.80" cy="504.55" r="1.15" fill="#7A9E2A"/>
<circle cx="395.50" cy="504.32" r="1.15" fill="#7A9E2A"/>
<circle cx="400.10" cy="503.04" r="1.15" fill="#7A9E2A"/>
<circle cx="397.80" cy="503.00" r="1.15" fill="#7A9E2A"/>
<circle cx="395.50" cy="502.62" r="1.15" fill="#7A9E2A"/>
<circle cx="397.80" cy="501.17" r="1.15" fill="#7A9E2A"/>
<circle cx="395.50" cy="500.99" r="1.15" fill="#7A9E2A"/>
<circle cx="400.10" cy="500.61" r="1.15" fill="#7A9E2A"/>
<circle cx="393.20" cy="500.59" r="1.15" fill="#7A9E2A"/>
<circle cx="402.40" cy="500.53" r="1.15" fill="#7A9E2A"/>
<circle cx="397.80" cy="499.19" r="1.15" fill="#7A9E2A"/>
<circle cx="395.50" cy="499.06" r="1.15" fill="#7A9E2A"/>
<circle cx="400.10" cy="498.42" r="1.15" fill="#7A9E2A"/>
<circle cx="397.80" cy="497.63" r="1.15" fill="#7A9E2A"/>
<circle cx="395.50" cy="497.01" r="1.15" fill="#7A9E2A"/>
<circle cx="400.10" cy="496.31" r="1.15" fill="#7A9E2A"/>
<circle cx="397.80" cy="495.26" r="1.15" fill="#7A9E2A"/>
<circle cx="395.50" cy="494.60" r="1.15" fill="#7A9E2A"/>
<circle cx="397.80" cy="491.94" r="1.15" fill="#7A9E2A"/>
<circle cx="397.80" cy="489.32" r="1.15" fill="#7A9E2A"/>
<circle cx="395.50" cy="489.18" r="1.15" fill="#7A9E2A"/>
<circle cx="400.10" cy="488.77" r="1.15" fill="#7A9E2A"/>
<circle cx="393.20" cy="488.76" r="1.15" fill="#7A9E2A"/>
<circle cx="402.40" cy="488.34" r="1.15" fill="#7A9E2A"/>
<circle cx="390.90" cy="488.24" r="1.15" fill="#7A9E2A"/>
<circle cx="397.80" cy="487.74" r="1.15" fill="#7A9E2A"/>
<circle cx="395.50" cy="487.43" r="1.15" fill="#7A9E2A"/>
<circle cx="400.10" cy="486.59" r="1.15" fill="#7A9E2A"/>
<circle cx="397.80" cy="485.57" r="1.15" fill="#7A9E2A"/>
<circle cx="395.50" cy="485.15" r="1.15" fill="#7A9E2A"/>
<circle cx="400.10" cy="484.31" r="1.15" fill="#7A9E2A"/>
<circle cx="397.80" cy="482.99" r="1.15" fill="#7A9E2A"/>
<circle cx="397.80" cy="480.83" r="1.15" fill="#7A9E2A"/>
<circle cx="395.50" cy="480.39" r="1.15" fill="#7A9E2A"/>
<circle cx="400.10" cy="480.15" r="1.15" fill="#7A9E2A"/>
<circle cx="393.20" cy="479.95" r="1.15" fill="#7A9E2A"/>
<circle cx="402.40" cy="479.80" r="1.15" fill="#7A9E2A"/>
<circle cx="397.80" cy="477.79" r="1.15" fill="#7A9E2A"/>
<circle cx="395.50" cy="477.56" r="1.15" fill="#7A9E2A"/>
<circle cx="400.10" cy="477.39" r="1.15" fill="#7A9E2A"/>
<circle cx="393.20" cy="476.75" r="1.15" fill="#7A9E2A"/>
<circle cx="402.40" cy="476.41" r="1.15" fill="#7A9E2A"/>
<circle cx="397.80" cy="476.23" r="1.15" fill="#7A9E2A"/>
<circle cx="395.50" cy="475.30" r="1.15" fill="#7A9E2A"/>
<circle cx="400.10" cy="474.86" r="1.15" fill="#7A9E2A"/>
<circle cx="393.20" cy="474.69" r="1.15" fill="#7A9E2A"/>
<circle cx="397.80" cy="472.61" r="1.15" fill="#7A9E2A"/>
<circle cx="395.50" cy="472.22" r="1.15" fill="#7A9E2A"/>
<circle cx="400.10" cy="471.07" r="1.15" fill="#7A9E2A"/>
<circle cx="397.80" cy="469.51" r="1.15" fill="#7A9E2A"/>
<circle cx="395.50" cy="468.47" r="1.15" fill="#7A9E2A"/>
<circle cx="397.80" cy="467.81" r="1.15" fill="#7A9E2A"/>
<circle cx="400.10" cy="467.19" r="1.15" fill="#7A9E2A"/>
<circle cx="393.20" cy="467.17" r="1.15" fill="#7A9E2A"/>
<line x1="390.30" y1="485.78" x2="405.30" y2="485.78" stroke="#4a4a4a" stroke-width="1.0" stroke-linecap="butt"/>
<line x1="394.80" y1="483.58" x2="400.80" y2="483.58" stroke="#4a4a4a" stroke-width="0.8" stroke-linecap="butt"/>
<line x1="394.80" y1="487.98" x2="400.80" y2="487.98" stroke="#4a4a4a" stroke-width="0.8" stroke-linecap="butt"/>
<line x1="397.80" y1="483.58" x2="397.80" y2="487.98" stroke="#4a4a4a" stroke-width="0.8" stroke-linecap="butt"/>
<circle cx="426.70" cy="538.44" r="1.15" fill="#F2B01C"/>
<circle cx="426.70" cy="535.06" r="1.15" fill="#F2B01C"/>
<circle cx="426.70" cy="527.97" r="1.15" fill="#F2B01C"/>
<circle cx="424.40" cy="527.35" r="1.15" fill="#F2B01C"/>
<circle cx="429.00" cy="526.58" r="1.15" fill="#F2B01C"/>
<circle cx="426.70" cy="525.67" r="1.15" fill="#F2B01C"/>
<circle cx="424.40" cy="525.43" r="1.15" fill="#F2B01C"/>
<circle cx="422.10" cy="525.15" r="1.15" fill="#F2B01C"/>
<circle cx="426.70" cy="521.30" r="1.15" fill="#F2B01C"/>
<circle cx="424.40" cy="520.88" r="1.15" fill="#F2B01C"/>
<circle cx="429.00" cy="520.36" r="1.15" fill="#F2B01C"/>
<circle cx="426.70" cy="519.70" r="1.15" fill="#F2B01C"/>
<circle cx="426.70" cy="516.63" r="1.15" fill="#F2B01C"/>
<circle cx="426.70" cy="512.88" r="1.15" fill="#F2B01C"/>
<circle cx="424.40" cy="511.58" r="1.15" fill="#F2B01C"/>
<circle cx="426.70" cy="509.85" r="1.15" fill="#F2B01C"/>
<circle cx="426.70" cy="507.74" r="1.15" fill="#F2B01C"/>
<circle cx="424.40" cy="507.63" r="1.15" fill="#F2B01C"/>
<circle cx="429.00" cy="507.06" r="1.15" fill="#F2B01C"/>
<circle cx="422.10" cy="507.00" r="1.15" fill="#F2B01C"/>
<circle cx="426.70" cy="505.82" r="1.15" fill="#F2B01C"/>
<circle cx="424.40" cy="504.78" r="1.15" fill="#F2B01C"/>
<circle cx="429.00" cy="504.76" r="1.15" fill="#F2B01C"/>
<circle cx="426.70" cy="500.76" r="1.15" fill="#F2B01C"/>
<circle cx="424.40" cy="500.18" r="1.15" fill="#F2B01C"/>
<circle cx="429.00" cy="500.04" r="1.15" fill="#F2B01C"/>
<circle cx="422.10" cy="499.85" r="1.15" fill="#F2B01C"/>
<circle cx="426.70" cy="497.35" r="1.15" fill="#F2B01C"/>
<circle cx="424.40" cy="497.28" r="1.15" fill="#F2B01C"/>
<circle cx="429.00" cy="496.69" r="1.15" fill="#F2B01C"/>
<circle cx="426.70" cy="493.61" r="1.15" fill="#F2B01C"/>
<circle cx="424.40" cy="493.57" r="1.15" fill="#F2B01C"/>
<circle cx="429.00" cy="493.06" r="1.15" fill="#F2B01C"/>
<circle cx="422.10" cy="492.96" r="1.15" fill="#F2B01C"/>
<circle cx="431.30" cy="492.55" r="1.15" fill="#F2B01C"/>
<circle cx="419.80" cy="492.11" r="1.15" fill="#F2B01C"/>
<circle cx="426.70" cy="492.03" r="1.15" fill="#F2B01C"/>
<circle cx="424.40" cy="491.50" r="1.15" fill="#F2B01C"/>
<circle cx="429.00" cy="490.56" r="1.15" fill="#F2B01C"/>
<circle cx="426.70" cy="489.90" r="1.15" fill="#F2B01C"/>
<circle cx="424.40" cy="489.21" r="1.15" fill="#F2B01C"/>
<circle cx="426.70" cy="488.29" r="1.15" fill="#F2B01C"/>
<circle cx="429.00" cy="488.25" r="1.15" fill="#F2B01C"/>
<circle cx="422.10" cy="488.24" r="1.15" fill="#F2B01C"/>
<circle cx="431.30" cy="487.77" r="1.15" fill="#F2B01C"/>
<circle cx="426.70" cy="486.61" r="1.15" fill="#F2B01C"/>
<circle cx="424.40" cy="486.57" r="1.15" fill="#F2B01C"/>
<circle cx="429.00" cy="485.48" r="1.15" fill="#F2B01C"/>
<circle cx="422.10" cy="485.31" r="1.15" fill="#F2B01C"/>
<circle cx="431.30" cy="485.21" r="1.15" fill="#F2B01C"/>
<circle cx="426.70" cy="484.23" r="1.15" fill="#F2B01C"/>
<circle cx="426.70" cy="482.51" r="1.15" fill="#F2B01C"/>
<circle cx="424.40" cy="481.54" r="1.15" fill="#F2B01C"/>
<circle cx="429.00" cy="481.31" r="1.15" fill="#F2B01C"/>
<circle cx="426.70" cy="480.05" r="1.15" fill="#F2B01C"/>
<circle cx="424.40" cy="479.78" r="1.15" fill="#F2B01C"/>
<circle cx="429.00" cy="479.18" r="1.15" fill="#F2B01C"/>
<circle cx="422.10" cy="478.97" r="1.15" fill="#F2B01C"/>
<circle cx="431.30" cy="478.97" r="1.15" fill="#F2B01C"/>
<circle cx="419.80" cy="478.71" r="1.15" fill="#F2B01C"/>
<circle cx="426.70" cy="477.30" r="1.15" fill="#F2B01C"/>
<circle cx="424.40" cy="476.77" r="1.15" fill="#F2B01C"/>
<circle cx="426.70" cy="475.42" r="1.15" fill="#F2B01C"/>
<circle cx="424.40" cy="474.72" r="1.15" fill="#F2B01C"/>
<circle cx="429.00" cy="474.25" r="1.15" fill="#F2B01C"/>
<circle cx="426.70" cy="472.87" r="1.15" fill="#F2B01C"/>
<circle cx="424.40" cy="472.74" r="1.15" fill="#F2B01C"/>
<circle cx="429.00" cy="472.70" r="1.15" fill="#F2B01C"/>
<circle cx="422.10" cy="472.66" r="1.15" fill="#F2B01C"/>
<circle cx="431.30" cy="472.41" r="1.15" fill="#F2B01C"/>
<circle cx="426.70" cy="470.78" r="1.15" fill="#F2B01C"/>
<circle cx="424.40" cy="470.14" r="1.15" fill="#F2B01C"/>
<circle cx="426.70" cy="468.99" r="1.15" fill="#F2B01C"/>
<circle cx="426.70" cy="453.88" r="1.15" fill="#F2B01C"/>
<line x1="419.20" y1="497.33" x2="434.20" y2="497.33" stroke="#4a4a4a" stroke-width="1.0" stroke-linecap="butt"/>
<line x1="423.70" y1="495.13" x2="429.70" y2="495.13" stroke="#4a4a4a" stroke-width="0.8" stroke-linecap="butt"/>
<line x1="423.70" y1="499.53" x2="429.70" y2="499.53" stroke="#4a4a4a" stroke-width="0.8" stroke-linecap="butt"/>
<line x1="426.70" y1="495.13" x2="426.70" y2="499.53" stroke="#4a4a4a" stroke-width="0.8" stroke-linecap="butt"/>
<circle cx="455.70" cy="533.89" r="1.15" fill="#8FB0E0"/>
<circle cx="453.40" cy="533.66" r="1.15" fill="#8FB0E0"/>
<circle cx="455.70" cy="532.05" r="1.15" fill="#8FB0E0"/>
<circle cx="455.70" cy="526.67" r="1.15" fill="#8FB0E0"/>
<circle cx="455.70" cy="524.96" r="1.15" fill="#8FB0E0"/>
<circle cx="453.40" cy="524.67" r="1.15" fill="#8FB0E0"/>
<circle cx="458.00" cy="524.57" r="1.15" fill="#8FB0E0"/>
<circle cx="455.70" cy="522.28" r="1.15" fill="#8FB0E0"/>
<circle cx="453.40" cy="520.96" r="1.15" fill="#8FB0E0"/>
<circle cx="455.70" cy="520.28" r="1.15" fill="#8FB0E0"/>
<circle cx="455.70" cy="517.78" r="1.15" fill="#8FB0E0"/>
<circle cx="453.40" cy="517.69" r="1.15" fill="#8FB0E0"/>
<circle cx="455.70" cy="516.05" r="1.15" fill="#8FB0E0"/>
<circle cx="455.70" cy="513.27" r="1.15" fill="#8FB0E0"/>
<circle cx="455.70" cy="510.71" r="1.15" fill="#8FB0E0"/>
<circle cx="453.40" cy="510.58" r="1.15" fill="#8FB0E0"/>
<circle cx="458.00" cy="509.76" r="1.15" fill="#8FB0E0"/>
<circle cx="451.10" cy="509.53" r="1.15" fill="#8FB0E0"/>
<circle cx="460.30" cy="509.45" r="1.15" fill="#8FB0E0"/>
<circle cx="455.70" cy="508.99" r="1.15" fill="#8FB0E0"/>
<circle cx="453.40" cy="508.18" r="1.15" fill="#8FB0E0"/>
<circle cx="455.70" cy="507.13" r="1.15" fill="#8FB0E0"/>
<circle cx="458.00" cy="506.87" r="1.15" fill="#8FB0E0"/>
<circle cx="453.40" cy="506.57" r="1.15" fill="#8FB0E0"/>
<circle cx="451.10" cy="506.46" r="1.15" fill="#8FB0E0"/>
<circle cx="460.30" cy="506.43" r="1.15" fill="#8FB0E0"/>
<circle cx="448.80" cy="506.27" r="1.15" fill="#8FB0E0"/>
<circle cx="462.60" cy="506.15" r="1.15" fill="#8FB0E0"/>
<circle cx="462.60" cy="505.67" r="1.15" fill="#8FB0E0"/>
<circle cx="455.70" cy="505.51" r="1.15" fill="#8FB0E0"/>
<circle cx="458.00" cy="505.33" r="1.15" fill="#8FB0E0"/>
<circle cx="462.60" cy="505.03" r="1.15" fill="#8FB0E0"/>
<circle cx="453.40" cy="504.89" r="1.15" fill="#8FB0E0"/>
<circle cx="451.10" cy="504.15" r="1.15" fill="#8FB0E0"/>
<circle cx="455.70" cy="503.93" r="1.15" fill="#8FB0E0"/>
<circle cx="460.30" cy="503.92" r="1.15" fill="#8FB0E0"/>
<circle cx="458.00" cy="503.63" r="1.15" fill="#8FB0E0"/>
<circle cx="448.80" cy="503.47" r="1.15" fill="#8FB0E0"/>
<circle cx="453.40" cy="503.29" r="1.15" fill="#8FB0E0"/>
<circle cx="462.60" cy="503.13" r="1.15" fill="#8FB0E0"/>
<circle cx="455.70" cy="501.96" r="1.15" fill="#8FB0E0"/>
<circle cx="453.40" cy="501.44" r="1.15" fill="#8FB0E0"/>
<circle cx="455.70" cy="499.52" r="1.15" fill="#8FB0E0"/>
<circle cx="453.40" cy="499.38" r="1.15" fill="#8FB0E0"/>
<circle cx="458.00" cy="498.60" r="1.15" fill="#8FB0E0"/>
<circle cx="451.10" cy="498.60" r="1.15" fill="#8FB0E0"/>
<circle cx="455.70" cy="497.02" r="1.15" fill="#8FB0E0"/>
<circle cx="453.40" cy="496.95" r="1.15" fill="#8FB0E0"/>
<circle cx="455.70" cy="495.28" r="1.15" fill="#8FB0E0"/>
<circle cx="453.40" cy="495.00" r="1.15" fill="#8FB0E0"/>
<circle cx="458.00" cy="494.07" r="1.15" fill="#8FB0E0"/>
<circle cx="451.10" cy="493.86" r="1.15" fill="#8FB0E0"/>
<circle cx="455.70" cy="493.23" r="1.15" fill="#8FB0E0"/>
<circle cx="453.40" cy="493.16" r="1.15" fill="#8FB0E0"/>
<circle cx="460.30" cy="493.09" r="1.15" fill="#8FB0E0"/>
<circle cx="458.00" cy="492.27" r="1.15" fill="#8FB0E0"/>
<circle cx="451.10" cy="491.86" r="1.15" fill="#8FB0E0"/>
<circle cx="448.80" cy="491.78" r="1.15" fill="#8FB0E0"/>
<circle cx="455.70" cy="491.42" r="1.15" fill="#8FB0E0"/>
<circle cx="453.40" cy="490.58" r="1.15" fill="#8FB0E0"/>
<circle cx="455.70" cy="489.59" r="1.15" fill="#8FB0E0"/>
<circle cx="458.00" cy="489.23" r="1.15" fill="#8FB0E0"/>
<circle cx="453.40" cy="488.25" r="1.15" fill="#8FB0E0"/>
<circle cx="455.70" cy="487.35" r="1.15" fill="#8FB0E0"/>
<circle cx="458.00" cy="487.06" r="1.15" fill="#8FB0E0"/>
<circle cx="451.10" cy="487.05" r="1.15" fill="#8FB0E0"/>
<circle cx="460.30" cy="486.93" r="1.15" fill="#8FB0E0"/>
<circle cx="453.40" cy="486.58" r="1.15" fill="#8FB0E0"/>
<circle cx="448.80" cy="486.48" r="1.15" fill="#8FB0E0"/>
<circle cx="462.60" cy="485.84" r="1.15" fill="#8FB0E0"/>
<circle cx="455.70" cy="485.73" r="1.15" fill="#8FB0E0"/>
<circle cx="458.00" cy="485.41" r="1.15" fill="#8FB0E0"/>
<circle cx="455.70" cy="484.13" r="1.15" fill="#8FB0E0"/>
<circle cx="453.40" cy="483.78" r="1.15" fill="#8FB0E0"/>
<circle cx="458.00" cy="483.10" r="1.15" fill="#8FB0E0"/>
<circle cx="455.70" cy="480.72" r="1.15" fill="#8FB0E0"/>
<circle cx="453.40" cy="480.61" r="1.15" fill="#8FB0E0"/>
<circle cx="455.70" cy="479.10" r="1.15" fill="#8FB0E0"/>
<circle cx="453.40" cy="477.79" r="1.15" fill="#8FB0E0"/>
<circle cx="455.70" cy="477.38" r="1.15" fill="#8FB0E0"/>
<circle cx="453.40" cy="476.12" r="1.15" fill="#8FB0E0"/>
<circle cx="455.70" cy="475.50" r="1.15" fill="#8FB0E0"/>
<circle cx="458.00" cy="474.72" r="1.15" fill="#8FB0E0"/>
<circle cx="451.10" cy="474.59" r="1.15" fill="#8FB0E0"/>
<circle cx="455.70" cy="473.14" r="1.15" fill="#8FB0E0"/>
<circle cx="455.70" cy="471.41" r="1.15" fill="#8FB0E0"/>
<circle cx="455.70" cy="469.03" r="1.15" fill="#8FB0E0"/>
<circle cx="453.40" cy="468.50" r="1.15" fill="#8FB0E0"/>
<circle cx="458.00" cy="467.55" r="1.15" fill="#8FB0E0"/>
<line x1="448.20" y1="502.29" x2="463.20" y2="502.29" stroke="#4a4a4a" stroke-width="1.0" stroke-linecap="butt"/>
<line x1="452.70" y1="500.09" x2="458.70" y2="500.09" stroke="#4a4a4a" stroke-width="0.8" stroke-linecap="butt"/>
<line x1="452.70" y1="504.49" x2="458.70" y2="504.49" stroke="#4a4a4a" stroke-width="0.8" stroke-linecap="butt"/>
<line x1="455.70" y1="500.09" x2="455.70" y2="504.49" stroke="#4a4a4a" stroke-width="0.8" stroke-linecap="butt"/>
<text x="0" y="0" font-size="9.2" text-anchor="end" fill="#2a2a2a" stroke="#2a2a2a" stroke-width="0.15" transform="translate(369.00 582.20) scale(1 1.03)">male</text>
<text x="0" y="0" font-size="9.2" text-anchor="end" fill="#2a2a2a" stroke="#2a2a2a" stroke-width="0.15" transform="translate(369.00 598.40) scale(1 1.03)">female</text>
<circle cx="374.80" cy="579.70" r="2.5" fill="none" stroke="#9a9a9a" stroke-width="0.7"/>
<path d="M376.60 577.90 L379.55 574.95 M377.35 575.05 L379.55 574.95 L379.45 577.15" fill="none" stroke="#9a9a9a" stroke-width="0.7"/>
<circle cx="374.80" cy="593.60" r="2.5" fill="none" stroke="#9a9a9a" stroke-width="0.7"/>
<path d="M374.80 596.10 V599.70 M372.80 598.00 H376.80" fill="none" stroke="#9a9a9a" stroke-width="0.8"/>
<text x="0" y="0" font-size="9.2" text-anchor="start" fill="#1c1c1c" stroke="#1c1c1c" stroke-width="0.15" transform="translate(389.50 585.60) scale(1 1.03)">WT</text>
<text x="0" y="0" transform="translate(413.60 585.60) scale(1 1.03)" font-size="9.2" text-anchor="start" fill="#D8463F" stroke="#D8463F" stroke-width="0.105" font-style="italic">LAP1<tspan font-size="5.6" dx="0.4" dy="-3.3" font-style="normal" stroke-width="0.05">-/-</tspan></text>
<text x="0" y="0" font-size="9.2" text-anchor="start" fill="#1c1c1c" stroke="#1c1c1c" stroke-width="0.15" transform="translate(449.60 585.60) scale(1 1.03)">WT</text>
<text x="0" y="0" font-size="9.2" text-anchor="start" fill="#1c1c1c" stroke="#1c1c1c" stroke-width="0.15" transform="translate(389.90 600.90) scale(1 1.03)">WT</text>
<text x="0" y="0" font-size="9.2" text-anchor="start" fill="#1c1c1c" stroke="#1c1c1c" stroke-width="0.15" transform="translate(419.40 597.90) scale(1 1.03)">WT</text>
<text x="0" y="0" transform="translate(442.60 601.50) scale(1 1.03)" font-size="9.2" text-anchor="start" fill="#D8463F" stroke="#D8463F" stroke-width="0.105" font-style="italic">LAP1<tspan font-size="5.6" dx="0.4" dy="-3.3" font-style="normal" stroke-width="0.05">-/-</tspan></text>
<path d="M401.30 601.90 V605.10 H447.90 V601.90" fill="none" stroke="#3c3c3c" stroke-width="0.95"/>
<text x="0" y="0" font-size="9.9" text-anchor="start" fill="#1c1c1c" stroke="#1c1c1c" stroke-width="0.15" transform="translate(401.80 615.00) scale(1 1.03)">First blood</text>
<text x="0" y="0" font-size="9" text-anchor="start" fill="#1c1c1c" font-weight="bold" stroke="#1c1c1c" stroke-width="0.15" transform="translate(537.10 421.00) scale(1 1.03)">i</text>
<text x="0" y="0" font-size="9.2" text-anchor="middle" fill="#1c1c1c" font-weight="bold" stroke="#1c1c1c" stroke-width="0.15" transform="translate(584.40 421.40) scale(1 1.03)">Egg deposition</text>
<rect x="542.90" y="426.10" width="84.90" height="30.50" fill="#DFDFDF"/>
<path d="M552.30 437.70 V434.90 H614.60 V437.70" fill="none" stroke="#3c3c3c" stroke-width="0.95"/>
<polygon points="577.40,428.75 577.96,429.98 579.30,430.13 578.30,431.04 578.58,432.37 577.40,431.70 576.22,432.37 576.50,431.04 575.50,430.13 576.84,429.98" fill="#222" stroke="#222" stroke-width="0.35" stroke-linejoin="round"/>
<polygon points="582.00,428.75 582.56,429.98 583.90,430.13 582.90,431.04 583.18,432.37 582.00,431.70 580.82,432.37 581.10,431.04 580.10,430.13 581.44,429.98" fill="#222" stroke="#222" stroke-width="0.35" stroke-linejoin="round"/>
<polygon points="586.60,428.75 587.16,429.98 588.50,430.13 587.50,431.04 587.78,432.37 586.60,431.70 585.42,432.37 585.70,431.04 584.70,430.13 586.04,429.98" fill="#222" stroke="#222" stroke-width="0.35" stroke-linejoin="round"/>
<path d="M552.30 446.60 V443.70 H581.20 V446.60" fill="none" stroke="#3c3c3c" stroke-width="0.95"/>
<path d="M585.30 446.60 V443.70 H614.60 V446.60" fill="none" stroke="#3c3c3c" stroke-width="0.95"/>
<text x="0" y="0" font-size="9.4" text-anchor="middle" fill="#1c1c1c" stroke="#1c1c1c" stroke-width="0.15" transform="translate(566.60 442.00) scale(1 1.03)">ns</text>
<polygon points="596.40,438.75 596.96,439.98 598.30,440.13 597.30,441.04 597.58,442.37 596.40,441.70 595.22,442.37 595.50,441.04 594.50,440.13 595.84,439.98" fill="#222" stroke="#222" stroke-width="0.35" stroke-linejoin="round"/>
<polygon points="601.00,438.75 601.56,439.98 602.90,440.13 601.90,441.04 602.18,442.37 601.00,441.70 599.82,442.37 600.10,441.04 599.10,440.13 600.44,439.98" fill="#222" stroke="#222" stroke-width="0.35" stroke-linejoin="round"/>
<polygon points="605.60,438.75 606.16,439.98 607.50,440.13 606.50,441.04 606.78,442.37 605.60,441.70 604.42,442.37 604.70,441.04 603.70,440.13 605.04,439.98" fill="#222" stroke="#222" stroke-width="0.35" stroke-linejoin="round"/>
<text x="0" y="0" font-size="9.2" text-anchor="middle" fill="#1c1c1c" stroke="#1c1c1c" stroke-width="0.15" transform="translate(554.20 454.70) scale(1 1.03)">54</text>
<text x="0" y="0" font-size="9.2" text-anchor="middle" fill="#1c1c1c" stroke="#1c1c1c" stroke-width="0.15" transform="translate(582.40 454.70) scale(1 1.03)">62</text>
<text x="0" y="0" font-size="9.2" text-anchor="middle" fill="#1c1c1c" stroke="#1c1c1c" stroke-width="0.15" transform="translate(612.70 454.70) scale(1 1.03)">60</text>
<line x1="542.90" y1="454.40" x2="542.90" y2="568.80" stroke="#3c3c3c" stroke-width="1.1" stroke-linecap="butt"/>
<line x1="538.90" y1="568.30" x2="542.90" y2="568.30" stroke="#3c3c3c" stroke-width="1.0" stroke-linecap="butt"/>
<text x="0" y="0" font-size="9.2" text-anchor="end" fill="#1c1c1c" stroke="#1c1c1c" stroke-width="0.15" transform="translate(536.70 572.30) scale(1 1.08)">0</text>
<line x1="538.90" y1="539.95" x2="542.90" y2="539.95" stroke="#3c3c3c" stroke-width="1.0" stroke-linecap="butt"/>
<text x="0" y="0" font-size="9.2" text-anchor="end" fill="#1c1c1c" stroke="#1c1c1c" stroke-width="0.15" transform="translate(536.70 543.95) scale(1 1.08)">40</text>
<line x1="538.90" y1="511.60" x2="542.90" y2="511.60" stroke="#3c3c3c" stroke-width="1.0" stroke-linecap="butt"/>
<text x="0" y="0" font-size="9.2" text-anchor="end" fill="#1c1c1c" stroke="#1c1c1c" stroke-width="0.15" transform="translate(536.70 515.60) scale(1 1.08)">80</text>
<line x1="538.90" y1="483.25" x2="542.90" y2="483.25" stroke="#3c3c3c" stroke-width="1.0" stroke-linecap="butt"/>
<text x="0" y="0" font-size="9.2" text-anchor="end" fill="#1c1c1c" stroke="#1c1c1c" stroke-width="0.15" transform="translate(536.70 487.25) scale(1 1.08)">120</text>
<line x1="538.90" y1="454.90" x2="542.90" y2="454.90" stroke="#3c3c3c" stroke-width="1.0" stroke-linecap="butt"/>
<text x="0" y="0" font-size="9.2" text-anchor="end" fill="#1c1c1c" stroke="#1c1c1c" stroke-width="0.15" transform="translate(536.70 458.90) scale(1 1.08)">160</text>
<line x1="542.40" y1="568.30" x2="626.00" y2="568.30" stroke="#3c3c3c" stroke-width="1.1" stroke-linecap="butt"/>
<line x1="556.00" y1="568.30" x2="556.00" y2="571.30" stroke="#3c3c3c" stroke-width="1.0" stroke-linecap="butt"/>
<line x1="584.00" y1="568.30" x2="584.00" y2="571.30" stroke="#3c3c3c" stroke-width="1.0" stroke-linecap="butt"/>
<line x1="612.00" y1="568.30" x2="612.00" y2="571.30" stroke="#3c3c3c" stroke-width="1.0" stroke-linecap="butt"/>
<text x="0" y="0" font-size="9.3" text-anchor="middle" fill="#1c1c1c" stroke="#1c1c1c" stroke-width="0.15" transform="translate(516.10 514.40) rotate(-90) scale(1 1.03)">Egg numbers</text>
<circle cx="556.90" cy="509.65" r="1.15" fill="#7A9E2A"/>
<circle cx="556.90" cy="506.08" r="1.15" fill="#7A9E2A"/>
<circle cx="554.60" cy="505.36" r="1.15" fill="#7A9E2A"/>
<circle cx="556.90" cy="504.03" r="1.15" fill="#7A9E2A"/>
<circle cx="556.90" cy="501.81" r="1.15" fill="#7A9E2A"/>
<circle cx="554.60" cy="500.92" r="1.15" fill="#7A9E2A"/>
<circle cx="559.20" cy="500.39" r="1.15" fill="#7A9E2A"/>
<circle cx="552.30" cy="500.36" r="1.15" fill="#7A9E2A"/>
<circle cx="556.90" cy="498.88" r="1.15" fill="#7A9E2A"/>
<circle cx="556.90" cy="497.32" r="1.15" fill="#7A9E2A"/>
<circle cx="554.60" cy="496.73" r="1.15" fill="#7A9E2A"/>
<circle cx="556.90" cy="495.61" r="1.15" fill="#7A9E2A"/>
<circle cx="559.20" cy="495.33" r="1.15" fill="#7A9E2A"/>
<circle cx="552.30" cy="495.29" r="1.15" fill="#7A9E2A"/>
<circle cx="556.90" cy="493.96" r="1.15" fill="#7A9E2A"/>
<circle cx="554.60" cy="493.73" r="1.15" fill="#7A9E2A"/>
<circle cx="559.20" cy="492.41" r="1.15" fill="#7A9E2A"/>
<circle cx="556.90" cy="491.28" r="1.15" fill="#7A9E2A"/>
<circle cx="554.60" cy="490.71" r="1.15" fill="#7A9E2A"/>
<circle cx="559.20" cy="490.56" r="1.15" fill="#7A9E2A"/>
<circle cx="552.30" cy="490.26" r="1.15" fill="#7A9E2A"/>
<circle cx="556.90" cy="489.53" r="1.15" fill="#7A9E2A"/>
<circle cx="561.50" cy="489.49" r="1.15" fill="#7A9E2A"/>
<circle cx="550.00" cy="489.36" r="1.15" fill="#7A9E2A"/>
<circle cx="563.80" cy="489.19" r="1.15" fill="#7A9E2A"/>
<circle cx="554.60" cy="488.37" r="1.15" fill="#7A9E2A"/>
<circle cx="556.90" cy="487.51" r="1.15" fill="#7A9E2A"/>
<circle cx="559.20" cy="487.11" r="1.15" fill="#7A9E2A"/>
<circle cx="552.30" cy="486.93" r="1.15" fill="#7A9E2A"/>
<circle cx="554.60" cy="486.80" r="1.15" fill="#7A9E2A"/>
<circle cx="561.50" cy="486.80" r="1.15" fill="#7A9E2A"/>
<circle cx="550.00" cy="486.44" r="1.15" fill="#7A9E2A"/>
<circle cx="563.80" cy="486.03" r="1.15" fill="#7A9E2A"/>
<circle cx="556.90" cy="485.78" r="1.15" fill="#7A9E2A"/>
<circle cx="556.90" cy="485.56" r="1.15" fill="#7A9E2A"/>
<circle cx="554.60" cy="484.67" r="1.15" fill="#7A9E2A"/>
<circle cx="559.20" cy="484.17" r="1.15" fill="#7A9E2A"/>
<circle cx="552.30" cy="484.03" r="1.15" fill="#7A9E2A"/>
<circle cx="561.50" cy="484.02" r="1.15" fill="#7A9E2A"/>
<circle cx="556.90" cy="484.00" r="1.15" fill="#7A9E2A"/>
<circle cx="550.00" cy="483.62" r="1.15" fill="#7A9E2A"/>
<circle cx="554.60" cy="482.96" r="1.15" fill="#7A9E2A"/>
<circle cx="559.20" cy="482.59" r="1.15" fill="#7A9E2A"/>
<circle cx="556.90" cy="481.97" r="1.15" fill="#7A9E2A"/>
<circle cx="552.30" cy="481.64" r="1.15" fill="#7A9E2A"/>
<circle cx="554.60" cy="480.83" r="1.15" fill="#7A9E2A"/>
<circle cx="559.20" cy="480.73" r="1.15" fill="#7A9E2A"/>
<circle cx="556.90" cy="480.14" r="1.15" fill="#7A9E2A"/>
<circle cx="556.90" cy="477.94" r="1.15" fill="#7A9E2A"/>
<circle cx="556.90" cy="475.27" r="1.15" fill="#7A9E2A"/>
<circle cx="556.90" cy="466.58" r="1.15" fill="#7A9E2A"/>
<circle cx="554.60" cy="466.50" r="1.15" fill="#7A9E2A"/>
<circle cx="559.20" cy="465.71" r="1.15" fill="#7A9E2A"/>
<circle cx="556.90" cy="462.64" r="1.15" fill="#7A9E2A"/>
<line x1="549.40" y1="485.09" x2="564.40" y2="485.09" stroke="#4a4a4a" stroke-width="1.0" stroke-linecap="butt"/>
<line x1="553.90" y1="482.89" x2="559.90" y2="482.89" stroke="#4a4a4a" stroke-width="0.8" stroke-linecap="butt"/>
<line x1="553.90" y1="487.29" x2="559.90" y2="487.29" stroke="#4a4a4a" stroke-width="0.8" stroke-linecap="butt"/>
<line x1="556.90" y1="482.89" x2="556.90" y2="487.29" stroke="#4a4a4a" stroke-width="0.8" stroke-linecap="butt"/>
<circle cx="583.70" cy="537.40" r="1.15" fill="#F2B01C"/>
<circle cx="583.70" cy="523.34" r="1.15" fill="#F2B01C"/>
<circle cx="581.40" cy="523.05" r="1.15" fill="#F2B01C"/>
<circle cx="583.70" cy="517.73" r="1.15" fill="#F2B01C"/>
<circle cx="583.70" cy="515.53" r="1.15" fill="#F2B01C"/>
<circle cx="581.40" cy="514.45" r="1.15" fill="#F2B01C"/>
<circle cx="583.70" cy="512.69" r="1.15" fill="#F2B01C"/>
<circle cx="583.70" cy="502.30" r="1.15" fill="#F2B01C"/>
<circle cx="581.40" cy="502.18" r="1.15" fill="#F2B01C"/>
<circle cx="586.00" cy="501.74" r="1.15" fill="#F2B01C"/>
<circle cx="579.10" cy="501.33" r="1.15" fill="#F2B01C"/>
<circle cx="583.70" cy="499.82" r="1.15" fill="#F2B01C"/>
<circle cx="581.40" cy="499.31" r="1.15" fill="#F2B01C"/>
<circle cx="586.00" cy="498.85" r="1.15" fill="#F2B01C"/>
<circle cx="579.10" cy="498.39" r="1.15" fill="#F2B01C"/>
<circle cx="583.70" cy="498.14" r="1.15" fill="#F2B01C"/>
<circle cx="588.30" cy="498.12" r="1.15" fill="#F2B01C"/>
<circle cx="576.80" cy="497.78" r="1.15" fill="#F2B01C"/>
<circle cx="581.40" cy="497.54" r="1.15" fill="#F2B01C"/>
<circle cx="590.60" cy="497.51" r="1.15" fill="#F2B01C"/>
<circle cx="586.00" cy="497.24" r="1.15" fill="#F2B01C"/>
<circle cx="583.70" cy="496.21" r="1.15" fill="#F2B01C"/>
<circle cx="581.40" cy="495.31" r="1.15" fill="#F2B01C"/>
<circle cx="586.00" cy="495.17" r="1.15" fill="#F2B01C"/>
<circle cx="579.10" cy="495.07" r="1.15" fill="#F2B01C"/>
<circle cx="588.30" cy="494.68" r="1.15" fill="#F2B01C"/>
<circle cx="583.70" cy="494.29" r="1.15" fill="#F2B01C"/>
<circle cx="576.80" cy="494.02" r="1.15" fill="#F2B01C"/>
<circle cx="590.60" cy="494.02" r="1.15" fill="#F2B01C"/>
<circle cx="586.00" cy="493.78" r="1.15" fill="#F2B01C"/>
<circle cx="581.40" cy="493.29" r="1.15" fill="#F2B01C"/>
<circle cx="583.70" cy="492.43" r="1.15" fill="#F2B01C"/>
<circle cx="579.10" cy="492.41" r="1.15" fill="#F2B01C"/>
<circle cx="583.70" cy="490.40" r="1.15" fill="#F2B01C"/>
<circle cx="581.40" cy="490.34" r="1.15" fill="#F2B01C"/>
<circle cx="586.00" cy="489.45" r="1.15" fill="#F2B01C"/>
<circle cx="579.10" cy="488.98" r="1.15" fill="#F2B01C"/>
<circle cx="583.70" cy="488.08" r="1.15" fill="#F2B01C"/>
<circle cx="581.40" cy="487.04" r="1.15" fill="#F2B01C"/>
<circle cx="583.70" cy="486.13" r="1.15" fill="#F2B01C"/>
<circle cx="581.40" cy="485.46" r="1.15" fill="#F2B01C"/>
<circle cx="586.00" cy="485.04" r="1.15" fill="#F2B01C"/>
<circle cx="583.70" cy="483.62" r="1.15" fill="#F2B01C"/>
<circle cx="581.40" cy="483.12" r="1.15" fill="#F2B01C"/>
<circle cx="586.00" cy="482.62" r="1.15" fill="#F2B01C"/>
<circle cx="579.10" cy="482.53" r="1.15" fill="#F2B01C"/>
<circle cx="583.70" cy="481.55" r="1.15" fill="#F2B01C"/>
<circle cx="581.40" cy="480.42" r="1.15" fill="#F2B01C"/>
<circle cx="586.00" cy="480.08" r="1.15" fill="#F2B01C"/>
<circle cx="583.70" cy="478.83" r="1.15" fill="#F2B01C"/>
<circle cx="583.70" cy="476.74" r="1.15" fill="#F2B01C"/>
<circle cx="581.40" cy="475.63" r="1.15" fill="#F2B01C"/>
<circle cx="583.70" cy="475.09" r="1.15" fill="#F2B01C"/>
<circle cx="586.00" cy="474.23" r="1.15" fill="#F2B01C"/>
<circle cx="581.40" cy="473.91" r="1.15" fill="#F2B01C"/>
<circle cx="583.70" cy="472.89" r="1.15" fill="#F2B01C"/>
<circle cx="586.00" cy="472.56" r="1.15" fill="#F2B01C"/>
<circle cx="583.70" cy="469.21" r="1.15" fill="#F2B01C"/>
<circle cx="581.40" cy="469.01" r="1.15" fill="#F2B01C"/>
<circle cx="583.70" cy="466.29" r="1.15" fill="#F2B01C"/>
<circle cx="583.70" cy="464.22" r="1.15" fill="#F2B01C"/>
<circle cx="583.70" cy="456.32" r="1.15" fill="#F2B01C"/>
<line x1="576.20" y1="491.54" x2="591.20" y2="491.54" stroke="#4a4a4a" stroke-width="1.0" stroke-linecap="butt"/>
<line x1="580.70" y1="489.34" x2="586.70" y2="489.34" stroke="#4a4a4a" stroke-width="0.8" stroke-linecap="butt"/>
<line x1="580.70" y1="493.74" x2="586.70" y2="493.74" stroke="#4a4a4a" stroke-width="0.8" stroke-linecap="butt"/>
<line x1="583.70" y1="489.34" x2="583.70" y2="493.74" stroke="#4a4a4a" stroke-width="0.8" stroke-linecap="butt"/>
<circle cx="611.20" cy="545.62" r="1.15" fill="#8FB0E0"/>
<circle cx="611.20" cy="540.30" r="1.15" fill="#8FB0E0"/>
<circle cx="611.20" cy="536.32" r="1.15" fill="#8FB0E0"/>
<circle cx="608.90" cy="535.86" r="1.15" fill="#8FB0E0"/>
<circle cx="611.20" cy="529.61" r="1.15" fill="#8FB0E0"/>
<circle cx="611.20" cy="527.92" r="1.15" fill="#8FB0E0"/>
<circle cx="608.90" cy="527.56" r="1.15" fill="#8FB0E0"/>
<circle cx="611.20" cy="526.24" r="1.15" fill="#8FB0E0"/>
<circle cx="613.50" cy="526.22" r="1.15" fill="#8FB0E0"/>
<circle cx="608.90" cy="525.63" r="1.15" fill="#8FB0E0"/>
<circle cx="606.60" cy="525.32" r="1.15" fill="#8FB0E0"/>
<circle cx="615.80" cy="524.99" r="1.15" fill="#8FB0E0"/>
<circle cx="604.30" cy="524.98" r="1.15" fill="#8FB0E0"/>
<circle cx="618.10" cy="524.86" r="1.15" fill="#8FB0E0"/>
<circle cx="611.20" cy="523.11" r="1.15" fill="#8FB0E0"/>
<circle cx="608.90" cy="522.34" r="1.15" fill="#8FB0E0"/>
<circle cx="611.20" cy="521.15" r="1.15" fill="#8FB0E0"/>
<circle cx="608.90" cy="520.58" r="1.15" fill="#8FB0E0"/>
<circle cx="611.20" cy="518.89" r="1.15" fill="#8FB0E0"/>
<circle cx="608.90" cy="518.46" r="1.15" fill="#8FB0E0"/>
<circle cx="611.20" cy="516.92" r="1.15" fill="#8FB0E0"/>
<circle cx="608.90" cy="516.37" r="1.15" fill="#8FB0E0"/>
<circle cx="613.50" cy="516.13" r="1.15" fill="#8FB0E0"/>
<circle cx="606.60" cy="515.97" r="1.15" fill="#8FB0E0"/>
<circle cx="611.20" cy="514.89" r="1.15" fill="#8FB0E0"/>
<circle cx="608.90" cy="513.47" r="1.15" fill="#8FB0E0"/>
<circle cx="613.50" cy="513.45" r="1.15" fill="#8FB0E0"/>
<circle cx="606.60" cy="513.38" r="1.15" fill="#8FB0E0"/>
<circle cx="611.20" cy="512.39" r="1.15" fill="#8FB0E0"/>
<circle cx="615.80" cy="512.23" r="1.15" fill="#8FB0E0"/>
<circle cx="604.30" cy="512.03" r="1.15" fill="#8FB0E0"/>
<circle cx="608.90" cy="511.09" r="1.15" fill="#8FB0E0"/>
<circle cx="613.50" cy="510.98" r="1.15" fill="#8FB0E0"/>
<circle cx="606.60" cy="510.97" r="1.15" fill="#8FB0E0"/>
<circle cx="611.20" cy="510.31" r="1.15" fill="#8FB0E0"/>
<circle cx="615.80" cy="509.83" r="1.15" fill="#8FB0E0"/>
<circle cx="611.20" cy="507.62" r="1.15" fill="#8FB0E0"/>
<circle cx="608.90" cy="507.50" r="1.15" fill="#8FB0E0"/>
<circle cx="611.20" cy="505.69" r="1.15" fill="#8FB0E0"/>
<circle cx="608.90" cy="505.36" r="1.15" fill="#8FB0E0"/>
<circle cx="613.50" cy="504.45" r="1.15" fill="#8FB0E0"/>
<circle cx="611.20" cy="503.19" r="1.15" fill="#8FB0E0"/>
<circle cx="608.90" cy="502.64" r="1.15" fill="#8FB0E0"/>
<circle cx="613.50" cy="502.49" r="1.15" fill="#8FB0E0"/>
<circle cx="606.60" cy="501.96" r="1.15" fill="#8FB0E0"/>
<circle cx="611.20" cy="501.40" r="1.15" fill="#8FB0E0"/>
<circle cx="611.20" cy="499.27" r="1.15" fill="#8FB0E0"/>
<circle cx="608.90" cy="499.11" r="1.15" fill="#8FB0E0"/>
<circle cx="613.50" cy="499.09" r="1.15" fill="#8FB0E0"/>
<circle cx="606.60" cy="498.77" r="1.15" fill="#8FB0E0"/>
<circle cx="615.80" cy="498.53" r="1.15" fill="#8FB0E0"/>
<circle cx="611.20" cy="497.64" r="1.15" fill="#8FB0E0"/>
<circle cx="604.30" cy="497.59" r="1.15" fill="#8FB0E0"/>
<circle cx="611.20" cy="493.25" r="1.15" fill="#8FB0E0"/>
<circle cx="611.20" cy="488.66" r="1.15" fill="#8FB0E0"/>
<circle cx="611.20" cy="486.05" r="1.15" fill="#8FB0E0"/>
<circle cx="611.20" cy="482.29" r="1.15" fill="#8FB0E0"/>
<line x1="603.70" y1="513.73" x2="618.70" y2="513.73" stroke="#4a4a4a" stroke-width="1.0" stroke-linecap="butt"/>
<line x1="608.20" y1="511.53" x2="614.20" y2="511.53" stroke="#4a4a4a" stroke-width="0.8" stroke-linecap="butt"/>
<line x1="608.20" y1="515.93" x2="614.20" y2="515.93" stroke="#4a4a4a" stroke-width="0.8" stroke-linecap="butt"/>
<line x1="611.20" y1="511.53" x2="611.20" y2="515.93" stroke="#4a4a4a" stroke-width="0.8" stroke-linecap="butt"/>
<text x="0" y="0" font-size="9.2" text-anchor="start" fill="#1c1c1c" stroke="#1c1c1c" stroke-width="0.15" transform="translate(546.20 585.60) scale(1 1.03)">WT</text>
<text x="0" y="0" transform="translate(566.70 585.60) scale(1 1.03)" font-size="9.2" text-anchor="start" fill="#D8463F" stroke="#D8463F" stroke-width="0.105" font-style="italic">LAP1<tspan font-size="5.6" dx="0.4" dy="-3.3" font-style="normal" stroke-width="0.05">-/-</tspan></text>
<text x="0" y="0" font-size="9.2" text-anchor="start" fill="#1c1c1c" stroke="#1c1c1c" stroke-width="0.15" transform="translate(603.60 585.60) scale(1 1.03)">WT</text>
<text x="0" y="0" font-size="9.2" text-anchor="start" fill="#1c1c1c" stroke="#1c1c1c" stroke-width="0.15" transform="translate(546.20 600.90) scale(1 1.03)">WT</text>
<text x="0" y="0" font-size="9.2" text-anchor="start" fill="#1c1c1c" stroke="#1c1c1c" stroke-width="0.15" transform="translate(573.40 598.50) scale(1 1.03)">WT</text>
<text x="0" y="0" transform="translate(598.90 601.20) scale(1 1.03)" font-size="9.2" text-anchor="start" fill="#D8463F" stroke="#D8463F" stroke-width="0.105" font-style="italic">LAP1<tspan font-size="5.6" dx="0.4" dy="-3.3" font-style="normal" stroke-width="0.05">-/-</tspan></text>
<path d="M555.50 601.90 V605.10 H607.70 V601.90" fill="none" stroke="#3c3c3c" stroke-width="0.95"/>
<text x="0" y="0" font-size="9.9" text-anchor="start" fill="#1c1c1c" stroke="#1c1c1c" stroke-width="0.15" transform="translate(550.90 615.00) scale(1 1.03)">Second blood</text>
<text x="0" y="0" font-size="9" text-anchor="start" fill="#1c1c1c" font-weight="bold" stroke="#1c1c1c" stroke-width="0.15" transform="translate(26.50 640.80) scale(1 1.03)">j</text>
<text x="0" y="0" font-size="9.2" text-anchor="middle" fill="#1c1c1c" font-weight="bold" stroke="#1c1c1c" stroke-width="0.15" transform="translate(83.80 641.80) scale(1 1.03)">Hatchability</text>
<rect x="43.60" y="646.00" width="85.00" height="31.10" fill="#DFDFDF"/>
<path d="M57.40 657.70 V654.90 H117.70 V657.70" fill="none" stroke="#3c3c3c" stroke-width="0.95"/>
<polygon points="82.80,648.75 83.36,649.98 84.70,650.13 83.70,651.04 83.98,652.37 82.80,651.70 81.62,652.37 81.90,651.04 80.90,650.13 82.24,649.98" fill="#222" stroke="#222" stroke-width="0.35" stroke-linejoin="round"/>
<polygon points="87.40,648.75 87.96,649.98 89.30,650.13 88.30,651.04 88.58,652.37 87.40,651.70 86.22,652.37 86.50,651.04 85.50,650.13 86.84,649.98" fill="#222" stroke="#222" stroke-width="0.35" stroke-linejoin="round"/>
<polygon points="92.00,648.75 92.56,649.98 93.90,650.13 92.90,651.04 93.18,652.37 92.00,651.70 90.82,652.37 91.10,651.04 90.10,650.13 91.44,649.98" fill="#222" stroke="#222" stroke-width="0.35" stroke-linejoin="round"/>
<path d="M57.40 666.60 V663.70 H87.00 V666.60" fill="none" stroke="#3c3c3c" stroke-width="0.95"/>
<path d="M89.00 666.60 V663.70 H117.70 V666.60" fill="none" stroke="#3c3c3c" stroke-width="0.95"/>
<polygon points="68.90,658.75 69.46,659.98 70.80,660.13 69.80,661.04 70.08,662.37 68.90,661.70 67.72,662.37 68.00,661.04 67.00,660.13 68.34,659.98" fill="#222" stroke="#222" stroke-width="0.35" stroke-linejoin="round"/>
<polygon points="73.50,658.75 74.06,659.98 75.40,660.13 74.40,661.04 74.68,662.37 73.50,661.70 72.32,662.37 72.60,661.04 71.60,660.13 72.94,659.98" fill="#222" stroke="#222" stroke-width="0.35" stroke-linejoin="round"/>
<polygon points="78.10,658.75 78.66,659.98 80.00,660.13 79.00,661.04 79.28,662.37 78.10,661.70 76.92,662.37 77.20,661.04 76.20,660.13 77.54,659.98" fill="#222" stroke="#222" stroke-width="0.35" stroke-linejoin="round"/>
<polygon points="98.70,658.75 99.26,659.98 100.60,660.13 99.60,661.04 99.88,662.37 98.70,661.70 97.52,662.37 97.80,661.04 96.80,660.13 98.14,659.98" fill="#222" stroke="#222" stroke-width="0.35" stroke-linejoin="round"/>
<polygon points="103.30,658.75 103.86,659.98 105.20,660.13 104.20,661.04 104.48,662.37 103.30,661.70 102.12,662.37 102.40,661.04 101.40,660.13 102.74,659.98" fill="#222" stroke="#222" stroke-width="0.35" stroke-linejoin="round"/>
<polygon points="107.90,658.75 108.46,659.98 109.80,660.13 108.80,661.04 109.08,662.37 107.90,661.70 106.72,662.37 107.00,661.04 106.00,660.13 107.34,659.98" fill="#222" stroke="#222" stroke-width="0.35" stroke-linejoin="round"/>
<text x="0" y="0" font-size="9.2" text-anchor="middle" fill="#1c1c1c" stroke="#1c1c1c" stroke-width="0.15" transform="translate(58.60 674.10) scale(1 1.03)">62/62</text>
<text x="0" y="0" font-size="9.2" text-anchor="middle" fill="#1c1c1c" stroke="#1c1c1c" stroke-width="0.15" transform="translate(86.50 674.10) scale(1 1.03)">51/74</text>
<text x="0" y="0" font-size="9.2" text-anchor="middle" fill="#1c1c1c" stroke="#1c1c1c" stroke-width="0.15" transform="translate(115.10 674.10) scale(1 1.03)">89/89</text>
<line x1="43.20" y1="675.00" x2="43.20" y2="789.50" stroke="#3c3c3c" stroke-width="1.1" stroke-linecap="butt"/>
<line x1="39.20" y1="780.40" x2="43.20" y2="780.40" stroke="#3c3c3c" stroke-width="1.0" stroke-linecap="butt"/>
<text x="0" y="0" font-size="9.2" text-anchor="end" fill="#1c1c1c" stroke="#1c1c1c" stroke-width="0.15" transform="translate(37.00 784.40) scale(1 1.08)">0</text>
<line x1="39.20" y1="762.92" x2="43.20" y2="762.92" stroke="#3c3c3c" stroke-width="1.0" stroke-linecap="butt"/>
<text x="0" y="0" font-size="9.2" text-anchor="end" fill="#1c1c1c" stroke="#1c1c1c" stroke-width="0.15" transform="translate(37.00 766.92) scale(1 1.08)">20</text>
<line x1="39.20" y1="745.43" x2="43.20" y2="745.43" stroke="#3c3c3c" stroke-width="1.0" stroke-linecap="butt"/>
<text x="0" y="0" font-size="9.2" text-anchor="end" fill="#1c1c1c" stroke="#1c1c1c" stroke-width="0.15" transform="translate(37.00 749.43) scale(1 1.08)">40</text>
<line x1="39.20" y1="727.95" x2="43.20" y2="727.95" stroke="#3c3c3c" stroke-width="1.0" stroke-linecap="butt"/>
<text x="0" y="0" font-size="9.2" text-anchor="end" fill="#1c1c1c" stroke="#1c1c1c" stroke-width="0.15" transform="translate(37.00 731.95) scale(1 1.08)">60</text>
<line x1="39.20" y1="710.47" x2="43.20" y2="710.47" stroke="#3c3c3c" stroke-width="1.0" stroke-linecap="butt"/>
<text x="0" y="0" font-size="9.2" text-anchor="end" fill="#1c1c1c" stroke="#1c1c1c" stroke-width="0.15" transform="translate(37.00 714.47) scale(1 1.08)">80</text>
<line x1="39.20" y1="692.98" x2="43.20" y2="692.98" stroke="#3c3c3c" stroke-width="1.0" stroke-linecap="butt"/>
<text x="0" y="0" font-size="9.2" text-anchor="end" fill="#1c1c1c" stroke="#1c1c1c" stroke-width="0.15" transform="translate(37.00 696.98) scale(1 1.08)">100</text>
<line x1="39.20" y1="675.50" x2="43.20" y2="675.50" stroke="#3c3c3c" stroke-width="1.0" stroke-linecap="butt"/>
<text x="0" y="0" font-size="9.2" text-anchor="end" fill="#1c1c1c" stroke="#1c1c1c" stroke-width="0.15" transform="translate(37.00 679.50) scale(1 1.08)">120</text>
<line x1="42.70" y1="789.00" x2="126.00" y2="789.00" stroke="#3c3c3c" stroke-width="1.1" stroke-linecap="butt"/>
<line x1="57.40" y1="789.00" x2="57.40" y2="792.00" stroke="#3c3c3c" stroke-width="1.0" stroke-linecap="butt"/>
<line x1="84.00" y1="789.00" x2="84.00" y2="792.00" stroke="#3c3c3c" stroke-width="1.0" stroke-linecap="butt"/>
<line x1="112.30" y1="789.00" x2="112.30" y2="792.00" stroke="#3c3c3c" stroke-width="1.0" stroke-linecap="butt"/>
<line x1="43.20" y1="780.40" x2="126.00" y2="780.40" stroke="#111" stroke-width="1.3" stroke-linecap="butt" stroke-dasharray="1.4,1.3"/>
<text x="0" y="0" font-size="9.3" text-anchor="middle" fill="#1c1c1c" stroke="#1c1c1c" stroke-width="0.15" transform="translate(17.90 729.70) rotate(-90) scale(1 1.03)">% Hatching rate</text>
<polygon points="57.10,688.60 57.10,688.83 57.10,689.15 57.10,689.52 57.04,689.94 56.84,690.37 56.60,690.80 56.34,691.22 56.06,691.66 55.76,692.11 55.41,692.59 55.03,693.08 54.60,693.60 54.05,694.15 53.36,694.74 52.63,695.35 51.95,695.97 51.41,696.59 51.10,697.20 51.07,697.81 51.25,698.43 51.57,699.04 51.95,699.65 52.32,700.24 52.60,700.80 52.81,701.32 53.01,701.82 53.19,702.30 53.36,702.77 53.50,703.23 53.60,703.70 53.65,704.16 53.64,704.59 53.60,705.01 53.56,705.46 53.55,705.95 53.60,706.50 53.71,707.13 53.86,707.82 54.04,708.56 54.23,709.31 54.42,710.07 54.60,710.80 54.76,711.51 54.90,712.21 55.04,712.91 55.19,713.61 55.38,714.34 55.60,715.10 55.90,715.95 56.27,716.90 56.66,717.87 57.04,718.78 57.10,719.55 57.10,720.10 58.10,720.10 58.10,719.55 58.16,718.78 58.54,717.87 58.93,716.90 59.30,715.95 59.60,715.10 59.82,714.34 60.01,713.61 60.16,712.91 60.30,712.21 60.44,711.51 60.60,710.80 60.78,710.07 60.97,709.31 61.16,708.56 61.34,707.82 61.49,707.13 61.60,706.50 61.65,705.95 61.64,705.46 61.60,705.01 61.56,704.59 61.55,704.16 61.60,703.70 61.70,703.23 61.84,702.77 62.01,702.30 62.19,701.82 62.39,701.32 62.60,700.80 62.88,700.24 63.25,699.65 63.63,699.04 63.95,698.43 64.13,697.81 64.10,697.20 63.79,696.59 63.25,695.97 62.57,695.35 61.84,694.74 61.15,694.15 60.60,693.60 60.17,693.08 59.79,692.59 59.44,692.11 59.14,691.66 58.86,691.22 58.60,690.80 58.36,690.37 58.16,689.94 58.10,689.52 58.10,689.15 58.10,688.83 58.10,688.60" fill="#7A9E2A"/>
<line x1="51.90" y1="697.20" x2="63.30" y2="697.20" stroke="#ffffff" stroke-width="0.75" stroke-linecap="butt" stroke-dasharray="1.8,0.9"/>
<line x1="53.03" y1="700.10" x2="62.17" y2="700.10" stroke="#ffffff" stroke-width="0.75" stroke-linecap="butt" stroke-dasharray="1.8,0.9"/>
<line x1="54.39" y1="705.10" x2="60.81" y2="705.10" stroke="#ffffff" stroke-width="0.75" stroke-linecap="butt" stroke-dasharray="1.8,0.9"/>
<polygon points="84.60,710.10 84.60,710.89 84.60,711.91 84.60,713.16 84.57,714.60 84.42,716.22 84.30,718.00 84.21,720.06 84.15,722.45 84.10,725.01 84.05,727.61 83.99,730.09 83.90,732.30 83.79,734.26 83.67,736.09 83.54,737.80 83.40,739.41 83.25,740.94 83.10,742.40 82.95,743.77 82.80,745.04 82.64,746.22 82.48,747.34 82.30,748.43 82.10,749.50 81.86,750.54 81.58,751.53 81.29,752.49 81.01,753.42 80.77,754.35 80.60,755.30 80.50,756.26 80.43,757.21 80.41,758.16 80.43,759.10 80.50,760.05 80.60,761.00 80.80,761.95 81.10,762.90 81.44,763.85 81.77,764.80 82.01,765.75 82.10,766.70 82.03,767.63 81.84,768.54 81.57,769.46 81.25,770.39 80.91,771.36 80.60,772.40 80.24,773.53 79.80,774.74 79.35,776.00 78.95,777.26 78.68,778.47 78.60,779.60 78.74,780.65 79.04,781.66 79.47,782.63 79.99,783.56 80.54,784.45 81.10,785.30 81.73,786.15 82.47,787.00 83.26,787.81 84.01,788.54 84.60,789.15 84.60,789.60 85.60,789.60 85.60,789.15 86.19,788.54 86.94,787.81 87.73,787.00 88.47,786.15 89.10,785.30 89.66,784.45 90.21,783.56 90.72,782.63 91.16,781.66 91.46,780.65 91.60,779.60 91.52,778.47 91.25,777.26 90.85,776.00 90.40,774.74 89.96,773.53 89.60,772.40 89.29,771.36 88.95,770.39 88.63,769.46 88.36,768.54 88.17,767.63 88.10,766.70 88.19,765.75 88.43,764.80 88.76,763.85 89.10,762.90 89.40,761.95 89.60,761.00 89.70,760.05 89.77,759.10 89.79,758.16 89.77,757.21 89.70,756.26 89.60,755.30 89.43,754.35 89.19,753.42 88.91,752.49 88.62,751.53 88.34,750.54 88.10,749.50 87.90,748.43 87.72,747.34 87.56,746.22 87.40,745.04 87.25,743.77 87.10,742.40 86.95,740.94 86.80,739.41 86.66,737.80 86.53,736.09 86.41,734.26 86.30,732.30 86.21,730.09 86.15,727.61 86.10,725.01 86.05,722.45 85.99,720.06 85.90,718.00 85.78,716.22 85.63,714.60 85.60,713.16 85.60,711.91 85.60,710.89 85.60,710.10" fill="#F2B01C"/>
<line x1="81.21" y1="758.10" x2="88.99" y2="758.10" stroke="#ffffff" stroke-width="0.75" stroke-linecap="butt" stroke-dasharray="1.8,0.9"/>
<line x1="82.69" y1="765.30" x2="87.51" y2="765.30" stroke="#ffffff" stroke-width="0.75" stroke-linecap="butt" stroke-dasharray="1.8,0.9"/>
<line x1="79.49" y1="780.30" x2="90.71" y2="780.30" stroke="#ffffff" stroke-width="0.75" stroke-linecap="butt" stroke-dasharray="1.8,0.9"/>
<polygon points="111.90,685.70 111.90,686.23 111.90,686.95 111.78,687.81 111.49,688.76 111.20,689.78 110.90,690.80 110.58,691.87 110.23,693.01 109.87,694.22 109.51,695.45 109.18,696.69 108.90,697.90 108.68,699.09 108.51,700.29 108.37,701.49 108.23,702.70 108.08,703.90 107.90,705.10 107.67,706.33 107.40,707.61 107.12,708.88 106.84,710.11 106.60,711.27 106.40,712.30 106.24,713.18 106.09,713.95 105.96,714.63 105.88,715.27 105.86,715.92 105.90,716.60 106.02,717.32 106.21,718.03 106.46,718.75 106.75,719.47 107.07,720.18 107.40,720.90 107.79,721.62 108.27,722.33 108.78,723.05 109.25,723.77 109.65,724.48 109.90,725.20 109.98,725.92 109.92,726.63 109.78,727.35 109.60,728.07 109.46,728.78 109.40,729.50 109.42,730.22 109.46,730.93 109.54,731.65 109.64,732.37 109.76,733.08 109.90,733.80 110.08,734.43 110.31,734.97 110.56,735.51 110.80,736.14 111.03,736.97 111.20,738.10 111.31,739.58 111.39,741.34 111.43,743.31 111.47,745.38 111.52,747.47 111.60,749.50 111.72,751.63 111.87,753.96 111.90,756.31 111.90,758.51 111.90,760.36 111.90,761.70 112.90,761.70 112.90,760.36 112.90,758.51 112.90,756.31 112.93,753.96 113.08,751.63 113.20,749.50 113.28,747.47 113.33,745.38 113.37,743.31 113.41,741.34 113.49,739.58 113.60,738.10 113.77,736.97 114.00,736.14 114.24,735.51 114.49,734.97 114.72,734.43 114.90,733.80 115.04,733.08 115.16,732.37 115.26,731.65 115.34,730.93 115.38,730.22 115.40,729.50 115.34,728.78 115.20,728.07 115.03,727.35 114.88,726.63 114.82,725.92 114.90,725.20 115.15,724.48 115.55,723.77 116.03,723.05 116.53,722.33 117.01,721.62 117.40,720.90 117.73,720.18 118.05,719.47 118.34,718.75 118.59,718.03 118.78,717.32 118.90,716.60 118.94,715.92 118.92,715.27 118.84,714.63 118.71,713.95 118.56,713.18 118.40,712.30 118.20,711.27 117.96,710.11 117.68,708.88 117.40,707.61 117.13,706.33 116.90,705.10 116.72,703.90 116.57,702.70 116.43,701.49 116.29,700.29 116.12,699.09 115.90,697.90 115.62,696.69 115.29,695.45 114.93,694.22 114.57,693.01 114.22,691.87 113.90,690.80 113.60,689.78 113.31,688.76 113.03,687.81 112.90,686.95 112.90,686.23 112.90,685.70" fill="#8FB0E0"/>
<line x1="108.70" y1="705.10" x2="116.10" y2="705.10" stroke="#ffffff" stroke-width="0.75" stroke-linecap="butt" stroke-dasharray="1.8,0.9"/>
<line x1="106.99" y1="713.40" x2="117.81" y2="713.40" stroke="#ffffff" stroke-width="0.75" stroke-linecap="butt" stroke-dasharray="1.8,0.9"/>
<line x1="107.40" y1="719.10" x2="117.40" y2="719.10" stroke="#ffffff" stroke-width="0.75" stroke-linecap="butt" stroke-dasharray="1.8,0.9"/>
<text x="0" y="0" font-size="9.2" text-anchor="end" fill="#2a2a2a" stroke="#2a2a2a" stroke-width="0.15" transform="translate(28.70 803.10) scale(1 1.03)">male</text>
<text x="0" y="0" font-size="9.2" text-anchor="end" fill="#2a2a2a" stroke="#2a2a2a" stroke-width="0.15" transform="translate(28.70 818.90) scale(1 1.03)">female</text>
<circle cx="35.30" cy="800.40" r="2.5" fill="none" stroke="#9a9a9a" stroke-width="0.7"/>
<path d="M37.10 798.60 L40.05 795.65 M37.85 795.75 L40.05 795.65 L39.95 797.85" fill="none" stroke="#9a9a9a" stroke-width="0.7"/>
<circle cx="35.30" cy="814.70" r="2.5" fill="none" stroke="#9a9a9a" stroke-width="0.7"/>
<path d="M35.30 817.20 V820.80 M33.30 819.10 H37.30" fill="none" stroke="#9a9a9a" stroke-width="0.8"/>
<text x="0" y="0" font-size="9.2" text-anchor="start" fill="#1c1c1c" stroke="#1c1c1c" stroke-width="0.15" transform="translate(48.20 802.50) scale(1 1.03)">WT</text>
<text x="0" y="0" transform="translate(73.40 802.50) scale(1 1.03)" font-size="9.2" text-anchor="start" fill="#D8463F" stroke="#D8463F" stroke-width="0.105" font-style="italic">LAP1<tspan font-size="5.6" dx="0.4" dy="-3.3" font-style="normal" stroke-width="0.05">-/-</tspan></text>
<text x="0" y="0" font-size="9.2" text-anchor="start" fill="#1c1c1c" stroke="#1c1c1c" stroke-width="0.15" transform="translate(109.70 802.50) scale(1 1.03)">WT</text>
<text x="0" y="0" font-size="9.2" text-anchor="start" fill="#1c1c1c" stroke="#1c1c1c" stroke-width="0.15" transform="translate(48.20 818.90) scale(1 1.03)">WT</text>
<text x="0" y="0" font-size="9.2" text-anchor="start" fill="#1c1c1c" stroke="#1c1c1c" stroke-width="0.15" transform="translate(78.90 818.90) scale(1 1.03)">WT</text>
<text x="0" y="0" transform="translate(103.50 818.90) scale(1 1.03)" font-size="9.2" text-anchor="start" fill="#D8463F" stroke="#D8463F" stroke-width="0.105" font-style="italic">LAP1<tspan font-size="5.6" dx="0.4" dy="-3.3" font-style="normal" stroke-width="0.05">-/-</tspan></text>
<path d="M59.40 821.80 V825.00 H111.70 V821.80" fill="none" stroke="#3c3c3c" stroke-width="0.95"/>
<text x="0" y="0" font-size="9.9" text-anchor="start" fill="#1c1c1c" stroke="#1c1c1c" stroke-width="0.15" transform="translate(60.50 835.30) scale(1 1.03)">First blood</text>
<text x="0" y="0" font-size="9" text-anchor="start" fill="#1c1c1c" font-weight="bold" stroke="#1c1c1c" stroke-width="0.15" transform="translate(193.60 640.80) scale(1 1.03)">k</text>
<text x="0" y="0" font-size="9.2" text-anchor="middle" fill="#1c1c1c" font-weight="bold" stroke="#1c1c1c" stroke-width="0.15" transform="translate(239.30 641.80) scale(1 1.03)">Hatchability</text>
<rect x="192.10" y="646.00" width="85.50" height="29.80" fill="#DFDFDF"/>
<path d="M208.20 657.20 V654.40 H270.90 V657.20" fill="none" stroke="#3c3c3c" stroke-width="0.95"/>
<polygon points="235.10,648.25 235.66,649.48 237.00,649.63 236.00,650.54 236.28,651.87 235.10,651.20 233.92,651.87 234.20,650.54 233.20,649.63 234.54,649.48" fill="#222" stroke="#222" stroke-width="0.35" stroke-linejoin="round"/>
<polygon points="239.70,648.25 240.26,649.48 241.60,649.63 240.60,650.54 240.88,651.87 239.70,651.20 238.52,651.87 238.80,650.54 237.80,649.63 239.14,649.48" fill="#222" stroke="#222" stroke-width="0.35" stroke-linejoin="round"/>
<polygon points="244.30,648.25 244.86,649.48 246.20,649.63 245.20,650.54 245.48,651.87 244.30,651.20 243.12,651.87 243.40,650.54 242.40,649.63 243.74,649.48" fill="#222" stroke="#222" stroke-width="0.35" stroke-linejoin="round"/>
<path d="M208.20 666.60 V663.70 H236.90 V666.60" fill="none" stroke="#3c3c3c" stroke-width="0.95"/>
<path d="M242.20 666.60 V663.70 H270.90 V666.60" fill="none" stroke="#3c3c3c" stroke-width="0.95"/>
<polygon points="219.50,658.75 220.06,659.98 221.40,660.13 220.40,661.04 220.68,662.37 219.50,661.70 218.32,662.37 218.60,661.04 217.60,660.13 218.94,659.98" fill="#222" stroke="#222" stroke-width="0.35" stroke-linejoin="round"/>
<polygon points="224.10,658.75 224.66,659.98 226.00,660.13 225.00,661.04 225.28,662.37 224.10,661.70 222.92,662.37 223.20,661.04 222.20,660.13 223.54,659.98" fill="#222" stroke="#222" stroke-width="0.35" stroke-linejoin="round"/>
<polygon points="228.70,658.75 229.26,659.98 230.60,660.13 229.60,661.04 229.88,662.37 228.70,661.70 227.52,662.37 227.80,661.04 226.80,660.13 228.14,659.98" fill="#222" stroke="#222" stroke-width="0.35" stroke-linejoin="round"/>
<polygon points="252.50,658.75 253.06,659.98 254.40,660.13 253.40,661.04 253.68,662.37 252.50,661.70 251.32,662.37 251.60,661.04 250.60,660.13 251.94,659.98" fill="#222" stroke="#222" stroke-width="0.35" stroke-linejoin="round"/>
<polygon points="257.10,658.75 257.66,659.98 259.00,660.13 258.00,661.04 258.28,662.37 257.10,661.70 255.92,662.37 256.20,661.04 255.20,660.13 256.54,659.98" fill="#222" stroke="#222" stroke-width="0.35" stroke-linejoin="round"/>
<polygon points="261.70,658.75 262.26,659.98 263.60,660.13 262.60,661.04 262.88,662.37 261.70,661.70 260.52,662.37 260.80,661.04 259.80,660.13 261.14,659.98" fill="#222" stroke="#222" stroke-width="0.35" stroke-linejoin="round"/>
<text x="0" y="0" font-size="9.2" text-anchor="middle" fill="#1c1c1c" stroke="#1c1c1c" stroke-width="0.15" transform="translate(208.80 674.10) scale(1 1.03)">54/54</text>
<text x="0" y="0" font-size="9.2" text-anchor="middle" fill="#1c1c1c" stroke="#1c1c1c" stroke-width="0.15" transform="translate(236.60 674.10) scale(1 1.03)">31/62</text>
<text x="0" y="0" font-size="9.2" text-anchor="middle" fill="#1c1c1c" stroke="#1c1c1c" stroke-width="0.15" transform="translate(264.30 674.10) scale(1 1.03)">60/60</text>
<line x1="192.60" y1="675.50" x2="192.60" y2="789.60" stroke="#3c3c3c" stroke-width="1.1" stroke-linecap="butt"/>
<line x1="188.60" y1="780.40" x2="192.60" y2="780.40" stroke="#3c3c3c" stroke-width="1.0" stroke-linecap="butt"/>
<text x="0" y="0" font-size="9.2" text-anchor="end" fill="#1c1c1c" stroke="#1c1c1c" stroke-width="0.15" transform="translate(186.40 784.40) scale(1 1.08)">0</text>
<line x1="188.60" y1="763.00" x2="192.60" y2="763.00" stroke="#3c3c3c" stroke-width="1.0" stroke-linecap="butt"/>
<text x="0" y="0" font-size="9.2" text-anchor="end" fill="#1c1c1c" stroke="#1c1c1c" stroke-width="0.15" transform="translate(186.40 767.00) scale(1 1.08)">20</text>
<line x1="188.60" y1="745.60" x2="192.60" y2="745.60" stroke="#3c3c3c" stroke-width="1.0" stroke-linecap="butt"/>
<text x="0" y="0" font-size="9.2" text-anchor="end" fill="#1c1c1c" stroke="#1c1c1c" stroke-width="0.15" transform="translate(186.40 749.60) scale(1 1.08)">40</text>
<line x1="188.60" y1="728.20" x2="192.60" y2="728.20" stroke="#3c3c3c" stroke-width="1.0" stroke-linecap="butt"/>
<text x="0" y="0" font-size="9.2" text-anchor="end" fill="#1c1c1c" stroke="#1c1c1c" stroke-width="0.15" transform="translate(186.40 732.20) scale(1 1.08)">60</text>
<line x1="188.60" y1="710.80" x2="192.60" y2="710.80" stroke="#3c3c3c" stroke-width="1.0" stroke-linecap="butt"/>
<text x="0" y="0" font-size="9.2" text-anchor="end" fill="#1c1c1c" stroke="#1c1c1c" stroke-width="0.15" transform="translate(186.40 714.80) scale(1 1.08)">80</text>
<line x1="188.60" y1="693.40" x2="192.60" y2="693.40" stroke="#3c3c3c" stroke-width="1.0" stroke-linecap="butt"/>
<text x="0" y="0" font-size="9.2" text-anchor="end" fill="#1c1c1c" stroke="#1c1c1c" stroke-width="0.15" transform="translate(186.40 697.40) scale(1 1.08)">100</text>
<line x1="188.60" y1="676.00" x2="192.60" y2="676.00" stroke="#3c3c3c" stroke-width="1.0" stroke-linecap="butt"/>
<text x="0" y="0" font-size="9.2" text-anchor="end" fill="#1c1c1c" stroke="#1c1c1c" stroke-width="0.15" transform="translate(186.40 680.00) scale(1 1.08)">120</text>
<line x1="192.10" y1="789.10" x2="275.30" y2="789.10" stroke="#3c3c3c" stroke-width="1.1" stroke-linecap="butt"/>
<line x1="206.60" y1="789.10" x2="206.60" y2="792.10" stroke="#3c3c3c" stroke-width="1.0" stroke-linecap="butt"/>
<line x1="234.30" y1="789.10" x2="234.30" y2="792.10" stroke="#3c3c3c" stroke-width="1.0" stroke-linecap="butt"/>
<line x1="261.60" y1="789.10" x2="261.60" y2="792.10" stroke="#3c3c3c" stroke-width="1.0" stroke-linecap="butt"/>
<line x1="192.60" y1="780.40" x2="275.00" y2="780.40" stroke="#111" stroke-width="1.3" stroke-linecap="butt" stroke-dasharray="1.4,1.3"/>
<text x="0" y="0" font-size="9.3" text-anchor="middle" fill="#1c1c1c" stroke="#1c1c1c" stroke-width="0.15" transform="translate(167.90 729.40) rotate(-90) scale(1 1.03)">% Hatching rate</text>
<polygon points="206.40,689.30 206.40,689.53 206.40,689.85 206.06,690.22 205.68,690.64 205.29,691.07 204.90,691.50 204.49,691.93 204.03,692.39 203.56,692.86 203.10,693.34 202.71,693.82 202.40,694.30 202.21,694.76 202.12,695.21 202.09,695.66 202.07,696.13 202.02,696.63 201.90,697.20 201.67,697.84 201.36,698.53 201.03,699.26 200.71,700.01 200.49,700.77 200.40,701.50 200.47,702.22 200.66,702.96 200.93,703.69 201.25,704.42 201.59,705.12 201.90,705.80 202.21,706.45 202.55,707.08 202.90,707.69 203.25,708.28 203.59,708.85 203.90,709.40 204.19,709.89 204.48,710.31 204.76,710.72 205.01,711.15 205.23,711.66 205.40,712.30 205.53,713.10 205.61,714.04 205.66,715.06 205.69,716.10 205.70,717.10 205.70,718.00 205.66,718.79 205.58,719.51 205.47,720.19 205.39,720.87 205.35,721.56 205.40,722.30 205.56,723.15 205.82,724.10 206.13,725.07 206.40,725.98 206.40,726.75 206.40,727.30 207.40,727.30 207.40,726.75 207.40,725.98 207.67,725.07 207.98,724.10 208.24,723.15 208.40,722.30 208.45,721.56 208.41,720.87 208.33,720.19 208.22,719.51 208.14,718.79 208.10,718.00 208.10,717.10 208.11,716.10 208.14,715.06 208.19,714.04 208.27,713.10 208.40,712.30 208.57,711.66 208.79,711.15 209.04,710.72 209.32,710.31 209.61,709.89 209.90,709.40 210.21,708.85 210.55,708.28 210.90,707.69 211.25,707.08 211.59,706.45 211.90,705.80 212.21,705.12 212.55,704.42 212.87,703.69 213.14,702.96 213.33,702.22 213.40,701.50 213.31,700.77 213.09,700.01 212.78,699.26 212.44,698.53 212.13,697.84 211.90,697.20 211.78,696.63 211.73,696.13 211.71,695.66 211.68,695.21 211.59,694.76 211.40,694.30 211.09,693.82 210.70,693.34 210.24,692.86 209.77,692.39 209.31,691.93 208.90,691.50 208.51,691.07 208.12,690.64 207.74,690.22 207.40,689.85 207.40,689.53 207.40,689.30" fill="#7A9E2A"/>
<line x1="202.44" y1="697.90" x2="211.36" y2="697.90" stroke="#ffffff" stroke-width="0.75" stroke-linecap="butt" stroke-dasharray="1.8,0.9"/>
<line x1="201.20" y1="701.50" x2="212.60" y2="701.50" stroke="#ffffff" stroke-width="0.75" stroke-linecap="butt" stroke-dasharray="1.8,0.9"/>
<line x1="201.73" y1="703.70" x2="212.07" y2="703.70" stroke="#ffffff" stroke-width="0.75" stroke-linecap="butt" stroke-dasharray="1.8,0.9"/>
<polygon points="233.50,758.10 233.50,759.07 233.50,760.44 233.50,762.04 233.49,763.73 233.34,765.33 233.20,766.70 233.09,767.82 232.99,768.84 232.89,769.77 232.79,770.65 232.66,771.52 232.50,772.40 232.32,773.31 232.13,774.23 231.93,775.13 231.68,775.99 231.38,776.79 231.00,777.50 230.46,778.11 229.76,778.65 229.00,779.12 228.30,779.55 227.76,779.94 227.50,780.30 227.55,780.63 227.83,780.91 228.28,781.16 228.83,781.39 229.43,781.59 230.00,781.80 230.63,782.01 231.37,782.21 232.16,782.39 232.91,782.56 233.50,782.70 233.50,782.80 234.50,782.80 234.50,782.70 235.09,782.56 235.84,782.39 236.63,782.21 237.37,782.01 238.00,781.80 238.57,781.59 239.17,781.39 239.72,781.16 240.17,780.91 240.45,780.63 240.50,780.30 240.24,779.94 239.70,779.55 239.00,779.12 238.24,778.65 237.54,778.11 237.00,777.50 236.62,776.79 236.32,775.99 236.07,775.13 235.87,774.23 235.68,773.31 235.50,772.40 235.34,771.52 235.21,770.65 235.11,769.77 235.01,768.84 234.91,767.82 234.80,766.70 234.66,765.33 234.51,763.73 234.50,762.04 234.50,760.44 234.50,759.07 234.50,758.10" fill="#F2B01C"/>
<line x1="228.30" y1="780.30" x2="239.70" y2="780.30" stroke="#ffffff" stroke-width="0.75" stroke-linecap="butt" stroke-dasharray="1.8,0.9"/>
<polygon points="260.70,680.70 260.70,681.65 260.70,682.98 260.54,684.55 260.26,686.22 259.97,687.85 259.70,689.30 259.44,690.58 259.16,691.80 258.89,692.99 258.63,694.15 258.39,695.32 258.20,696.50 258.05,697.62 257.94,698.64 257.86,699.66 257.79,700.77 257.74,702.09 257.70,703.70 257.68,705.74 257.68,708.15 257.70,710.76 257.72,713.39 257.72,715.86 257.70,718.00 257.66,719.78 257.63,721.34 257.57,722.74 257.50,724.05 257.38,725.31 257.20,726.60 256.94,727.91 256.59,729.21 256.20,730.47 255.81,731.67 255.46,732.78 255.20,733.80 255.01,734.67 254.85,735.40 254.73,736.04 254.66,736.67 254.65,737.34 254.70,738.10 254.83,738.97 255.05,739.90 255.32,740.86 255.63,741.85 255.93,742.83 256.20,743.80 256.46,744.73 256.72,745.64 256.98,746.56 257.24,747.49 257.48,748.46 257.70,749.50 257.91,750.61 258.11,751.79 258.29,753.01 258.46,754.25 258.60,755.49 258.70,756.70 258.75,757.87 258.74,759.02 258.70,760.16 258.66,761.33 258.65,762.53 258.70,763.80 258.80,765.08 258.94,766.34 259.11,767.64 259.29,769.05 259.49,770.61 259.70,772.40 259.94,774.63 260.22,777.30 260.51,780.14 260.70,782.85 260.70,785.17 260.70,786.80 261.70,786.80 261.70,785.17 261.70,782.85 261.89,780.14 262.18,777.30 262.46,774.63 262.70,772.40 262.91,770.61 263.11,769.05 263.29,767.64 263.46,766.34 263.60,765.08 263.70,763.80 263.75,762.53 263.74,761.33 263.70,760.16 263.66,759.02 263.65,757.87 263.70,756.70 263.80,755.49 263.94,754.25 264.11,753.01 264.29,751.79 264.49,750.61 264.70,749.50 264.92,748.46 265.16,747.49 265.42,746.56 265.68,745.64 265.94,744.73 266.20,743.80 266.47,742.83 266.77,741.85 267.07,740.86 267.35,739.90 267.57,738.97 267.70,738.10 267.75,737.34 267.74,736.67 267.67,736.04 267.55,735.40 267.39,734.67 267.20,733.80 266.94,732.78 266.59,731.67 266.20,730.47 265.81,729.21 265.46,727.91 265.20,726.60 265.02,725.31 264.90,724.05 264.82,722.74 264.77,721.34 264.74,719.78 264.70,718.00 264.68,715.86 264.68,713.39 264.70,710.76 264.72,708.15 264.72,705.74 264.70,703.70 264.66,702.09 264.61,700.77 264.54,699.66 264.46,698.64 264.35,697.62 264.20,696.50 264.01,695.32 263.77,694.15 263.51,692.99 263.24,691.80 262.96,690.58 262.70,689.30 262.43,687.85 262.14,686.22 261.86,684.55 261.70,682.98 261.70,681.65 261.70,680.70" fill="#8FB0E0"/>
<line x1="258.52" y1="715.40" x2="263.88" y2="715.40" stroke="#ffffff" stroke-width="0.75" stroke-linecap="butt" stroke-dasharray="1.8,0.9"/>
<line x1="255.76" y1="734.90" x2="266.64" y2="734.90" stroke="#ffffff" stroke-width="0.75" stroke-linecap="butt" stroke-dasharray="1.8,0.9"/>
<line x1="256.23" y1="741.20" x2="266.17" y2="741.20" stroke="#ffffff" stroke-width="0.75" stroke-linecap="butt" stroke-dasharray="1.8,0.9"/>
<text x="0" y="0" font-size="9.2" text-anchor="start" fill="#1c1c1c" stroke="#1c1c1c" stroke-width="0.15" transform="translate(199.50 802.50) scale(1 1.03)">WT</text>
<text x="0" y="0" transform="translate(223.50 802.50) scale(1 1.03)" font-size="9.2" text-anchor="start" fill="#D8463F" stroke="#D8463F" stroke-width="0.105" font-style="italic">LAP1<tspan font-size="5.6" dx="0.4" dy="-3.3" font-style="normal" stroke-width="0.05">-/-</tspan></text>
<text x="0" y="0" font-size="9.2" text-anchor="start" fill="#1c1c1c" stroke="#1c1c1c" stroke-width="0.15" transform="translate(258.90 802.50) scale(1 1.03)">WT</text>
<text x="0" y="0" font-size="9.2" text-anchor="start" fill="#1c1c1c" stroke="#1c1c1c" stroke-width="0.15" transform="translate(199.50 818.50) scale(1 1.03)">WT</text>
<text x="0" y="0" font-size="9.2" text-anchor="start" fill="#1c1c1c" stroke="#1c1c1c" stroke-width="0.15" transform="translate(228.20 818.50) scale(1 1.03)">WT</text>
<text x="0" y="0" transform="translate(253.40 818.50) scale(1 1.03)" font-size="9.2" text-anchor="start" fill="#D8463F" stroke="#D8463F" stroke-width="0.105" font-style="italic">LAP1<tspan font-size="5.6" dx="0.4" dy="-3.3" font-style="normal" stroke-width="0.05">-/-</tspan></text>
<path d="M210.30 821.80 V825.00 H263.00 V821.80" fill="none" stroke="#3c3c3c" stroke-width="0.95"/>
<text x="0" y="0" font-size="9.9" text-anchor="start" fill="#1c1c1c" stroke="#1c1c1c" stroke-width="0.15" transform="translate(207.70 835.30) scale(1 1.03)">Second blood</text>
<text x="0" y="0" font-size="9" text-anchor="start" fill="#1c1c1c" font-weight="bold" stroke="#1c1c1c" stroke-width="0.15" transform="translate(372.30 640.50) scale(1 1.03)">l</text>
<rect x="394.20" y="675.40" width="14.70" height="112.10" fill="#E47678"/>
<rect x="418.20" y="675.40" width="14.30" height="112.10" fill="#E47678"/>
<rect x="418.20" y="752.75" width="14.30" height="34.75" fill="#A8A8AA"/>
<rect x="441.70" y="675.40" width="15.40" height="112.10" fill="#E47678"/>
<line x1="385.70" y1="674.90" x2="385.70" y2="788.00" stroke="#3c3c3c" stroke-width="1.1" stroke-linecap="butt"/>
<line x1="381.70" y1="787.50" x2="385.70" y2="787.50" stroke="#3c3c3c" stroke-width="1.0" stroke-linecap="butt"/>
<text x="0" y="0" font-size="9.2" text-anchor="end" fill="#1c1c1c" stroke="#1c1c1c" stroke-width="0.15" transform="translate(379.50 791.50) scale(1 1.08)">0</text>
<line x1="381.70" y1="765.08" x2="385.70" y2="765.08" stroke="#3c3c3c" stroke-width="1.0" stroke-linecap="butt"/>
<text x="0" y="0" font-size="9.2" text-anchor="end" fill="#1c1c1c" stroke="#1c1c1c" stroke-width="0.15" transform="translate(379.50 769.08) scale(1 1.08)">20</text>
<line x1="381.70" y1="742.66" x2="385.70" y2="742.66" stroke="#3c3c3c" stroke-width="1.0" stroke-linecap="butt"/>
<text x="0" y="0" font-size="9.2" text-anchor="end" fill="#1c1c1c" stroke="#1c1c1c" stroke-width="0.15" transform="translate(379.50 746.66) scale(1 1.08)">40</text>
<line x1="381.70" y1="720.24" x2="385.70" y2="720.24" stroke="#3c3c3c" stroke-width="1.0" stroke-linecap="butt"/>
<text x="0" y="0" font-size="9.2" text-anchor="end" fill="#1c1c1c" stroke="#1c1c1c" stroke-width="0.15" transform="translate(379.50 724.24) scale(1 1.08)">60</text>
<line x1="381.70" y1="697.82" x2="385.70" y2="697.82" stroke="#3c3c3c" stroke-width="1.0" stroke-linecap="butt"/>
<text x="0" y="0" font-size="9.2" text-anchor="end" fill="#1c1c1c" stroke="#1c1c1c" stroke-width="0.15" transform="translate(379.50 701.82) scale(1 1.08)">80</text>
<line x1="381.70" y1="675.40" x2="385.70" y2="675.40" stroke="#3c3c3c" stroke-width="1.0" stroke-linecap="butt"/>
<text x="0" y="0" font-size="9.2" text-anchor="end" fill="#1c1c1c" stroke="#1c1c1c" stroke-width="0.15" transform="translate(379.50 679.40) scale(1 1.08)">100</text>
<line x1="385.20" y1="787.50" x2="465.30" y2="787.50" stroke="#3c3c3c" stroke-width="1.1" stroke-linecap="butt"/>
<line x1="401.20" y1="787.50" x2="401.20" y2="790.50" stroke="#3c3c3c" stroke-width="1.0" stroke-linecap="butt"/>
<line x1="425.30" y1="787.50" x2="425.30" y2="790.50" stroke="#3c3c3c" stroke-width="1.0" stroke-linecap="butt"/>
<line x1="448.90" y1="787.50" x2="448.90" y2="790.50" stroke="#3c3c3c" stroke-width="1.0" stroke-linecap="butt"/>
<text x="0" y="0" font-size="9.3" text-anchor="middle" fill="#1c1c1c" stroke="#1c1c1c" stroke-width="0.15" transform="translate(426.00 741.50) scale(1 1.03)">69%</text>
<text x="0" y="0" transform="translate(391.60 667.50) scale(1 1.03)" font-size="9.2" font-weight="bold" fill="#1c1c1c" stroke="#1c1c1c" stroke-width="0.15"><tspan font-style="italic">P</tspan> &lt; 0.0001</text>
<path d="M400.90 674.00 V670.50 H426.00 V674.00" fill="none" stroke="#3c3c3c" stroke-width="0.95"/>
<text x="0" y="0" font-size="9.4" text-anchor="middle" fill="#1c1c1c" stroke="#1c1c1c" stroke-width="0.15" transform="translate(356.70 732.80) rotate(-90) scale(1 1.03)">% hatched/total mosquitoes</text>
<text x="0" y="0" font-size="9.2" text-anchor="start" fill="#1c1c1c" stroke="#1c1c1c" stroke-width="0.15" transform="translate(390.10 803.10) scale(1 1.03)">WT</text>
<text x="0" y="0" transform="translate(410.00 803.10) scale(1 1.03)" font-size="9.2" text-anchor="start" fill="#D8463F" stroke="#D8463F" stroke-width="0.105" font-style="italic">LAP1<tspan font-size="5.6" dx="0.4" dy="-3.3" font-style="normal" stroke-width="0.05">-/-</tspan></text>
<text x="0" y="0" font-size="9.2" text-anchor="start" fill="#1c1c1c" stroke="#1c1c1c" stroke-width="0.15" transform="translate(444.80 803.10) scale(1 1.03)">WT</text>
<text x="0" y="0" font-size="9.2" text-anchor="start" fill="#1c1c1c" stroke="#1c1c1c" stroke-width="0.15" transform="translate(390.10 819.50) scale(1 1.03)">WT</text>
<text x="0" y="0" font-size="9.2" text-anchor="start" fill="#1c1c1c" stroke="#1c1c1c" stroke-width="0.15" transform="translate(417.60 819.50) scale(1 1.03)">WT</text>
<text x="0" y="0" transform="translate(438.70 819.50) scale(1 1.03)" font-size="9.2" text-anchor="start" fill="#D8463F" stroke="#D8463F" stroke-width="0.105" font-style="italic">LAP1<tspan font-size="5.6" dx="0.4" dy="-3.3" font-style="normal" stroke-width="0.05">-/-</tspan></text>
<path d="M400.30 822.80 V826.00 H447.50 V822.80" fill="none" stroke="#3c3c3c" stroke-width="0.95"/>
<text x="0" y="0" font-size="9.9" text-anchor="start" fill="#1c1c1c" stroke="#1c1c1c" stroke-width="0.15" transform="translate(400.70 836.30) scale(1 1.03)">First blood</text>
<text x="0" y="0" font-size="9" text-anchor="start" fill="#1c1c1c" font-weight="bold" stroke="#1c1c1c" stroke-width="0.15" transform="translate(531.00 640.80) scale(1 1.03)">m</text>
<rect x="550.50" y="676.10" width="16.00" height="111.40" fill="#E47678"/>
<rect x="575.50" y="676.10" width="15.00" height="111.40" fill="#E47678"/>
<rect x="575.50" y="731.80" width="15.00" height="55.70" fill="#A8A8AA"/>
<rect x="598.70" y="676.10" width="15.30" height="111.40" fill="#E47678"/>
<line x1="541.50" y1="675.60" x2="541.50" y2="788.00" stroke="#3c3c3c" stroke-width="1.1" stroke-linecap="butt"/>
<line x1="537.50" y1="787.50" x2="541.50" y2="787.50" stroke="#3c3c3c" stroke-width="1.0" stroke-linecap="butt"/>
<text x="0" y="0" font-size="9.2" text-anchor="end" fill="#1c1c1c" stroke="#1c1c1c" stroke-width="0.15" transform="translate(535.30 791.50) scale(1 1.08)">0</text>
<line x1="537.50" y1="765.22" x2="541.50" y2="765.22" stroke="#3c3c3c" stroke-width="1.0" stroke-linecap="butt"/>
<text x="0" y="0" font-size="9.2" text-anchor="end" fill="#1c1c1c" stroke="#1c1c1c" stroke-width="0.15" transform="translate(535.30 769.22) scale(1 1.08)">20</text>
<line x1="537.50" y1="742.94" x2="541.50" y2="742.94" stroke="#3c3c3c" stroke-width="1.0" stroke-linecap="butt"/>
<text x="0" y="0" font-size="9.2" text-anchor="end" fill="#1c1c1c" stroke="#1c1c1c" stroke-width="0.15" transform="translate(535.30 746.94) scale(1 1.08)">40</text>
<line x1="537.50" y1="720.66" x2="541.50" y2="720.66" stroke="#3c3c3c" stroke-width="1.0" stroke-linecap="butt"/>
<text x="0" y="0" font-size="9.2" text-anchor="end" fill="#1c1c1c" stroke="#1c1c1c" stroke-width="0.15" transform="translate(535.30 724.66) scale(1 1.08)">60</text>
<line x1="537.50" y1="698.38" x2="541.50" y2="698.38" stroke="#3c3c3c" stroke-width="1.0" stroke-linecap="butt"/>
<text x="0" y="0" font-size="9.2" text-anchor="end" fill="#1c1c1c" stroke="#1c1c1c" stroke-width="0.15" transform="translate(535.30 702.38) scale(1 1.08)">80</text>
<line x1="537.50" y1="676.10" x2="541.50" y2="676.10" stroke="#3c3c3c" stroke-width="1.0" stroke-linecap="butt"/>
<text x="0" y="0" font-size="9.2" text-anchor="end" fill="#1c1c1c" stroke="#1c1c1c" stroke-width="0.15" transform="translate(535.30 680.10) scale(1 1.08)">100</text>
<line x1="541.00" y1="787.50" x2="622.20" y2="787.50" stroke="#3c3c3c" stroke-width="1.1" stroke-linecap="butt"/>
<line x1="558.30" y1="787.50" x2="558.30" y2="790.50" stroke="#3c3c3c" stroke-width="1.0" stroke-linecap="butt"/>
<line x1="582.30" y1="787.50" x2="582.30" y2="790.50" stroke="#3c3c3c" stroke-width="1.0" stroke-linecap="butt"/>
<line x1="605.80" y1="787.50" x2="605.80" y2="790.50" stroke="#3c3c3c" stroke-width="1.0" stroke-linecap="butt"/>
<text x="0" y="0" font-size="9.3" text-anchor="middle" fill="#1c1c1c" stroke="#1c1c1c" stroke-width="0.15" transform="translate(584.40 725.00) scale(1 1.03)">50%</text>
<text x="0" y="0" transform="translate(548.20 668.00) scale(1 1.03)" font-size="9.2" font-weight="bold" fill="#1c1c1c" stroke="#1c1c1c" stroke-width="0.15"><tspan font-style="italic">P</tspan> &lt; 0.0001</text>
<path d="M559.50 674.30 V670.80 H584.40 V674.30" fill="none" stroke="#3c3c3c" stroke-width="0.95"/>
<text x="0" y="0" font-size="9.4" text-anchor="middle" fill="#1c1c1c" stroke="#1c1c1c" stroke-width="0.15" transform="translate(514.20 731.50) rotate(-90) scale(1 1.03)">% hatched/total mosquitoes</text>
<rect x="620.60" y="671.20" width="14.00" height="8.60" fill="#E47678"/>
<rect x="620.60" y="689.90" width="14.00" height="8.60" fill="#A8A8AA"/>
<text x="0" y="0" font-size="9.6" text-anchor="start" fill="#2a2a2a" stroke="#2a2a2a" stroke-width="0.15" transform="translate(637.10 679.50) scale(1 1.03)">hatched</text>
<text x="0" y="0" font-size="9.6" text-anchor="start" fill="#2a2a2a" stroke="#2a2a2a" stroke-width="0.15" transform="translate(637.10 698.00) scale(1 1.03)">unhatched</text>
<text x="0" y="0" font-size="9.2" text-anchor="start" fill="#1c1c1c" stroke="#1c1c1c" stroke-width="0.15" transform="translate(548.90 803.10) scale(1 1.03)">WT</text>
<text x="0" y="0" transform="translate(568.90 803.10) scale(1 1.03)" font-size="9.2" text-anchor="start" fill="#D8463F" stroke="#D8463F" stroke-width="0.105" font-style="italic">LAP1<tspan font-size="5.6" dx="0.4" dy="-3.3" font-style="normal" stroke-width="0.05">-/-</tspan></text>
<text x="0" y="0" font-size="9.2" text-anchor="start" fill="#1c1c1c" stroke="#1c1c1c" stroke-width="0.15" transform="translate(602.10 803.10) scale(1 1.03)">WT</text>
<text x="0" y="0" font-size="9.2" text-anchor="start" fill="#1c1c1c" stroke="#1c1c1c" stroke-width="0.15" transform="translate(548.90 819.50) scale(1 1.03)">WT</text>
<text x="0" y="0" font-size="9.2" text-anchor="start" fill="#1c1c1c" stroke="#1c1c1c" stroke-width="0.15" transform="translate(575.50 819.50) scale(1 1.03)">WT</text>
<text x="0" y="0" transform="translate(596.00 819.50) scale(1 1.03)" font-size="9.2" text-anchor="start" fill="#D8463F" stroke="#D8463F" stroke-width="0.105" font-style="italic">LAP1<tspan font-size="5.6" dx="0.4" dy="-3.3" font-style="normal" stroke-width="0.05">-/-</tspan></text>
<path d="M556.60 822.80 V826.00 H608.30 V822.80" fill="none" stroke="#3c3c3c" stroke-width="0.95"/>
<text x="0" y="0" font-size="9.9" text-anchor="start" fill="#1c1c1c" stroke="#1c1c1c" stroke-width="0.15" transform="translate(553.00 836.30) scale(1 1.03)">Second blood</text></svg></body></html>
